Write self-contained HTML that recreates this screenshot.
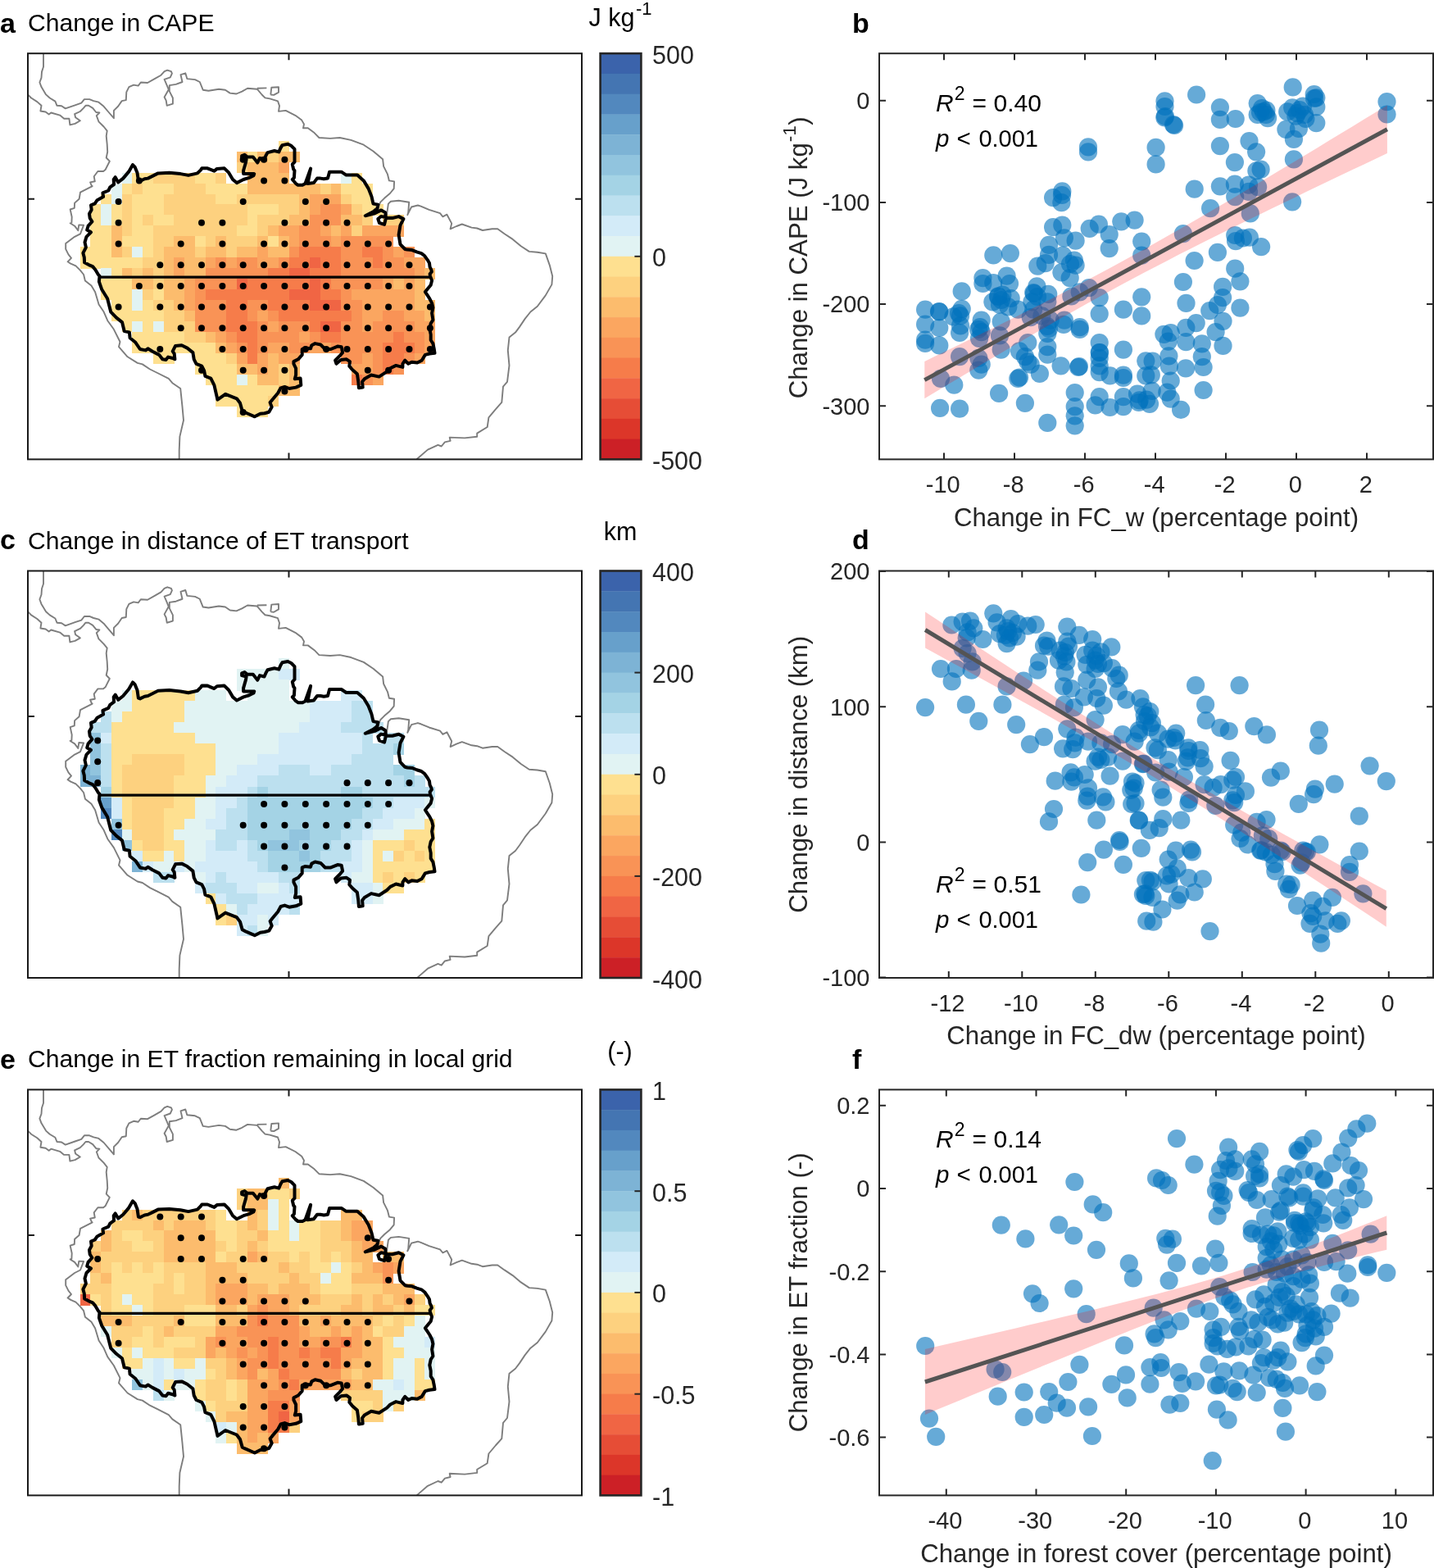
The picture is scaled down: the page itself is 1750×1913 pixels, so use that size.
<!DOCTYPE html>
<html><head><meta charset="utf-8"><title>Figure</title>
<style>html,body{margin:0;padding:0;background:#fff;} svg{display:block;} text{font-family:'Liberation Sans', Arial, Helvetica, sans-serif;}</style>
</head><body>
<svg xmlns="http://www.w3.org/2000/svg" width="1750" height="1913" viewBox="0 0 1750 1913">
<defs><clipPath id="clipm0"><rect x="34.0" y="65.2" width="676.0" height="495.2"/></clipPath><clipPath id="clipm1"><rect x="34.0" y="696.5" width="676.0" height="496.5"/></clipPath><clipPath id="clipm2"><rect x="34.0" y="1329.4" width="676.0" height="495.0"/></clipPath></defs>
<rect width="1750" height="1913" fill="#fff"/>
<text x="0.0" y="40.0" font-size="34" text-anchor="start" font-weight="bold" fill="#000">a</text>
<text x="1040.0" y="40.3" font-size="34" text-anchor="start" font-weight="bold" fill="#000">b</text>
<text x="0.0" y="669.8" font-size="34" text-anchor="start" font-weight="bold" fill="#000">c</text>
<text x="1040.0" y="670.3" font-size="34" text-anchor="start" font-weight="bold" fill="#000">d</text>
<text x="0.0" y="1304.0" font-size="34" text-anchor="start" font-weight="bold" fill="#000">e</text>
<text x="1040.0" y="1303.7" font-size="34" text-anchor="start" font-weight="bold" fill="#000">f</text>
<text x="34.0" y="38.0" font-size="30.1" text-anchor="start" fill="#000">Change in CAPE</text>
<text x="34.0" y="669.5" font-size="30.1" text-anchor="start" fill="#000">Change in distance of ET transport</text>
<text x="34.0" y="1302.0" font-size="30.1" text-anchor="start" fill="#000">Change in ET fraction remaining in local grid</text>
<rect x="732.6" y="65.20" width="49.8" height="25.16" fill="#3B63AB"/>
<rect x="732.6" y="89.96" width="49.8" height="25.16" fill="#4475B2"/>
<rect x="732.6" y="114.72" width="49.8" height="25.16" fill="#5288BE"/>
<rect x="732.6" y="139.48" width="49.8" height="25.16" fill="#67A0CB"/>
<rect x="732.6" y="164.24" width="49.8" height="25.16" fill="#7DB3D5"/>
<rect x="732.6" y="189.00" width="49.8" height="25.16" fill="#91C4DE"/>
<rect x="732.6" y="213.76" width="49.8" height="25.16" fill="#A4D3E5"/>
<rect x="732.6" y="238.52" width="49.8" height="25.16" fill="#BCE0EF"/>
<rect x="732.6" y="263.28" width="49.8" height="25.16" fill="#D3EBF8"/>
<rect x="732.6" y="288.04" width="49.8" height="25.16" fill="#E1F3F3"/>
<rect x="732.6" y="312.80" width="49.8" height="25.16" fill="#FEE090"/>
<rect x="732.6" y="337.56" width="49.8" height="25.16" fill="#FDD17F"/>
<rect x="732.6" y="362.32" width="49.8" height="25.16" fill="#FCBC6D"/>
<rect x="732.6" y="387.08" width="49.8" height="25.16" fill="#FBA660"/>
<rect x="732.6" y="411.84" width="49.8" height="25.16" fill="#F99356"/>
<rect x="732.6" y="436.60" width="49.8" height="25.16" fill="#F67C4A"/>
<rect x="732.6" y="461.36" width="49.8" height="25.16" fill="#F06544"/>
<rect x="732.6" y="486.12" width="49.8" height="25.16" fill="#E64D36"/>
<rect x="732.6" y="510.88" width="49.8" height="25.16" fill="#DC3629"/>
<rect x="732.6" y="535.64" width="49.8" height="25.16" fill="#CC2026"/>
<rect x="732.6" y="65.2" width="49.8" height="495.2" fill="none" stroke="#262626" stroke-width="2.6"/>
<text x="796.0" y="77.7" font-size="30.5" text-anchor="start" fill="#262626">500</text>
<line x1="774.4" y1="312.8" x2="782.4" y2="312.8" stroke="#262626" stroke-width="2"/>
<text x="796.0" y="325.3" font-size="30.5" text-anchor="start" fill="#262626">0</text>
<text x="796.0" y="572.9" font-size="30.5" text-anchor="start" fill="#262626">-500</text>
<text x="718.5" y="32.0" font-size="30.5" text-anchor="start" fill="#000">J kg<tspan font-size="22" dy="-14" dx="1.5">-1</tspan></text>
<rect x="732.6" y="696.50" width="49.8" height="25.22" fill="#3B63AB"/>
<rect x="732.6" y="721.33" width="49.8" height="25.22" fill="#4475B2"/>
<rect x="732.6" y="746.15" width="49.8" height="25.22" fill="#5288BE"/>
<rect x="732.6" y="770.98" width="49.8" height="25.22" fill="#67A0CB"/>
<rect x="732.6" y="795.80" width="49.8" height="25.22" fill="#7DB3D5"/>
<rect x="732.6" y="820.62" width="49.8" height="25.22" fill="#91C4DE"/>
<rect x="732.6" y="845.45" width="49.8" height="25.22" fill="#A4D3E5"/>
<rect x="732.6" y="870.27" width="49.8" height="25.22" fill="#BCE0EF"/>
<rect x="732.6" y="895.10" width="49.8" height="25.22" fill="#D3EBF8"/>
<rect x="732.6" y="919.92" width="49.8" height="25.22" fill="#E1F3F3"/>
<rect x="732.6" y="944.75" width="49.8" height="25.22" fill="#FEE090"/>
<rect x="732.6" y="969.58" width="49.8" height="25.22" fill="#FDD17F"/>
<rect x="732.6" y="994.40" width="49.8" height="25.22" fill="#FCBC6D"/>
<rect x="732.6" y="1019.22" width="49.8" height="25.22" fill="#FBA660"/>
<rect x="732.6" y="1044.05" width="49.8" height="25.22" fill="#F99356"/>
<rect x="732.6" y="1068.88" width="49.8" height="25.22" fill="#F67C4A"/>
<rect x="732.6" y="1093.70" width="49.8" height="25.22" fill="#F06544"/>
<rect x="732.6" y="1118.53" width="49.8" height="25.22" fill="#E64D36"/>
<rect x="732.6" y="1143.35" width="49.8" height="25.22" fill="#DC3629"/>
<rect x="732.6" y="1168.17" width="49.8" height="25.22" fill="#CC2026"/>
<rect x="732.6" y="696.5" width="49.8" height="496.5" fill="none" stroke="#262626" stroke-width="2.6"/>
<text x="796.0" y="709.0" font-size="30.5" text-anchor="start" fill="#262626">400</text>
<line x1="774.4" y1="820.6" x2="782.4" y2="820.6" stroke="#262626" stroke-width="2"/>
<text x="796.0" y="833.1" font-size="30.5" text-anchor="start" fill="#262626">200</text>
<line x1="774.4" y1="944.8" x2="782.4" y2="944.8" stroke="#262626" stroke-width="2"/>
<text x="796.0" y="957.2" font-size="30.5" text-anchor="start" fill="#262626">0</text>
<line x1="774.4" y1="1068.9" x2="782.4" y2="1068.9" stroke="#262626" stroke-width="2"/>
<text x="796.0" y="1081.4" font-size="30.5" text-anchor="start" fill="#262626">-200</text>
<text x="796.0" y="1205.5" font-size="30.5" text-anchor="start" fill="#262626">-400</text>
<text x="757.0" y="659.1" font-size="30.5" text-anchor="middle" fill="#000">km</text>
<rect x="732.6" y="1329.40" width="49.8" height="25.15" fill="#3B63AB"/>
<rect x="732.6" y="1354.15" width="49.8" height="25.15" fill="#4475B2"/>
<rect x="732.6" y="1378.90" width="49.8" height="25.15" fill="#5288BE"/>
<rect x="732.6" y="1403.65" width="49.8" height="25.15" fill="#67A0CB"/>
<rect x="732.6" y="1428.40" width="49.8" height="25.15" fill="#7DB3D5"/>
<rect x="732.6" y="1453.15" width="49.8" height="25.15" fill="#91C4DE"/>
<rect x="732.6" y="1477.90" width="49.8" height="25.15" fill="#A4D3E5"/>
<rect x="732.6" y="1502.65" width="49.8" height="25.15" fill="#BCE0EF"/>
<rect x="732.6" y="1527.40" width="49.8" height="25.15" fill="#D3EBF8"/>
<rect x="732.6" y="1552.15" width="49.8" height="25.15" fill="#E1F3F3"/>
<rect x="732.6" y="1576.90" width="49.8" height="25.15" fill="#FEE090"/>
<rect x="732.6" y="1601.65" width="49.8" height="25.15" fill="#FDD17F"/>
<rect x="732.6" y="1626.40" width="49.8" height="25.15" fill="#FCBC6D"/>
<rect x="732.6" y="1651.15" width="49.8" height="25.15" fill="#FBA660"/>
<rect x="732.6" y="1675.90" width="49.8" height="25.15" fill="#F99356"/>
<rect x="732.6" y="1700.65" width="49.8" height="25.15" fill="#F67C4A"/>
<rect x="732.6" y="1725.40" width="49.8" height="25.15" fill="#F06544"/>
<rect x="732.6" y="1750.15" width="49.8" height="25.15" fill="#E64D36"/>
<rect x="732.6" y="1774.90" width="49.8" height="25.15" fill="#DC3629"/>
<rect x="732.6" y="1799.65" width="49.8" height="25.15" fill="#CC2026"/>
<rect x="732.6" y="1329.4" width="49.8" height="495.0" fill="none" stroke="#262626" stroke-width="2.6"/>
<text x="796.0" y="1341.9" font-size="30.5" text-anchor="start" fill="#262626">1</text>
<line x1="774.4" y1="1453.2" x2="782.4" y2="1453.2" stroke="#262626" stroke-width="2"/>
<text x="796.0" y="1465.7" font-size="30.5" text-anchor="start" fill="#262626">0.5</text>
<line x1="774.4" y1="1576.9" x2="782.4" y2="1576.9" stroke="#262626" stroke-width="2"/>
<text x="796.0" y="1589.4" font-size="30.5" text-anchor="start" fill="#262626">0</text>
<line x1="774.4" y1="1700.7" x2="782.4" y2="1700.7" stroke="#262626" stroke-width="2"/>
<text x="796.0" y="1713.2" font-size="30.5" text-anchor="start" fill="#262626">-0.5</text>
<text x="796.0" y="1836.9" font-size="30.5" text-anchor="start" fill="#262626">-1</text>
<text x="756.5" y="1292.8" font-size="30.5" text-anchor="middle" fill="#000">(-)</text>
<g id="map0" clip-path="url(#clipm0)"><g transform=""><g shape-rendering="crispEdges"><rect x="339.75" y="171.75" width="13.15" height="13.35" fill="#FEE090"/><rect x="288.75" y="184.70" width="13.15" height="13.35" fill="#FCBC6D"/><rect x="301.50" y="184.70" width="13.15" height="13.35" fill="#FEE090"/><rect x="314.25" y="184.70" width="13.15" height="13.35" fill="#FCBC6D"/><rect x="327.00" y="184.70" width="13.15" height="13.35" fill="#FDD17F"/><rect x="339.75" y="184.70" width="13.15" height="13.35" fill="#FCBC6D"/><rect x="352.50" y="184.70" width="13.15" height="13.35" fill="#FCBC6D"/><rect x="288.75" y="197.65" width="13.15" height="13.35" fill="#FDD17F"/><rect x="301.50" y="197.65" width="13.15" height="13.35" fill="#FCBC6D"/><rect x="314.25" y="197.65" width="13.15" height="13.35" fill="#FCBC6D"/><rect x="327.00" y="197.65" width="13.15" height="13.35" fill="#FCBC6D"/><rect x="339.75" y="197.65" width="13.15" height="13.35" fill="#FBA660"/><rect x="148.50" y="210.60" width="13.15" height="13.35" fill="#E1F3F3"/><rect x="161.25" y="210.60" width="13.15" height="13.35" fill="#FEE090"/><rect x="174.00" y="210.60" width="13.15" height="13.35" fill="#FEE090"/><rect x="186.75" y="210.60" width="13.15" height="13.35" fill="#FDD17F"/><rect x="199.50" y="210.60" width="13.15" height="13.35" fill="#FDD17F"/><rect x="212.25" y="210.60" width="13.15" height="13.35" fill="#FDD17F"/><rect x="225.00" y="210.60" width="13.15" height="13.35" fill="#FDD17F"/><rect x="237.75" y="210.60" width="13.15" height="13.35" fill="#FEE090"/><rect x="250.50" y="210.60" width="13.15" height="13.35" fill="#FEE090"/><rect x="263.25" y="210.60" width="13.15" height="13.35" fill="#FDD17F"/><rect x="301.50" y="210.60" width="13.15" height="13.35" fill="#FCBC6D"/><rect x="314.25" y="210.60" width="13.15" height="13.35" fill="#FCBC6D"/><rect x="327.00" y="210.60" width="13.15" height="13.35" fill="#FCBC6D"/><rect x="339.75" y="210.60" width="13.15" height="13.35" fill="#FCBC6D"/><rect x="416.25" y="210.60" width="13.15" height="13.35" fill="#E1F3F3"/><rect x="429.00" y="210.60" width="13.15" height="13.35" fill="#FEE090"/><rect x="135.75" y="223.55" width="13.15" height="13.35" fill="#E1F3F3"/><rect x="148.50" y="223.55" width="13.15" height="13.35" fill="#FEE090"/><rect x="161.25" y="223.55" width="13.15" height="13.35" fill="#FDD17F"/><rect x="174.00" y="223.55" width="13.15" height="13.35" fill="#FEE090"/><rect x="186.75" y="223.55" width="13.15" height="13.35" fill="#FEE090"/><rect x="199.50" y="223.55" width="13.15" height="13.35" fill="#FEE090"/><rect x="212.25" y="223.55" width="13.15" height="13.35" fill="#FDD17F"/><rect x="225.00" y="223.55" width="13.15" height="13.35" fill="#FDD17F"/><rect x="237.75" y="223.55" width="13.15" height="13.35" fill="#FDD17F"/><rect x="250.50" y="223.55" width="13.15" height="13.35" fill="#FEE090"/><rect x="263.25" y="223.55" width="13.15" height="13.35" fill="#FEE090"/><rect x="276.00" y="223.55" width="13.15" height="13.35" fill="#FEE090"/><rect x="288.75" y="223.55" width="13.15" height="13.35" fill="#FEE090"/><rect x="301.50" y="223.55" width="13.15" height="13.35" fill="#FCBC6D"/><rect x="314.25" y="223.55" width="13.15" height="13.35" fill="#FCBC6D"/><rect x="327.00" y="223.55" width="13.15" height="13.35" fill="#FCBC6D"/><rect x="339.75" y="223.55" width="13.15" height="13.35" fill="#FCBC6D"/><rect x="352.50" y="223.55" width="13.15" height="13.35" fill="#FCBC6D"/><rect x="365.25" y="223.55" width="13.15" height="13.35" fill="#FCBC6D"/><rect x="378.00" y="223.55" width="13.15" height="13.35" fill="#FCBC6D"/><rect x="390.75" y="223.55" width="13.15" height="13.35" fill="#FDD17F"/><rect x="403.50" y="223.55" width="13.15" height="13.35" fill="#FCBC6D"/><rect x="416.25" y="223.55" width="13.15" height="13.35" fill="#FEE090"/><rect x="429.00" y="223.55" width="13.15" height="13.35" fill="#FEE090"/><rect x="441.75" y="223.55" width="13.15" height="13.35" fill="#FEE090"/><rect x="123.00" y="236.50" width="13.15" height="13.35" fill="#FEE090"/><rect x="135.75" y="236.50" width="13.15" height="13.35" fill="#E1F3F3"/><rect x="148.50" y="236.50" width="13.15" height="13.35" fill="#FDD17F"/><rect x="161.25" y="236.50" width="13.15" height="13.35" fill="#FEE090"/><rect x="174.00" y="236.50" width="13.15" height="13.35" fill="#FEE090"/><rect x="186.75" y="236.50" width="13.15" height="13.35" fill="#FEE090"/><rect x="199.50" y="236.50" width="13.15" height="13.35" fill="#FDD17F"/><rect x="212.25" y="236.50" width="13.15" height="13.35" fill="#FDD17F"/><rect x="225.00" y="236.50" width="13.15" height="13.35" fill="#FDD17F"/><rect x="237.75" y="236.50" width="13.15" height="13.35" fill="#FDD17F"/><rect x="250.50" y="236.50" width="13.15" height="13.35" fill="#FDD17F"/><rect x="263.25" y="236.50" width="13.15" height="13.35" fill="#FEE090"/><rect x="276.00" y="236.50" width="13.15" height="13.35" fill="#FEE090"/><rect x="288.75" y="236.50" width="13.15" height="13.35" fill="#FDD17F"/><rect x="301.50" y="236.50" width="13.15" height="13.35" fill="#FDD17F"/><rect x="314.25" y="236.50" width="13.15" height="13.35" fill="#FDD17F"/><rect x="327.00" y="236.50" width="13.15" height="13.35" fill="#FDD17F"/><rect x="339.75" y="236.50" width="13.15" height="13.35" fill="#FDD17F"/><rect x="352.50" y="236.50" width="13.15" height="13.35" fill="#FDD17F"/><rect x="365.25" y="236.50" width="13.15" height="13.35" fill="#FCBC6D"/><rect x="378.00" y="236.50" width="13.15" height="13.35" fill="#FBA660"/><rect x="390.75" y="236.50" width="13.15" height="13.35" fill="#FBA660"/><rect x="403.50" y="236.50" width="13.15" height="13.35" fill="#FBA660"/><rect x="416.25" y="236.50" width="13.15" height="13.35" fill="#FDD17F"/><rect x="429.00" y="236.50" width="13.15" height="13.35" fill="#FEE090"/><rect x="441.75" y="236.50" width="13.15" height="13.35" fill="#FEE090"/><rect x="110.25" y="249.45" width="13.15" height="13.35" fill="#FEE090"/><rect x="123.00" y="249.45" width="13.15" height="13.35" fill="#E1F3F3"/><rect x="135.75" y="249.45" width="13.15" height="13.35" fill="#FEE090"/><rect x="148.50" y="249.45" width="13.15" height="13.35" fill="#FDD17F"/><rect x="161.25" y="249.45" width="13.15" height="13.35" fill="#FEE090"/><rect x="174.00" y="249.45" width="13.15" height="13.35" fill="#FEE090"/><rect x="186.75" y="249.45" width="13.15" height="13.35" fill="#FEE090"/><rect x="199.50" y="249.45" width="13.15" height="13.35" fill="#FDD17F"/><rect x="212.25" y="249.45" width="13.15" height="13.35" fill="#FDD17F"/><rect x="225.00" y="249.45" width="13.15" height="13.35" fill="#FDD17F"/><rect x="237.75" y="249.45" width="13.15" height="13.35" fill="#FDD17F"/><rect x="250.50" y="249.45" width="13.15" height="13.35" fill="#FDD17F"/><rect x="263.25" y="249.45" width="13.15" height="13.35" fill="#FDD17F"/><rect x="276.00" y="249.45" width="13.15" height="13.35" fill="#FDD17F"/><rect x="288.75" y="249.45" width="13.15" height="13.35" fill="#FDD17F"/><rect x="301.50" y="249.45" width="13.15" height="13.35" fill="#FEE090"/><rect x="314.25" y="249.45" width="13.15" height="13.35" fill="#FEE090"/><rect x="327.00" y="249.45" width="13.15" height="13.35" fill="#FEE090"/><rect x="339.75" y="249.45" width="13.15" height="13.35" fill="#FDD17F"/><rect x="352.50" y="249.45" width="13.15" height="13.35" fill="#FDD17F"/><rect x="365.25" y="249.45" width="13.15" height="13.35" fill="#FCBC6D"/><rect x="378.00" y="249.45" width="13.15" height="13.35" fill="#FBA660"/><rect x="390.75" y="249.45" width="13.15" height="13.35" fill="#F99356"/><rect x="403.50" y="249.45" width="13.15" height="13.35" fill="#F99356"/><rect x="416.25" y="249.45" width="13.15" height="13.35" fill="#FBA660"/><rect x="429.00" y="249.45" width="13.15" height="13.35" fill="#FDD17F"/><rect x="441.75" y="249.45" width="13.15" height="13.35" fill="#FEE090"/><rect x="454.50" y="249.45" width="13.15" height="13.35" fill="#FEE090"/><rect x="110.25" y="262.40" width="13.15" height="13.35" fill="#FEE090"/><rect x="123.00" y="262.40" width="13.15" height="13.35" fill="#E1F3F3"/><rect x="135.75" y="262.40" width="13.15" height="13.35" fill="#FEE090"/><rect x="148.50" y="262.40" width="13.15" height="13.35" fill="#FDD17F"/><rect x="161.25" y="262.40" width="13.15" height="13.35" fill="#FEE090"/><rect x="174.00" y="262.40" width="13.15" height="13.35" fill="#FDD17F"/><rect x="186.75" y="262.40" width="13.15" height="13.35" fill="#FEE090"/><rect x="199.50" y="262.40" width="13.15" height="13.35" fill="#FEE090"/><rect x="212.25" y="262.40" width="13.15" height="13.35" fill="#FDD17F"/><rect x="225.00" y="262.40" width="13.15" height="13.35" fill="#FDD17F"/><rect x="237.75" y="262.40" width="13.15" height="13.35" fill="#FDD17F"/><rect x="250.50" y="262.40" width="13.15" height="13.35" fill="#FDD17F"/><rect x="263.25" y="262.40" width="13.15" height="13.35" fill="#FDD17F"/><rect x="276.00" y="262.40" width="13.15" height="13.35" fill="#FDD17F"/><rect x="288.75" y="262.40" width="13.15" height="13.35" fill="#FDD17F"/><rect x="301.50" y="262.40" width="13.15" height="13.35" fill="#FEE090"/><rect x="314.25" y="262.40" width="13.15" height="13.35" fill="#FDD17F"/><rect x="327.00" y="262.40" width="13.15" height="13.35" fill="#FDD17F"/><rect x="339.75" y="262.40" width="13.15" height="13.35" fill="#FDD17F"/><rect x="352.50" y="262.40" width="13.15" height="13.35" fill="#FCBC6D"/><rect x="365.25" y="262.40" width="13.15" height="13.35" fill="#FCBC6D"/><rect x="378.00" y="262.40" width="13.15" height="13.35" fill="#F99356"/><rect x="390.75" y="262.40" width="13.15" height="13.35" fill="#F99356"/><rect x="403.50" y="262.40" width="13.15" height="13.35" fill="#F99356"/><rect x="416.25" y="262.40" width="13.15" height="13.35" fill="#FCBC6D"/><rect x="429.00" y="262.40" width="13.15" height="13.35" fill="#FCBC6D"/><rect x="441.75" y="262.40" width="13.15" height="13.35" fill="#FDD17F"/><rect x="467.25" y="262.40" width="13.15" height="13.35" fill="#FDD17F"/><rect x="480.00" y="262.40" width="13.15" height="13.35" fill="#FDD17F"/><rect x="110.25" y="275.35" width="13.15" height="13.35" fill="#FEE090"/><rect x="123.00" y="275.35" width="13.15" height="13.35" fill="#FEE090"/><rect x="135.75" y="275.35" width="13.15" height="13.35" fill="#FCBC6D"/><rect x="148.50" y="275.35" width="13.15" height="13.35" fill="#FDD17F"/><rect x="161.25" y="275.35" width="13.15" height="13.35" fill="#FEE090"/><rect x="174.00" y="275.35" width="13.15" height="13.35" fill="#FEE090"/><rect x="186.75" y="275.35" width="13.15" height="13.35" fill="#FDD17F"/><rect x="199.50" y="275.35" width="13.15" height="13.35" fill="#FDD17F"/><rect x="212.25" y="275.35" width="13.15" height="13.35" fill="#FDD17F"/><rect x="225.00" y="275.35" width="13.15" height="13.35" fill="#FDD17F"/><rect x="237.75" y="275.35" width="13.15" height="13.35" fill="#FDD17F"/><rect x="250.50" y="275.35" width="13.15" height="13.35" fill="#FDD17F"/><rect x="263.25" y="275.35" width="13.15" height="13.35" fill="#FDD17F"/><rect x="276.00" y="275.35" width="13.15" height="13.35" fill="#FDD17F"/><rect x="288.75" y="275.35" width="13.15" height="13.35" fill="#FEE090"/><rect x="301.50" y="275.35" width="13.15" height="13.35" fill="#FEE090"/><rect x="314.25" y="275.35" width="13.15" height="13.35" fill="#FDD17F"/><rect x="327.00" y="275.35" width="13.15" height="13.35" fill="#FCBC6D"/><rect x="339.75" y="275.35" width="13.15" height="13.35" fill="#FBA660"/><rect x="352.50" y="275.35" width="13.15" height="13.35" fill="#FBA660"/><rect x="365.25" y="275.35" width="13.15" height="13.35" fill="#F99356"/><rect x="378.00" y="275.35" width="13.15" height="13.35" fill="#F99356"/><rect x="390.75" y="275.35" width="13.15" height="13.35" fill="#FBA660"/><rect x="403.50" y="275.35" width="13.15" height="13.35" fill="#FCBC6D"/><rect x="416.25" y="275.35" width="13.15" height="13.35" fill="#FBA660"/><rect x="429.00" y="275.35" width="13.15" height="13.35" fill="#FDD17F"/><rect x="441.75" y="275.35" width="13.15" height="13.35" fill="#FBA660"/><rect x="454.50" y="275.35" width="13.15" height="13.35" fill="#FBA660"/><rect x="467.25" y="275.35" width="13.15" height="13.35" fill="#FBA660"/><rect x="480.00" y="275.35" width="13.15" height="13.35" fill="#FBA660"/><rect x="110.25" y="288.30" width="13.15" height="13.35" fill="#FEE090"/><rect x="123.00" y="288.30" width="13.15" height="13.35" fill="#FEE090"/><rect x="135.75" y="288.30" width="13.15" height="13.35" fill="#FCBC6D"/><rect x="148.50" y="288.30" width="13.15" height="13.35" fill="#FEE090"/><rect x="161.25" y="288.30" width="13.15" height="13.35" fill="#FEE090"/><rect x="174.00" y="288.30" width="13.15" height="13.35" fill="#FEE090"/><rect x="186.75" y="288.30" width="13.15" height="13.35" fill="#FDD17F"/><rect x="199.50" y="288.30" width="13.15" height="13.35" fill="#FDD17F"/><rect x="212.25" y="288.30" width="13.15" height="13.35" fill="#FCBC6D"/><rect x="225.00" y="288.30" width="13.15" height="13.35" fill="#FCBC6D"/><rect x="237.75" y="288.30" width="13.15" height="13.35" fill="#FEE090"/><rect x="250.50" y="288.30" width="13.15" height="13.35" fill="#FDD17F"/><rect x="263.25" y="288.30" width="13.15" height="13.35" fill="#FCBC6D"/><rect x="276.00" y="288.30" width="13.15" height="13.35" fill="#FDD17F"/><rect x="288.75" y="288.30" width="13.15" height="13.35" fill="#FDD17F"/><rect x="301.50" y="288.30" width="13.15" height="13.35" fill="#FDD17F"/><rect x="314.25" y="288.30" width="13.15" height="13.35" fill="#FCBC6D"/><rect x="327.00" y="288.30" width="13.15" height="13.35" fill="#FEE090"/><rect x="339.75" y="288.30" width="13.15" height="13.35" fill="#FCBC6D"/><rect x="352.50" y="288.30" width="13.15" height="13.35" fill="#FBA660"/><rect x="365.25" y="288.30" width="13.15" height="13.35" fill="#F99356"/><rect x="378.00" y="288.30" width="13.15" height="13.35" fill="#F99356"/><rect x="390.75" y="288.30" width="13.15" height="13.35" fill="#F99356"/><rect x="403.50" y="288.30" width="13.15" height="13.35" fill="#FBA660"/><rect x="416.25" y="288.30" width="13.15" height="13.35" fill="#F99356"/><rect x="429.00" y="288.30" width="13.15" height="13.35" fill="#F99356"/><rect x="441.75" y="288.30" width="13.15" height="13.35" fill="#F99356"/><rect x="454.50" y="288.30" width="13.15" height="13.35" fill="#F99356"/><rect x="467.25" y="288.30" width="13.15" height="13.35" fill="#F99356"/><rect x="97.50" y="301.25" width="13.15" height="13.35" fill="#FEE090"/><rect x="110.25" y="301.25" width="13.15" height="13.35" fill="#FEE090"/><rect x="123.00" y="301.25" width="13.15" height="13.35" fill="#FEE090"/><rect x="135.75" y="301.25" width="13.15" height="13.35" fill="#FCBC6D"/><rect x="148.50" y="301.25" width="13.15" height="13.35" fill="#FDD17F"/><rect x="161.25" y="301.25" width="13.15" height="13.35" fill="#E1F3F3"/><rect x="174.00" y="301.25" width="13.15" height="13.35" fill="#FEE090"/><rect x="186.75" y="301.25" width="13.15" height="13.35" fill="#FDD17F"/><rect x="199.50" y="301.25" width="13.15" height="13.35" fill="#FCBC6D"/><rect x="212.25" y="301.25" width="13.15" height="13.35" fill="#FCBC6D"/><rect x="225.00" y="301.25" width="13.15" height="13.35" fill="#FCBC6D"/><rect x="237.75" y="301.25" width="13.15" height="13.35" fill="#FDD17F"/><rect x="250.50" y="301.25" width="13.15" height="13.35" fill="#FCBC6D"/><rect x="263.25" y="301.25" width="13.15" height="13.35" fill="#FCBC6D"/><rect x="276.00" y="301.25" width="13.15" height="13.35" fill="#FDD17F"/><rect x="288.75" y="301.25" width="13.15" height="13.35" fill="#FCBC6D"/><rect x="301.50" y="301.25" width="13.15" height="13.35" fill="#FCBC6D"/><rect x="314.25" y="301.25" width="13.15" height="13.35" fill="#FBA660"/><rect x="327.00" y="301.25" width="13.15" height="13.35" fill="#FCBC6D"/><rect x="339.75" y="301.25" width="13.15" height="13.35" fill="#FCBC6D"/><rect x="352.50" y="301.25" width="13.15" height="13.35" fill="#F99356"/><rect x="365.25" y="301.25" width="13.15" height="13.35" fill="#F67C4A"/><rect x="378.00" y="301.25" width="13.15" height="13.35" fill="#F67C4A"/><rect x="390.75" y="301.25" width="13.15" height="13.35" fill="#F67C4A"/><rect x="403.50" y="301.25" width="13.15" height="13.35" fill="#F67C4A"/><rect x="416.25" y="301.25" width="13.15" height="13.35" fill="#F99356"/><rect x="429.00" y="301.25" width="13.15" height="13.35" fill="#F99356"/><rect x="441.75" y="301.25" width="13.15" height="13.35" fill="#F67C4A"/><rect x="454.50" y="301.25" width="13.15" height="13.35" fill="#F67C4A"/><rect x="467.25" y="301.25" width="13.15" height="13.35" fill="#F99356"/><rect x="480.00" y="301.25" width="13.15" height="13.35" fill="#FBA660"/><rect x="492.75" y="301.25" width="13.15" height="13.35" fill="#F99356"/><rect x="97.50" y="314.20" width="13.15" height="13.35" fill="#FEE090"/><rect x="110.25" y="314.20" width="13.15" height="13.35" fill="#FEE090"/><rect x="123.00" y="314.20" width="13.15" height="13.35" fill="#FEE090"/><rect x="135.75" y="314.20" width="13.15" height="13.35" fill="#FEE090"/><rect x="148.50" y="314.20" width="13.15" height="13.35" fill="#FEE090"/><rect x="161.25" y="314.20" width="13.15" height="13.35" fill="#FEE090"/><rect x="174.00" y="314.20" width="13.15" height="13.35" fill="#FDD17F"/><rect x="186.75" y="314.20" width="13.15" height="13.35" fill="#FDD17F"/><rect x="199.50" y="314.20" width="13.15" height="13.35" fill="#FCBC6D"/><rect x="212.25" y="314.20" width="13.15" height="13.35" fill="#FBA660"/><rect x="225.00" y="314.20" width="13.15" height="13.35" fill="#FCBC6D"/><rect x="237.75" y="314.20" width="13.15" height="13.35" fill="#FCBC6D"/><rect x="250.50" y="314.20" width="13.15" height="13.35" fill="#FBA660"/><rect x="263.25" y="314.20" width="13.15" height="13.35" fill="#F99356"/><rect x="276.00" y="314.20" width="13.15" height="13.35" fill="#FBA660"/><rect x="288.75" y="314.20" width="13.15" height="13.35" fill="#F99356"/><rect x="301.50" y="314.20" width="13.15" height="13.35" fill="#F99356"/><rect x="314.25" y="314.20" width="13.15" height="13.35" fill="#FBA660"/><rect x="327.00" y="314.20" width="13.15" height="13.35" fill="#FBA660"/><rect x="339.75" y="314.20" width="13.15" height="13.35" fill="#F99356"/><rect x="352.50" y="314.20" width="13.15" height="13.35" fill="#F67C4A"/><rect x="365.25" y="314.20" width="13.15" height="13.35" fill="#F67C4A"/><rect x="378.00" y="314.20" width="13.15" height="13.35" fill="#F06544"/><rect x="390.75" y="314.20" width="13.15" height="13.35" fill="#F67C4A"/><rect x="403.50" y="314.20" width="13.15" height="13.35" fill="#F67C4A"/><rect x="416.25" y="314.20" width="13.15" height="13.35" fill="#F99356"/><rect x="429.00" y="314.20" width="13.15" height="13.35" fill="#F99356"/><rect x="441.75" y="314.20" width="13.15" height="13.35" fill="#F99356"/><rect x="454.50" y="314.20" width="13.15" height="13.35" fill="#F67C4A"/><rect x="467.25" y="314.20" width="13.15" height="13.35" fill="#F99356"/><rect x="480.00" y="314.20" width="13.15" height="13.35" fill="#F99356"/><rect x="492.75" y="314.20" width="13.15" height="13.35" fill="#FBA660"/><rect x="505.50" y="314.20" width="13.15" height="13.35" fill="#FBA660"/><rect x="123.00" y="327.15" width="13.15" height="13.35" fill="#E1F3F3"/><rect x="135.75" y="327.15" width="13.15" height="13.35" fill="#FEE090"/><rect x="148.50" y="327.15" width="13.15" height="13.35" fill="#FCBC6D"/><rect x="161.25" y="327.15" width="13.15" height="13.35" fill="#FDD17F"/><rect x="174.00" y="327.15" width="13.15" height="13.35" fill="#FCBC6D"/><rect x="186.75" y="327.15" width="13.15" height="13.35" fill="#FDD17F"/><rect x="199.50" y="327.15" width="13.15" height="13.35" fill="#FCBC6D"/><rect x="212.25" y="327.15" width="13.15" height="13.35" fill="#FBA660"/><rect x="225.00" y="327.15" width="13.15" height="13.35" fill="#FCBC6D"/><rect x="237.75" y="327.15" width="13.15" height="13.35" fill="#FCBC6D"/><rect x="250.50" y="327.15" width="13.15" height="13.35" fill="#F99356"/><rect x="263.25" y="327.15" width="13.15" height="13.35" fill="#F99356"/><rect x="276.00" y="327.15" width="13.15" height="13.35" fill="#F99356"/><rect x="288.75" y="327.15" width="13.15" height="13.35" fill="#F99356"/><rect x="301.50" y="327.15" width="13.15" height="13.35" fill="#F99356"/><rect x="314.25" y="327.15" width="13.15" height="13.35" fill="#F99356"/><rect x="327.00" y="327.15" width="13.15" height="13.35" fill="#F67C4A"/><rect x="339.75" y="327.15" width="13.15" height="13.35" fill="#F67C4A"/><rect x="352.50" y="327.15" width="13.15" height="13.35" fill="#F06544"/><rect x="365.25" y="327.15" width="13.15" height="13.35" fill="#F06544"/><rect x="378.00" y="327.15" width="13.15" height="13.35" fill="#F67C4A"/><rect x="390.75" y="327.15" width="13.15" height="13.35" fill="#F67C4A"/><rect x="403.50" y="327.15" width="13.15" height="13.35" fill="#F67C4A"/><rect x="416.25" y="327.15" width="13.15" height="13.35" fill="#F99356"/><rect x="429.00" y="327.15" width="13.15" height="13.35" fill="#F99356"/><rect x="441.75" y="327.15" width="13.15" height="13.35" fill="#F99356"/><rect x="454.50" y="327.15" width="13.15" height="13.35" fill="#F99356"/><rect x="467.25" y="327.15" width="13.15" height="13.35" fill="#F99356"/><rect x="480.00" y="327.15" width="13.15" height="13.35" fill="#F99356"/><rect x="492.75" y="327.15" width="13.15" height="13.35" fill="#F99356"/><rect x="505.50" y="327.15" width="13.15" height="13.35" fill="#FBA660"/><rect x="518.25" y="327.15" width="13.15" height="13.35" fill="#FCBC6D"/><rect x="123.00" y="340.10" width="13.15" height="13.35" fill="#FEE090"/><rect x="135.75" y="340.10" width="13.15" height="13.35" fill="#FEE090"/><rect x="148.50" y="340.10" width="13.15" height="13.35" fill="#FEE090"/><rect x="161.25" y="340.10" width="13.15" height="13.35" fill="#FCBC6D"/><rect x="174.00" y="340.10" width="13.15" height="13.35" fill="#FCBC6D"/><rect x="186.75" y="340.10" width="13.15" height="13.35" fill="#FDD17F"/><rect x="199.50" y="340.10" width="13.15" height="13.35" fill="#FCBC6D"/><rect x="212.25" y="340.10" width="13.15" height="13.35" fill="#FCBC6D"/><rect x="225.00" y="340.10" width="13.15" height="13.35" fill="#FBA660"/><rect x="237.75" y="340.10" width="13.15" height="13.35" fill="#F99356"/><rect x="250.50" y="340.10" width="13.15" height="13.35" fill="#F99356"/><rect x="263.25" y="340.10" width="13.15" height="13.35" fill="#F99356"/><rect x="276.00" y="340.10" width="13.15" height="13.35" fill="#F99356"/><rect x="288.75" y="340.10" width="13.15" height="13.35" fill="#F06544"/><rect x="301.50" y="340.10" width="13.15" height="13.35" fill="#F67C4A"/><rect x="314.25" y="340.10" width="13.15" height="13.35" fill="#F67C4A"/><rect x="327.00" y="340.10" width="13.15" height="13.35" fill="#F67C4A"/><rect x="339.75" y="340.10" width="13.15" height="13.35" fill="#F67C4A"/><rect x="352.50" y="340.10" width="13.15" height="13.35" fill="#F67C4A"/><rect x="365.25" y="340.10" width="13.15" height="13.35" fill="#F67C4A"/><rect x="378.00" y="340.10" width="13.15" height="13.35" fill="#F06544"/><rect x="390.75" y="340.10" width="13.15" height="13.35" fill="#F67C4A"/><rect x="403.50" y="340.10" width="13.15" height="13.35" fill="#F99356"/><rect x="416.25" y="340.10" width="13.15" height="13.35" fill="#F99356"/><rect x="429.00" y="340.10" width="13.15" height="13.35" fill="#F99356"/><rect x="441.75" y="340.10" width="13.15" height="13.35" fill="#F99356"/><rect x="454.50" y="340.10" width="13.15" height="13.35" fill="#F99356"/><rect x="467.25" y="340.10" width="13.15" height="13.35" fill="#FBA660"/><rect x="480.00" y="340.10" width="13.15" height="13.35" fill="#FCBC6D"/><rect x="492.75" y="340.10" width="13.15" height="13.35" fill="#FBA660"/><rect x="505.50" y="340.10" width="13.15" height="13.35" fill="#FCBC6D"/><rect x="123.00" y="353.05" width="13.15" height="13.35" fill="#FEE090"/><rect x="135.75" y="353.05" width="13.15" height="13.35" fill="#FEE090"/><rect x="148.50" y="353.05" width="13.15" height="13.35" fill="#FEE090"/><rect x="161.25" y="353.05" width="13.15" height="13.35" fill="#E1F3F3"/><rect x="174.00" y="353.05" width="13.15" height="13.35" fill="#FDD17F"/><rect x="186.75" y="353.05" width="13.15" height="13.35" fill="#FEE090"/><rect x="199.50" y="353.05" width="13.15" height="13.35" fill="#FCBC6D"/><rect x="212.25" y="353.05" width="13.15" height="13.35" fill="#FCBC6D"/><rect x="225.00" y="353.05" width="13.15" height="13.35" fill="#FBA660"/><rect x="237.75" y="353.05" width="13.15" height="13.35" fill="#F99356"/><rect x="250.50" y="353.05" width="13.15" height="13.35" fill="#F67C4A"/><rect x="263.25" y="353.05" width="13.15" height="13.35" fill="#F67C4A"/><rect x="276.00" y="353.05" width="13.15" height="13.35" fill="#F67C4A"/><rect x="288.75" y="353.05" width="13.15" height="13.35" fill="#F67C4A"/><rect x="301.50" y="353.05" width="13.15" height="13.35" fill="#F67C4A"/><rect x="314.25" y="353.05" width="13.15" height="13.35" fill="#F67C4A"/><rect x="327.00" y="353.05" width="13.15" height="13.35" fill="#F67C4A"/><rect x="339.75" y="353.05" width="13.15" height="13.35" fill="#F67C4A"/><rect x="352.50" y="353.05" width="13.15" height="13.35" fill="#F06544"/><rect x="365.25" y="353.05" width="13.15" height="13.35" fill="#F06544"/><rect x="378.00" y="353.05" width="13.15" height="13.35" fill="#F06544"/><rect x="390.75" y="353.05" width="13.15" height="13.35" fill="#F67C4A"/><rect x="403.50" y="353.05" width="13.15" height="13.35" fill="#F67C4A"/><rect x="416.25" y="353.05" width="13.15" height="13.35" fill="#F99356"/><rect x="429.00" y="353.05" width="13.15" height="13.35" fill="#FBA660"/><rect x="441.75" y="353.05" width="13.15" height="13.35" fill="#FBA660"/><rect x="454.50" y="353.05" width="13.15" height="13.35" fill="#FBA660"/><rect x="467.25" y="353.05" width="13.15" height="13.35" fill="#FBA660"/><rect x="480.00" y="353.05" width="13.15" height="13.35" fill="#FBA660"/><rect x="492.75" y="353.05" width="13.15" height="13.35" fill="#FBA660"/><rect x="505.50" y="353.05" width="13.15" height="13.35" fill="#FCBC6D"/><rect x="135.75" y="366.00" width="13.15" height="13.35" fill="#FEE090"/><rect x="148.50" y="366.00" width="13.15" height="13.35" fill="#FEE090"/><rect x="161.25" y="366.00" width="13.15" height="13.35" fill="#E1F3F3"/><rect x="174.00" y="366.00" width="13.15" height="13.35" fill="#FEE090"/><rect x="186.75" y="366.00" width="13.15" height="13.35" fill="#FDD17F"/><rect x="199.50" y="366.00" width="13.15" height="13.35" fill="#FDD17F"/><rect x="212.25" y="366.00" width="13.15" height="13.35" fill="#FCBC6D"/><rect x="225.00" y="366.00" width="13.15" height="13.35" fill="#FBA660"/><rect x="237.75" y="366.00" width="13.15" height="13.35" fill="#F99356"/><rect x="250.50" y="366.00" width="13.15" height="13.35" fill="#F99356"/><rect x="263.25" y="366.00" width="13.15" height="13.35" fill="#F99356"/><rect x="276.00" y="366.00" width="13.15" height="13.35" fill="#F67C4A"/><rect x="288.75" y="366.00" width="13.15" height="13.35" fill="#F67C4A"/><rect x="301.50" y="366.00" width="13.15" height="13.35" fill="#F99356"/><rect x="314.25" y="366.00" width="13.15" height="13.35" fill="#F99356"/><rect x="327.00" y="366.00" width="13.15" height="13.35" fill="#F67C4A"/><rect x="339.75" y="366.00" width="13.15" height="13.35" fill="#F67C4A"/><rect x="352.50" y="366.00" width="13.15" height="13.35" fill="#F67C4A"/><rect x="365.25" y="366.00" width="13.15" height="13.35" fill="#F67C4A"/><rect x="378.00" y="366.00" width="13.15" height="13.35" fill="#F06544"/><rect x="390.75" y="366.00" width="13.15" height="13.35" fill="#F06544"/><rect x="403.50" y="366.00" width="13.15" height="13.35" fill="#F06544"/><rect x="416.25" y="366.00" width="13.15" height="13.35" fill="#F99356"/><rect x="429.00" y="366.00" width="13.15" height="13.35" fill="#F99356"/><rect x="441.75" y="366.00" width="13.15" height="13.35" fill="#FBA660"/><rect x="454.50" y="366.00" width="13.15" height="13.35" fill="#FBA660"/><rect x="467.25" y="366.00" width="13.15" height="13.35" fill="#FBA660"/><rect x="480.00" y="366.00" width="13.15" height="13.35" fill="#FBA660"/><rect x="492.75" y="366.00" width="13.15" height="13.35" fill="#FBA660"/><rect x="505.50" y="366.00" width="13.15" height="13.35" fill="#FCBC6D"/><rect x="518.25" y="366.00" width="13.15" height="13.35" fill="#FCBC6D"/><rect x="135.75" y="378.95" width="13.15" height="13.35" fill="#FEE090"/><rect x="148.50" y="378.95" width="13.15" height="13.35" fill="#FEE090"/><rect x="161.25" y="378.95" width="13.15" height="13.35" fill="#FEE090"/><rect x="174.00" y="378.95" width="13.15" height="13.35" fill="#FEE090"/><rect x="186.75" y="378.95" width="13.15" height="13.35" fill="#FEE090"/><rect x="199.50" y="378.95" width="13.15" height="13.35" fill="#FDD17F"/><rect x="212.25" y="378.95" width="13.15" height="13.35" fill="#FDD17F"/><rect x="225.00" y="378.95" width="13.15" height="13.35" fill="#FCBC6D"/><rect x="237.75" y="378.95" width="13.15" height="13.35" fill="#F99356"/><rect x="250.50" y="378.95" width="13.15" height="13.35" fill="#F99356"/><rect x="263.25" y="378.95" width="13.15" height="13.35" fill="#F99356"/><rect x="276.00" y="378.95" width="13.15" height="13.35" fill="#F67C4A"/><rect x="288.75" y="378.95" width="13.15" height="13.35" fill="#F67C4A"/><rect x="301.50" y="378.95" width="13.15" height="13.35" fill="#F99356"/><rect x="314.25" y="378.95" width="13.15" height="13.35" fill="#FBA660"/><rect x="327.00" y="378.95" width="13.15" height="13.35" fill="#F99356"/><rect x="339.75" y="378.95" width="13.15" height="13.35" fill="#F67C4A"/><rect x="352.50" y="378.95" width="13.15" height="13.35" fill="#F67C4A"/><rect x="365.25" y="378.95" width="13.15" height="13.35" fill="#F67C4A"/><rect x="378.00" y="378.95" width="13.15" height="13.35" fill="#F67C4A"/><rect x="390.75" y="378.95" width="13.15" height="13.35" fill="#F67C4A"/><rect x="403.50" y="378.95" width="13.15" height="13.35" fill="#F67C4A"/><rect x="416.25" y="378.95" width="13.15" height="13.35" fill="#F67C4A"/><rect x="429.00" y="378.95" width="13.15" height="13.35" fill="#F99356"/><rect x="441.75" y="378.95" width="13.15" height="13.35" fill="#FBA660"/><rect x="454.50" y="378.95" width="13.15" height="13.35" fill="#FBA660"/><rect x="467.25" y="378.95" width="13.15" height="13.35" fill="#F99356"/><rect x="480.00" y="378.95" width="13.15" height="13.35" fill="#F99356"/><rect x="492.75" y="378.95" width="13.15" height="13.35" fill="#FBA660"/><rect x="505.50" y="378.95" width="13.15" height="13.35" fill="#FBA660"/><rect x="518.25" y="378.95" width="13.15" height="13.35" fill="#FCBC6D"/><rect x="148.50" y="391.90" width="13.15" height="13.35" fill="#FEE090"/><rect x="161.25" y="391.90" width="13.15" height="13.35" fill="#E1F3F3"/><rect x="174.00" y="391.90" width="13.15" height="13.35" fill="#FEE090"/><rect x="186.75" y="391.90" width="13.15" height="13.35" fill="#E1F3F3"/><rect x="199.50" y="391.90" width="13.15" height="13.35" fill="#FDD17F"/><rect x="212.25" y="391.90" width="13.15" height="13.35" fill="#FDD17F"/><rect x="225.00" y="391.90" width="13.15" height="13.35" fill="#FDD17F"/><rect x="237.75" y="391.90" width="13.15" height="13.35" fill="#F99356"/><rect x="250.50" y="391.90" width="13.15" height="13.35" fill="#F99356"/><rect x="263.25" y="391.90" width="13.15" height="13.35" fill="#F99356"/><rect x="276.00" y="391.90" width="13.15" height="13.35" fill="#F67C4A"/><rect x="288.75" y="391.90" width="13.15" height="13.35" fill="#F67C4A"/><rect x="301.50" y="391.90" width="13.15" height="13.35" fill="#F67C4A"/><rect x="314.25" y="391.90" width="13.15" height="13.35" fill="#F99356"/><rect x="327.00" y="391.90" width="13.15" height="13.35" fill="#FBA660"/><rect x="339.75" y="391.90" width="13.15" height="13.35" fill="#F99356"/><rect x="352.50" y="391.90" width="13.15" height="13.35" fill="#F99356"/><rect x="365.25" y="391.90" width="13.15" height="13.35" fill="#F99356"/><rect x="378.00" y="391.90" width="13.15" height="13.35" fill="#F67C4A"/><rect x="390.75" y="391.90" width="13.15" height="13.35" fill="#F06544"/><rect x="403.50" y="391.90" width="13.15" height="13.35" fill="#F06544"/><rect x="416.25" y="391.90" width="13.15" height="13.35" fill="#F99356"/><rect x="429.00" y="391.90" width="13.15" height="13.35" fill="#F99356"/><rect x="441.75" y="391.90" width="13.15" height="13.35" fill="#FBA660"/><rect x="454.50" y="391.90" width="13.15" height="13.35" fill="#F99356"/><rect x="467.25" y="391.90" width="13.15" height="13.35" fill="#F99356"/><rect x="480.00" y="391.90" width="13.15" height="13.35" fill="#F99356"/><rect x="492.75" y="391.90" width="13.15" height="13.35" fill="#F99356"/><rect x="505.50" y="391.90" width="13.15" height="13.35" fill="#FBA660"/><rect x="518.25" y="391.90" width="13.15" height="13.35" fill="#FBA660"/><rect x="161.25" y="404.85" width="13.15" height="13.35" fill="#FEE090"/><rect x="174.00" y="404.85" width="13.15" height="13.35" fill="#FEE090"/><rect x="186.75" y="404.85" width="13.15" height="13.35" fill="#FEE090"/><rect x="199.50" y="404.85" width="13.15" height="13.35" fill="#FEE090"/><rect x="212.25" y="404.85" width="13.15" height="13.35" fill="#FEE090"/><rect x="225.00" y="404.85" width="13.15" height="13.35" fill="#FDD17F"/><rect x="237.75" y="404.85" width="13.15" height="13.35" fill="#FDD17F"/><rect x="250.50" y="404.85" width="13.15" height="13.35" fill="#FCBC6D"/><rect x="263.25" y="404.85" width="13.15" height="13.35" fill="#FBA660"/><rect x="276.00" y="404.85" width="13.15" height="13.35" fill="#F99356"/><rect x="288.75" y="404.85" width="13.15" height="13.35" fill="#F67C4A"/><rect x="301.50" y="404.85" width="13.15" height="13.35" fill="#F67C4A"/><rect x="314.25" y="404.85" width="13.15" height="13.35" fill="#F99356"/><rect x="327.00" y="404.85" width="13.15" height="13.35" fill="#F99356"/><rect x="339.75" y="404.85" width="13.15" height="13.35" fill="#F99356"/><rect x="352.50" y="404.85" width="13.15" height="13.35" fill="#F99356"/><rect x="365.25" y="404.85" width="13.15" height="13.35" fill="#FBA660"/><rect x="378.00" y="404.85" width="13.15" height="13.35" fill="#F99356"/><rect x="390.75" y="404.85" width="13.15" height="13.35" fill="#F67C4A"/><rect x="403.50" y="404.85" width="13.15" height="13.35" fill="#F67C4A"/><rect x="416.25" y="404.85" width="13.15" height="13.35" fill="#F99356"/><rect x="429.00" y="404.85" width="13.15" height="13.35" fill="#F99356"/><rect x="441.75" y="404.85" width="13.15" height="13.35" fill="#F99356"/><rect x="454.50" y="404.85" width="13.15" height="13.35" fill="#F99356"/><rect x="467.25" y="404.85" width="13.15" height="13.35" fill="#F99356"/><rect x="480.00" y="404.85" width="13.15" height="13.35" fill="#F67C4A"/><rect x="492.75" y="404.85" width="13.15" height="13.35" fill="#F99356"/><rect x="505.50" y="404.85" width="13.15" height="13.35" fill="#F99356"/><rect x="518.25" y="404.85" width="13.15" height="13.35" fill="#FBA660"/><rect x="161.25" y="417.80" width="13.15" height="13.35" fill="#FEE090"/><rect x="174.00" y="417.80" width="13.15" height="13.35" fill="#FEE090"/><rect x="186.75" y="417.80" width="13.15" height="13.35" fill="#FEE090"/><rect x="199.50" y="417.80" width="13.15" height="13.35" fill="#FEE090"/><rect x="212.25" y="417.80" width="13.15" height="13.35" fill="#FEE090"/><rect x="225.00" y="417.80" width="13.15" height="13.35" fill="#FEE090"/><rect x="237.75" y="417.80" width="13.15" height="13.35" fill="#FEE090"/><rect x="250.50" y="417.80" width="13.15" height="13.35" fill="#FEE090"/><rect x="263.25" y="417.80" width="13.15" height="13.35" fill="#FCBC6D"/><rect x="276.00" y="417.80" width="13.15" height="13.35" fill="#FBA660"/><rect x="288.75" y="417.80" width="13.15" height="13.35" fill="#F99356"/><rect x="301.50" y="417.80" width="13.15" height="13.35" fill="#F67C4A"/><rect x="314.25" y="417.80" width="13.15" height="13.35" fill="#F99356"/><rect x="327.00" y="417.80" width="13.15" height="13.35" fill="#FBA660"/><rect x="339.75" y="417.80" width="13.15" height="13.35" fill="#FBA660"/><rect x="352.50" y="417.80" width="13.15" height="13.35" fill="#F99356"/><rect x="365.25" y="417.80" width="13.15" height="13.35" fill="#F99356"/><rect x="378.00" y="417.80" width="13.15" height="13.35" fill="#FBA660"/><rect x="390.75" y="417.80" width="13.15" height="13.35" fill="#FBA660"/><rect x="403.50" y="417.80" width="13.15" height="13.35" fill="#F99356"/><rect x="416.25" y="417.80" width="13.15" height="13.35" fill="#F99356"/><rect x="429.00" y="417.80" width="13.15" height="13.35" fill="#F99356"/><rect x="441.75" y="417.80" width="13.15" height="13.35" fill="#F99356"/><rect x="454.50" y="417.80" width="13.15" height="13.35" fill="#F99356"/><rect x="467.25" y="417.80" width="13.15" height="13.35" fill="#F67C4A"/><rect x="480.00" y="417.80" width="13.15" height="13.35" fill="#F67C4A"/><rect x="492.75" y="417.80" width="13.15" height="13.35" fill="#F67C4A"/><rect x="505.50" y="417.80" width="13.15" height="13.35" fill="#F99356"/><rect x="518.25" y="417.80" width="13.15" height="13.35" fill="#FBA660"/><rect x="186.75" y="430.75" width="13.15" height="13.35" fill="#FEE090"/><rect x="199.50" y="430.75" width="13.15" height="13.35" fill="#FEE090"/><rect x="237.75" y="430.75" width="13.15" height="13.35" fill="#FEE090"/><rect x="250.50" y="430.75" width="13.15" height="13.35" fill="#FEE090"/><rect x="263.25" y="430.75" width="13.15" height="13.35" fill="#FEE090"/><rect x="276.00" y="430.75" width="13.15" height="13.35" fill="#FDD17F"/><rect x="288.75" y="430.75" width="13.15" height="13.35" fill="#FBA660"/><rect x="301.50" y="430.75" width="13.15" height="13.35" fill="#F67C4A"/><rect x="314.25" y="430.75" width="13.15" height="13.35" fill="#FBA660"/><rect x="327.00" y="430.75" width="13.15" height="13.35" fill="#FCBC6D"/><rect x="339.75" y="430.75" width="13.15" height="13.35" fill="#FBA660"/><rect x="352.50" y="430.75" width="13.15" height="13.35" fill="#FBA660"/><rect x="416.25" y="430.75" width="13.15" height="13.35" fill="#F99356"/><rect x="429.00" y="430.75" width="13.15" height="13.35" fill="#F99356"/><rect x="441.75" y="430.75" width="13.15" height="13.35" fill="#FBA660"/><rect x="454.50" y="430.75" width="13.15" height="13.35" fill="#F99356"/><rect x="467.25" y="430.75" width="13.15" height="13.35" fill="#F67C4A"/><rect x="480.00" y="430.75" width="13.15" height="13.35" fill="#F67C4A"/><rect x="492.75" y="430.75" width="13.15" height="13.35" fill="#F99356"/><rect x="505.50" y="430.75" width="13.15" height="13.35" fill="#FBA660"/><rect x="237.75" y="443.70" width="13.15" height="13.35" fill="#FEE090"/><rect x="250.50" y="443.70" width="13.15" height="13.35" fill="#FEE090"/><rect x="263.25" y="443.70" width="13.15" height="13.35" fill="#FEE090"/><rect x="276.00" y="443.70" width="13.15" height="13.35" fill="#FEE090"/><rect x="288.75" y="443.70" width="13.15" height="13.35" fill="#FCBC6D"/><rect x="301.50" y="443.70" width="13.15" height="13.35" fill="#FCBC6D"/><rect x="314.25" y="443.70" width="13.15" height="13.35" fill="#FBA660"/><rect x="327.00" y="443.70" width="13.15" height="13.35" fill="#FCBC6D"/><rect x="339.75" y="443.70" width="13.15" height="13.35" fill="#FDD17F"/><rect x="352.50" y="443.70" width="13.15" height="13.35" fill="#FCBC6D"/><rect x="429.00" y="443.70" width="13.15" height="13.35" fill="#FBA660"/><rect x="441.75" y="443.70" width="13.15" height="13.35" fill="#FBA660"/><rect x="454.50" y="443.70" width="13.15" height="13.35" fill="#F99356"/><rect x="467.25" y="443.70" width="13.15" height="13.35" fill="#F67C4A"/><rect x="480.00" y="443.70" width="13.15" height="13.35" fill="#F99356"/><rect x="250.50" y="456.65" width="13.15" height="13.35" fill="#FEE090"/><rect x="263.25" y="456.65" width="13.15" height="13.35" fill="#FEE090"/><rect x="276.00" y="456.65" width="13.15" height="13.35" fill="#FEE090"/><rect x="288.75" y="456.65" width="13.15" height="13.35" fill="#E1F3F3"/><rect x="301.50" y="456.65" width="13.15" height="13.35" fill="#FEE090"/><rect x="314.25" y="456.65" width="13.15" height="13.35" fill="#FCBC6D"/><rect x="327.00" y="456.65" width="13.15" height="13.35" fill="#FCBC6D"/><rect x="339.75" y="456.65" width="13.15" height="13.35" fill="#FDD17F"/><rect x="352.50" y="456.65" width="13.15" height="13.35" fill="#FCBC6D"/><rect x="429.00" y="456.65" width="13.15" height="13.35" fill="#F67C4A"/><rect x="441.75" y="456.65" width="13.15" height="13.35" fill="#F99356"/><rect x="454.50" y="456.65" width="13.15" height="13.35" fill="#FBA660"/><rect x="263.25" y="469.60" width="13.15" height="13.35" fill="#FEE090"/><rect x="276.00" y="469.60" width="13.15" height="13.35" fill="#FEE090"/><rect x="288.75" y="469.60" width="13.15" height="13.35" fill="#FEE090"/><rect x="301.50" y="469.60" width="13.15" height="13.35" fill="#FEE090"/><rect x="314.25" y="469.60" width="13.15" height="13.35" fill="#FEE090"/><rect x="327.00" y="469.60" width="13.15" height="13.35" fill="#FEE090"/><rect x="339.75" y="469.60" width="13.15" height="13.35" fill="#FCBC6D"/><rect x="352.50" y="469.60" width="13.15" height="13.35" fill="#FCBC6D"/><rect x="263.25" y="482.55" width="13.15" height="13.35" fill="#FEE090"/><rect x="276.00" y="482.55" width="13.15" height="13.35" fill="#FEE090"/><rect x="288.75" y="482.55" width="13.15" height="13.35" fill="#FEE090"/><rect x="301.50" y="482.55" width="13.15" height="13.35" fill="#FEE090"/><rect x="314.25" y="482.55" width="13.15" height="13.35" fill="#FEE090"/><rect x="327.00" y="482.55" width="13.15" height="13.35" fill="#FDD17F"/><rect x="288.75" y="495.50" width="13.15" height="13.35" fill="#FEE090"/><rect x="301.50" y="495.50" width="13.15" height="13.35" fill="#FEE090"/><rect x="314.25" y="495.50" width="13.15" height="13.35" fill="#FEE090"/></g>
<path d="M53.0 65.0 53.0 81.5 51.0 87.6 50.5 94.8 48.4 100.5 50.5 106.1 56.1 115.4 60.7 119.5 67.4 123.6 69.5 128.8 75.1 129.3 79.8 132.4 91.6 128.3 99.3 125.7 102.9 121.1 109.1 121.1 114.2 123.1 120.4 124.7 126.6 129.8 132.7 137.0 138.9 144.2 138.9 134.9 144.1 129.8 148.7 123.1 153.8 122.1 154.3 112.3 157.4 106.1 163.1 103.6 168.7 104.6 171.8 100.5 180.1 101.0 188.3 96.4 196.5 91.7 200.6 87.1 204.2 85.6 208.9 87.1 209.9 89.7 207.8 94.3 200.6 96.9 203.7 104.1 205.8 109.2 200.6 118.5 202.7 122.6 203.7 128.8 210.9 126.7 210.9 119.5 206.8 111.3 206.8 104.1 214.7 102.9 222.5 100.0 220.5 91.2 226.3 89.3 228.3 96.1 238.0 97.1 243.8 100.0 247.7 109.7 254.5 110.7 267.1 108.7 274.9 109.7 280.7 113.6 288.5 114.5 295.3 111.6 302.1 107.7 313.8 108.7 319.6 115.5 323.5 119.4 329.3 120.4 339.0 123.3 341.0 129.1 340.0 135.9 348.7 134.9 360.4 140.8 368.2 146.6 371.0 151.5 370.0 156.3 375.8 156.3 383.6 162.1 389.4 168.0 403.0 168.9 414.7 168.0 428.3 170.9 443.8 176.7 455.5 184.5 467.1 194.2 468.1 202.9 473.0 212.7 474.9 220.4 481.1 221.4 480.7 230.1 475.9 236.0 469.1 241.8 464.2 246.7 462.3 251.5 461.3 256.4M313.8 107.7 325.4 107.4M330.3 115.5 331.3 106.8 340.0 106.2 340.0 112.6 334.2 115.9 330.3 115.5M472.0 262.0 473.9 248.6 476.9 245.7 486.6 244.7 499.2 246.7 498.2 259.3 497.3 262.2 502.1 252.5 509.9 250.5 513.6 251.7 523.6 255.9 537.0 260.1 540.4 264.3 545.4 261.7 551.2 272.6 549.6 279.3 557.1 276.0 563.8 273.5 575.5 277.6 582.2 278.5 588.9 281.0 600.6 279.3 607.3 279.3 615.6 285.2 625.7 291.9 635.7 300.2 645.8 306.9 655.8 307.7 665.8 309.4 670.8 323.6 674.2 337.0 673.4 347.1 665.8 360.4 655.8 373.8 647.4 380.5 640.7 388.9 634.0 398.9 629.0 405.6 621.5 411.5 619.8 427.4 621.5 445.8 619.0 465.8 614.0 471.7 612.3 490.9 604.8 499.3 596.4 509.3 594.7 521.0 582.2 528.6 582.2 532.7 567.1 534.4 548.7 533.6 549.6 537.8 542.9 539.4 538.7 544.5 534.5 542.8 522.0 548.6 510.3 558.7 508.6 560.5M34.0 115.4 38.1 119.5 45.3 124.1 50.5 128.8 49.4 135.5 55.6 136.5 59.7 139.6 62.3 137.5 73.1 140.6 78.2 144.7 84.4 144.7 85.4 152.4 91.6 150.9 97.8 147.3 92.1 143.2 91.1 139.1 97.8 136.0 101.9 131.9 104.5 128.8 108.1 128.8 113.2 131.9 117.3 137.0 121.4 137.5 117.8 141.1 120.4 148.3 126.6 154.5 130.7 159.6 129.7 165.8 130.7 176.1 131.2 185.3 129.7 192.5 133.8 196.7 128.6 207.0 126.1 209.0 119.4 209.0 114.7 215.2 115.8 221.3 110.1 222.4 112.2 227.5 112.7 227.1 98.0 234.6 96.6 242.8 91.1 247.6 90.8 253.8 85.7 255.5 87.7 264.8 87.4 271.6 85.7 272.3 91.1 275.7 95.3 281.2 96.3 274.4 102.1 274.7 98.0 285.3 91.1 288.8 80.2 297.0 80.2 303.9 83.6 310.7 87.0 314.8 82.6 319.3 86.3 321.7 92.5 324.4 98.0 329.9 102.1 335.0 103.9 342.6 111.5 348.6 116.1 356.2 120.6 371.4 126.7 380.6 131.3 391.2 138.9 401.8 146.5 417.0 145.0 423.1 155.6 435.3 167.8 442.9 173.8 444.4 183.0 450.5 192.1 455.0 205.8 461.9 210.3 467.2 220.2 474.0 222.5 496.1 224.0 512.8 219.4 532.6 218.7 549.3 218.7 560.5" fill="none" stroke="#7d7d7d" stroke-width="1.9" stroke-linejoin="round"/>
<path d="M119.9 335.0 116.5 329.2 113.1 325.1 108.3 323.1 103.1 320.3 102.8 314.1 101.4 308.7 104.9 301.8 103.5 295.6 105.5 288.8 111.0 283.3 106.2 280.5 107.6 275.7 112.4 270.3 109.7 266.1 109.0 260.7 111.7 255.9 111.0 250.4 115.8 248.3 118.6 244.2 126.1 240.1 125.4 235.3 132.3 232.5 134.3 228.4 139.1 225.0 138.7 219.0 140.7 216.2 144.2 222.4 150.3 217.6 157.2 209.4 162.0 201.1 164.7 203.9 167.5 210.7 168.9 220.3 170.9 221.0 176.4 218.3 180.5 217.6 186.0 214.9 192.9 211.4 206.6 210.7 220.3 212.1 229.9 213.9 240.9 211.4 245.0 207.3 246.3 205.3 253.2 205.3 261.4 208.7 264.8 205.9 273.8 205.3 279.2 210.7 284.1 219.0 288.9 223.1 297.1 219.0 304.0 216.9 309.5 214.2 310.2 212.1 304.7 212.1 297.1 212.1 297.1 208.0 299.9 198.4 300.6 194.3 295.1 192.9 295.1 190.2 298.5 188.8 301.9 191.5 308.8 191.5 314.3 198.4 317.0 192.9 322.5 194.3 324.6 189.5 326.6 186.1 334.9 184.0 340.3 185.4 342.4 180.6 344.5 177.1 351.3 175.8 355.4 177.8 359.5 181.9 359.5 197.7 356.8 200.5 358.2 206.6 359.5 208.0 358.9 216.9 356.8 219.0 360.9 223.8 363.7 225.8 369.1 225.8 372.5 224.0 379.1 205.6 375.5 224.0 377.4 223.8 382.9 223.1 387.0 217.6 391.1 217.6 395.2 218.3 400.0 217.6 402.1 209.7 416.6 209.7 422.5 213.6 436.1 213.6 443.8 220.4 449.7 230.1 453.5 239.9 455.5 248.6 461.3 249.6 460.3 254.4 455.5 258.3 445.8 263.2 457.4 260.3 465.2 256.4 470.1 259.3 471.0 265.1 465.0 264.0 461.3 267.0 463.0 272.0 469.1 273.9 471.0 266.0 478.8 266.1 486.6 264.1 492.4 267.1 488.5 274.8 486.6 286.5 488.5 298.1 494.3 304.0 497.1 304.6 502.9 305.1 508.6 307.4 514.3 309.1 518.3 312.3 521.7 317.1 524.0 321.1 524.6 325.7 526.3 329.1 526.9 331.4 524.6 334.3 525.1 337.1 527.1 342.3 525.7 347.8 518.9 356.1 521.6 360.2 524.3 364.3 527.1 369.8 528.4 375.3 527.1 382.1 528.4 390.3 525.7 394.5 524.3 401.3 525.7 408.2 525.7 415.0 528.4 419.1 529.8 426.0 530.5 430.8 524.3 431.5 518.9 432.9 514.7 439.7 509.2 442.5 502.4 441.8 498.3 443.8 494.2 439.7 491.4 443.8 491.4 447.9 483.2 445.9 476.3 449.3 472.2 453.4 462.6 459.6 453.0 457.5 444.8 462.3 442.1 465.8 442.7 472.6 437.9 473.3 437.3 465.8 435.9 456.2 429.7 450.7 426.3 446.6 427.0 441.1 422.9 438.3 416.0 439.0 410.5 443.8 409.1 439.7 414.6 434.2 418.1 430.1 416.7 423.3 411.9 422.6 403.7 426.0 396.8 426.0 391.3 420.5 384.5 419.1 380.3 421.2 379.0 425.3 372.1 424.6 368.7 426.0 368.7 432.9 363.9 438.3 358.4 441.1 358.4 443.8 361.1 449.3 361.1 457.5 359.8 462.3 366.6 461.6 367.3 469.9 361.1 472.6 352.9 474.0 347.4 471.9 342.6 473.3 339.2 479.5 332.3 487.7 329.6 491.1 331.7 496.6 328.2 502.8 322.7 504.2 317.6 504.8 310.8 508.3 299.8 503.5 295.7 501.4 293.0 491.8 288.9 486.3 275.1 480.8 265.5 487.7 261.4 469.9 257.3 461.6 250.4 458.9 249.1 452.1 246.3 446.6 239.5 443.8 236.7 438.3 235.4 430.1 228.5 424.6 221.7 421.2 214.1 421.9 210.7 428.7 212.7 431.5 213.4 438.3 210.7 437.0 205.2 435.6 202.5 439.0 198.3 438.3 194.2 432.9 186.0 428.7 180.5 425.3 177.8 427.4 170.9 426.0 165.4 417.8 158.6 412.3 157.9 405.4 151.7 404.1 149.0 393.1 142.1 387.6 135.3 380.7 131.1 364.3 124.3 353.3 120.9 343.7 121.5 336.9Z" fill="none" stroke="#000" stroke-width="4.0" stroke-linejoin="round" stroke-linecap="round"/>
<line x1="121.5" y1="338.1" x2="524.0" y2="338.1" stroke="#000" stroke-width="3.2"/>
<g fill="#000"><circle cx="296.7" cy="194.7" r="4"/><circle cx="322.1" cy="194.7" r="4"/><circle cx="347.4" cy="194.7" r="4"/><circle cx="169.9" cy="220.4" r="4"/><circle cx="322.1" cy="220.4" r="4"/><circle cx="347.4" cy="220.4" r="4"/><circle cx="144.6" cy="246.1" r="4"/><circle cx="296.7" cy="246.1" r="4"/><circle cx="372.8" cy="246.1" r="4"/><circle cx="398.1" cy="246.1" r="4"/><circle cx="144.6" cy="271.8" r="4"/><circle cx="246.0" cy="271.8" r="4"/><circle cx="271.4" cy="271.8" r="4"/><circle cx="347.4" cy="271.8" r="4"/><circle cx="372.8" cy="271.8" r="4"/><circle cx="398.1" cy="271.8" r="4"/><circle cx="423.5" cy="271.8" r="4"/><circle cx="144.6" cy="297.5" r="4"/><circle cx="220.7" cy="297.5" r="4"/><circle cx="271.4" cy="297.5" r="4"/><circle cx="322.1" cy="297.5" r="4"/><circle cx="347.4" cy="297.5" r="4"/><circle cx="372.8" cy="297.5" r="4"/><circle cx="398.1" cy="297.5" r="4"/><circle cx="423.5" cy="297.5" r="4"/><circle cx="448.8" cy="297.5" r="4"/><circle cx="474.1" cy="297.5" r="4"/><circle cx="195.3" cy="323.2" r="4"/><circle cx="220.7" cy="323.2" r="4"/><circle cx="246.0" cy="323.2" r="4"/><circle cx="271.4" cy="323.2" r="4"/><circle cx="296.7" cy="323.2" r="4"/><circle cx="322.1" cy="323.2" r="4"/><circle cx="347.4" cy="323.2" r="4"/><circle cx="372.8" cy="323.2" r="4"/><circle cx="398.1" cy="323.2" r="4"/><circle cx="423.5" cy="323.2" r="4"/><circle cx="448.8" cy="323.2" r="4"/><circle cx="474.1" cy="323.2" r="4"/><circle cx="499.5" cy="323.2" r="4"/><circle cx="169.9" cy="348.9" r="4"/><circle cx="195.3" cy="348.9" r="4"/><circle cx="220.7" cy="348.9" r="4"/><circle cx="246.0" cy="348.9" r="4"/><circle cx="271.4" cy="348.9" r="4"/><circle cx="296.7" cy="348.9" r="4"/><circle cx="322.1" cy="348.9" r="4"/><circle cx="347.4" cy="348.9" r="4"/><circle cx="372.8" cy="348.9" r="4"/><circle cx="398.1" cy="348.9" r="4"/><circle cx="423.5" cy="348.9" r="4"/><circle cx="448.8" cy="348.9" r="4"/><circle cx="474.1" cy="348.9" r="4"/><circle cx="499.5" cy="348.9" r="4"/><circle cx="144.6" cy="374.6" r="4"/><circle cx="195.3" cy="374.6" r="4"/><circle cx="220.7" cy="374.6" r="4"/><circle cx="246.0" cy="374.6" r="4"/><circle cx="271.4" cy="374.6" r="4"/><circle cx="296.7" cy="374.6" r="4"/><circle cx="322.1" cy="374.6" r="4"/><circle cx="347.4" cy="374.6" r="4"/><circle cx="372.8" cy="374.6" r="4"/><circle cx="398.1" cy="374.6" r="4"/><circle cx="423.5" cy="374.6" r="4"/><circle cx="448.8" cy="374.6" r="4"/><circle cx="474.1" cy="374.6" r="4"/><circle cx="499.5" cy="374.6" r="4"/><circle cx="524.9" cy="374.6" r="4"/><circle cx="220.7" cy="400.3" r="4"/><circle cx="246.0" cy="400.3" r="4"/><circle cx="271.4" cy="400.3" r="4"/><circle cx="296.7" cy="400.3" r="4"/><circle cx="322.1" cy="400.3" r="4"/><circle cx="347.4" cy="400.3" r="4"/><circle cx="372.8" cy="400.3" r="4"/><circle cx="398.1" cy="400.3" r="4"/><circle cx="423.5" cy="400.3" r="4"/><circle cx="448.8" cy="400.3" r="4"/><circle cx="474.1" cy="400.3" r="4"/><circle cx="499.5" cy="400.3" r="4"/><circle cx="524.9" cy="400.3" r="4"/><circle cx="195.3" cy="426.0" r="4"/><circle cx="271.4" cy="426.0" r="4"/><circle cx="296.7" cy="426.0" r="4"/><circle cx="322.1" cy="426.0" r="4"/><circle cx="347.4" cy="426.0" r="4"/><circle cx="372.8" cy="426.0" r="4"/><circle cx="398.1" cy="426.0" r="4"/><circle cx="423.5" cy="426.0" r="4"/><circle cx="448.8" cy="426.0" r="4"/><circle cx="474.1" cy="426.0" r="4"/><circle cx="499.5" cy="426.0" r="4"/><circle cx="524.9" cy="426.0" r="4"/><circle cx="246.0" cy="451.7" r="4"/><circle cx="296.7" cy="451.7" r="4"/><circle cx="322.1" cy="451.7" r="4"/><circle cx="347.4" cy="451.7" r="4"/><circle cx="448.8" cy="451.7" r="4"/><circle cx="474.1" cy="451.7" r="4"/><circle cx="347.4" cy="477.4" r="4"/><circle cx="296.7" cy="503.1" r="4"/></g></g></g>
<rect x="34.0" y="65.2" width="676.0" height="495.2" fill="none" stroke="#1a1a1a" stroke-width="2"/>
<path d="M34.0 242.7h8M710.0 242.7h-8M352.5 65.2v8M352.5 560.4v-8" stroke="#1a1a1a" stroke-width="2"/>
<g id="map1" clip-path="url(#clipm1)"><g transform="translate(0 630.25) scale(1 1.0052)"><g shape-rendering="crispEdges"><rect x="339.75" y="172.15" width="13.15" height="13.35" fill="#E1F3F3"/><rect x="288.75" y="185.10" width="13.15" height="13.35" fill="#E1F3F3"/><rect x="301.50" y="185.10" width="13.15" height="13.35" fill="#E1F3F3"/><rect x="314.25" y="185.10" width="13.15" height="13.35" fill="#E1F3F3"/><rect x="327.00" y="185.10" width="13.15" height="13.35" fill="#E1F3F3"/><rect x="339.75" y="185.10" width="13.15" height="13.35" fill="#D3EBF8"/><rect x="352.50" y="185.10" width="13.15" height="13.35" fill="#D3EBF8"/><rect x="288.75" y="198.05" width="13.15" height="13.35" fill="#E1F3F3"/><rect x="301.50" y="198.05" width="13.15" height="13.35" fill="#E1F3F3"/><rect x="314.25" y="198.05" width="13.15" height="13.35" fill="#E1F3F3"/><rect x="327.00" y="198.05" width="13.15" height="13.35" fill="#E1F3F3"/><rect x="339.75" y="198.05" width="13.15" height="13.35" fill="#E1F3F3"/><rect x="148.50" y="211.00" width="13.15" height="13.35" fill="#E1F3F3"/><rect x="161.25" y="211.00" width="13.15" height="13.35" fill="#FEE090"/><rect x="174.00" y="211.00" width="13.15" height="13.35" fill="#FEE090"/><rect x="186.75" y="211.00" width="13.15" height="13.35" fill="#FEE090"/><rect x="199.50" y="211.00" width="13.15" height="13.35" fill="#FEE090"/><rect x="212.25" y="211.00" width="13.15" height="13.35" fill="#FEE090"/><rect x="225.00" y="211.00" width="13.15" height="13.35" fill="#FEE090"/><rect x="237.75" y="211.00" width="13.15" height="13.35" fill="#E1F3F3"/><rect x="250.50" y="211.00" width="13.15" height="13.35" fill="#E1F3F3"/><rect x="263.25" y="211.00" width="13.15" height="13.35" fill="#E1F3F3"/><rect x="301.50" y="211.00" width="13.15" height="13.35" fill="#E1F3F3"/><rect x="314.25" y="211.00" width="13.15" height="13.35" fill="#E1F3F3"/><rect x="327.00" y="211.00" width="13.15" height="13.35" fill="#E1F3F3"/><rect x="339.75" y="211.00" width="13.15" height="13.35" fill="#E1F3F3"/><rect x="416.25" y="211.00" width="13.15" height="13.35" fill="#D3EBF8"/><rect x="429.00" y="211.00" width="13.15" height="13.35" fill="#D3EBF8"/><rect x="135.75" y="223.95" width="13.15" height="13.35" fill="#E1F3F3"/><rect x="148.50" y="223.95" width="13.15" height="13.35" fill="#E1F3F3"/><rect x="161.25" y="223.95" width="13.15" height="13.35" fill="#FEE090"/><rect x="174.00" y="223.95" width="13.15" height="13.35" fill="#FEE090"/><rect x="186.75" y="223.95" width="13.15" height="13.35" fill="#FEE090"/><rect x="199.50" y="223.95" width="13.15" height="13.35" fill="#FEE090"/><rect x="212.25" y="223.95" width="13.15" height="13.35" fill="#FEE090"/><rect x="225.00" y="223.95" width="13.15" height="13.35" fill="#E1F3F3"/><rect x="237.75" y="223.95" width="13.15" height="13.35" fill="#E1F3F3"/><rect x="250.50" y="223.95" width="13.15" height="13.35" fill="#E1F3F3"/><rect x="263.25" y="223.95" width="13.15" height="13.35" fill="#E1F3F3"/><rect x="276.00" y="223.95" width="13.15" height="13.35" fill="#E1F3F3"/><rect x="288.75" y="223.95" width="13.15" height="13.35" fill="#E1F3F3"/><rect x="301.50" y="223.95" width="13.15" height="13.35" fill="#E1F3F3"/><rect x="314.25" y="223.95" width="13.15" height="13.35" fill="#E1F3F3"/><rect x="327.00" y="223.95" width="13.15" height="13.35" fill="#E1F3F3"/><rect x="339.75" y="223.95" width="13.15" height="13.35" fill="#E1F3F3"/><rect x="352.50" y="223.95" width="13.15" height="13.35" fill="#E1F3F3"/><rect x="365.25" y="223.95" width="13.15" height="13.35" fill="#E1F3F3"/><rect x="378.00" y="223.95" width="13.15" height="13.35" fill="#D3EBF8"/><rect x="390.75" y="223.95" width="13.15" height="13.35" fill="#D3EBF8"/><rect x="403.50" y="223.95" width="13.15" height="13.35" fill="#D3EBF8"/><rect x="416.25" y="223.95" width="13.15" height="13.35" fill="#D3EBF8"/><rect x="429.00" y="223.95" width="13.15" height="13.35" fill="#BCE0EF"/><rect x="441.75" y="223.95" width="13.15" height="13.35" fill="#BCE0EF"/><rect x="123.00" y="236.90" width="13.15" height="13.35" fill="#BCE0EF"/><rect x="135.75" y="236.90" width="13.15" height="13.35" fill="#E1F3F3"/><rect x="148.50" y="236.90" width="13.15" height="13.35" fill="#FEE090"/><rect x="161.25" y="236.90" width="13.15" height="13.35" fill="#FEE090"/><rect x="174.00" y="236.90" width="13.15" height="13.35" fill="#FEE090"/><rect x="186.75" y="236.90" width="13.15" height="13.35" fill="#FEE090"/><rect x="199.50" y="236.90" width="13.15" height="13.35" fill="#FEE090"/><rect x="212.25" y="236.90" width="13.15" height="13.35" fill="#FEE090"/><rect x="225.00" y="236.90" width="13.15" height="13.35" fill="#E1F3F3"/><rect x="237.75" y="236.90" width="13.15" height="13.35" fill="#E1F3F3"/><rect x="250.50" y="236.90" width="13.15" height="13.35" fill="#E1F3F3"/><rect x="263.25" y="236.90" width="13.15" height="13.35" fill="#E1F3F3"/><rect x="276.00" y="236.90" width="13.15" height="13.35" fill="#E1F3F3"/><rect x="288.75" y="236.90" width="13.15" height="13.35" fill="#E1F3F3"/><rect x="301.50" y="236.90" width="13.15" height="13.35" fill="#E1F3F3"/><rect x="314.25" y="236.90" width="13.15" height="13.35" fill="#E1F3F3"/><rect x="327.00" y="236.90" width="13.15" height="13.35" fill="#E1F3F3"/><rect x="339.75" y="236.90" width="13.15" height="13.35" fill="#E1F3F3"/><rect x="352.50" y="236.90" width="13.15" height="13.35" fill="#E1F3F3"/><rect x="365.25" y="236.90" width="13.15" height="13.35" fill="#E1F3F3"/><rect x="378.00" y="236.90" width="13.15" height="13.35" fill="#D3EBF8"/><rect x="390.75" y="236.90" width="13.15" height="13.35" fill="#D3EBF8"/><rect x="403.50" y="236.90" width="13.15" height="13.35" fill="#D3EBF8"/><rect x="416.25" y="236.90" width="13.15" height="13.35" fill="#D3EBF8"/><rect x="429.00" y="236.90" width="13.15" height="13.35" fill="#BCE0EF"/><rect x="441.75" y="236.90" width="13.15" height="13.35" fill="#BCE0EF"/><rect x="110.25" y="249.85" width="13.15" height="13.35" fill="#BCE0EF"/><rect x="123.00" y="249.85" width="13.15" height="13.35" fill="#BCE0EF"/><rect x="135.75" y="249.85" width="13.15" height="13.35" fill="#FEE090"/><rect x="148.50" y="249.85" width="13.15" height="13.35" fill="#FEE090"/><rect x="161.25" y="249.85" width="13.15" height="13.35" fill="#FEE090"/><rect x="174.00" y="249.85" width="13.15" height="13.35" fill="#FEE090"/><rect x="186.75" y="249.85" width="13.15" height="13.35" fill="#FEE090"/><rect x="199.50" y="249.85" width="13.15" height="13.35" fill="#FEE090"/><rect x="212.25" y="249.85" width="13.15" height="13.35" fill="#E1F3F3"/><rect x="225.00" y="249.85" width="13.15" height="13.35" fill="#E1F3F3"/><rect x="237.75" y="249.85" width="13.15" height="13.35" fill="#E1F3F3"/><rect x="250.50" y="249.85" width="13.15" height="13.35" fill="#E1F3F3"/><rect x="263.25" y="249.85" width="13.15" height="13.35" fill="#E1F3F3"/><rect x="276.00" y="249.85" width="13.15" height="13.35" fill="#E1F3F3"/><rect x="288.75" y="249.85" width="13.15" height="13.35" fill="#E1F3F3"/><rect x="301.50" y="249.85" width="13.15" height="13.35" fill="#E1F3F3"/><rect x="314.25" y="249.85" width="13.15" height="13.35" fill="#E1F3F3"/><rect x="327.00" y="249.85" width="13.15" height="13.35" fill="#E1F3F3"/><rect x="339.75" y="249.85" width="13.15" height="13.35" fill="#E1F3F3"/><rect x="352.50" y="249.85" width="13.15" height="13.35" fill="#E1F3F3"/><rect x="365.25" y="249.85" width="13.15" height="13.35" fill="#D3EBF8"/><rect x="378.00" y="249.85" width="13.15" height="13.35" fill="#D3EBF8"/><rect x="390.75" y="249.85" width="13.15" height="13.35" fill="#D3EBF8"/><rect x="403.50" y="249.85" width="13.15" height="13.35" fill="#D3EBF8"/><rect x="416.25" y="249.85" width="13.15" height="13.35" fill="#BCE0EF"/><rect x="429.00" y="249.85" width="13.15" height="13.35" fill="#BCE0EF"/><rect x="441.75" y="249.85" width="13.15" height="13.35" fill="#BCE0EF"/><rect x="454.50" y="249.85" width="13.15" height="13.35" fill="#BCE0EF"/><rect x="110.25" y="262.80" width="13.15" height="13.35" fill="#91C4DE"/><rect x="123.00" y="262.80" width="13.15" height="13.35" fill="#D3EBF8"/><rect x="135.75" y="262.80" width="13.15" height="13.35" fill="#FEE090"/><rect x="148.50" y="262.80" width="13.15" height="13.35" fill="#FEE090"/><rect x="161.25" y="262.80" width="13.15" height="13.35" fill="#FEE090"/><rect x="174.00" y="262.80" width="13.15" height="13.35" fill="#FEE090"/><rect x="186.75" y="262.80" width="13.15" height="13.35" fill="#FEE090"/><rect x="199.50" y="262.80" width="13.15" height="13.35" fill="#FEE090"/><rect x="212.25" y="262.80" width="13.15" height="13.35" fill="#FEE090"/><rect x="225.00" y="262.80" width="13.15" height="13.35" fill="#FEE090"/><rect x="237.75" y="262.80" width="13.15" height="13.35" fill="#E1F3F3"/><rect x="250.50" y="262.80" width="13.15" height="13.35" fill="#E1F3F3"/><rect x="263.25" y="262.80" width="13.15" height="13.35" fill="#E1F3F3"/><rect x="276.00" y="262.80" width="13.15" height="13.35" fill="#E1F3F3"/><rect x="288.75" y="262.80" width="13.15" height="13.35" fill="#E1F3F3"/><rect x="301.50" y="262.80" width="13.15" height="13.35" fill="#E1F3F3"/><rect x="314.25" y="262.80" width="13.15" height="13.35" fill="#E1F3F3"/><rect x="327.00" y="262.80" width="13.15" height="13.35" fill="#E1F3F3"/><rect x="339.75" y="262.80" width="13.15" height="13.35" fill="#D3EBF8"/><rect x="352.50" y="262.80" width="13.15" height="13.35" fill="#D3EBF8"/><rect x="365.25" y="262.80" width="13.15" height="13.35" fill="#D3EBF8"/><rect x="378.00" y="262.80" width="13.15" height="13.35" fill="#D3EBF8"/><rect x="390.75" y="262.80" width="13.15" height="13.35" fill="#D3EBF8"/><rect x="403.50" y="262.80" width="13.15" height="13.35" fill="#D3EBF8"/><rect x="416.25" y="262.80" width="13.15" height="13.35" fill="#D3EBF8"/><rect x="429.00" y="262.80" width="13.15" height="13.35" fill="#D3EBF8"/><rect x="441.75" y="262.80" width="13.15" height="13.35" fill="#BCE0EF"/><rect x="467.25" y="262.80" width="13.15" height="13.35" fill="#BCE0EF"/><rect x="480.00" y="262.80" width="13.15" height="13.35" fill="#BCE0EF"/><rect x="110.25" y="275.75" width="13.15" height="13.35" fill="#91C4DE"/><rect x="123.00" y="275.75" width="13.15" height="13.35" fill="#BCE0EF"/><rect x="135.75" y="275.75" width="13.15" height="13.35" fill="#FEE090"/><rect x="148.50" y="275.75" width="13.15" height="13.35" fill="#FEE090"/><rect x="161.25" y="275.75" width="13.15" height="13.35" fill="#FEE090"/><rect x="174.00" y="275.75" width="13.15" height="13.35" fill="#FEE090"/><rect x="186.75" y="275.75" width="13.15" height="13.35" fill="#FEE090"/><rect x="199.50" y="275.75" width="13.15" height="13.35" fill="#FEE090"/><rect x="212.25" y="275.75" width="13.15" height="13.35" fill="#FEE090"/><rect x="225.00" y="275.75" width="13.15" height="13.35" fill="#FEE090"/><rect x="237.75" y="275.75" width="13.15" height="13.35" fill="#FEE090"/><rect x="250.50" y="275.75" width="13.15" height="13.35" fill="#FEE090"/><rect x="263.25" y="275.75" width="13.15" height="13.35" fill="#E1F3F3"/><rect x="276.00" y="275.75" width="13.15" height="13.35" fill="#E1F3F3"/><rect x="288.75" y="275.75" width="13.15" height="13.35" fill="#E1F3F3"/><rect x="301.50" y="275.75" width="13.15" height="13.35" fill="#E1F3F3"/><rect x="314.25" y="275.75" width="13.15" height="13.35" fill="#E1F3F3"/><rect x="327.00" y="275.75" width="13.15" height="13.35" fill="#E1F3F3"/><rect x="339.75" y="275.75" width="13.15" height="13.35" fill="#D3EBF8"/><rect x="352.50" y="275.75" width="13.15" height="13.35" fill="#D3EBF8"/><rect x="365.25" y="275.75" width="13.15" height="13.35" fill="#D3EBF8"/><rect x="378.00" y="275.75" width="13.15" height="13.35" fill="#D3EBF8"/><rect x="390.75" y="275.75" width="13.15" height="13.35" fill="#D3EBF8"/><rect x="403.50" y="275.75" width="13.15" height="13.35" fill="#D3EBF8"/><rect x="416.25" y="275.75" width="13.15" height="13.35" fill="#D3EBF8"/><rect x="429.00" y="275.75" width="13.15" height="13.35" fill="#D3EBF8"/><rect x="441.75" y="275.75" width="13.15" height="13.35" fill="#BCE0EF"/><rect x="454.50" y="275.75" width="13.15" height="13.35" fill="#BCE0EF"/><rect x="467.25" y="275.75" width="13.15" height="13.35" fill="#BCE0EF"/><rect x="480.00" y="275.75" width="13.15" height="13.35" fill="#A4D3E5"/><rect x="110.25" y="288.70" width="13.15" height="13.35" fill="#91C4DE"/><rect x="123.00" y="288.70" width="13.15" height="13.35" fill="#BCE0EF"/><rect x="135.75" y="288.70" width="13.15" height="13.35" fill="#FEE090"/><rect x="148.50" y="288.70" width="13.15" height="13.35" fill="#FEE090"/><rect x="161.25" y="288.70" width="13.15" height="13.35" fill="#FDD17F"/><rect x="174.00" y="288.70" width="13.15" height="13.35" fill="#FDD17F"/><rect x="186.75" y="288.70" width="13.15" height="13.35" fill="#FDD17F"/><rect x="199.50" y="288.70" width="13.15" height="13.35" fill="#FDD17F"/><rect x="212.25" y="288.70" width="13.15" height="13.35" fill="#FDD17F"/><rect x="225.00" y="288.70" width="13.15" height="13.35" fill="#FEE090"/><rect x="237.75" y="288.70" width="13.15" height="13.35" fill="#FEE090"/><rect x="250.50" y="288.70" width="13.15" height="13.35" fill="#FEE090"/><rect x="263.25" y="288.70" width="13.15" height="13.35" fill="#E1F3F3"/><rect x="276.00" y="288.70" width="13.15" height="13.35" fill="#E1F3F3"/><rect x="288.75" y="288.70" width="13.15" height="13.35" fill="#E1F3F3"/><rect x="301.50" y="288.70" width="13.15" height="13.35" fill="#E1F3F3"/><rect x="314.25" y="288.70" width="13.15" height="13.35" fill="#D3EBF8"/><rect x="327.00" y="288.70" width="13.15" height="13.35" fill="#D3EBF8"/><rect x="339.75" y="288.70" width="13.15" height="13.35" fill="#D3EBF8"/><rect x="352.50" y="288.70" width="13.15" height="13.35" fill="#D3EBF8"/><rect x="365.25" y="288.70" width="13.15" height="13.35" fill="#D3EBF8"/><rect x="378.00" y="288.70" width="13.15" height="13.35" fill="#D3EBF8"/><rect x="390.75" y="288.70" width="13.15" height="13.35" fill="#D3EBF8"/><rect x="403.50" y="288.70" width="13.15" height="13.35" fill="#D3EBF8"/><rect x="416.25" y="288.70" width="13.15" height="13.35" fill="#D3EBF8"/><rect x="429.00" y="288.70" width="13.15" height="13.35" fill="#BCE0EF"/><rect x="441.75" y="288.70" width="13.15" height="13.35" fill="#BCE0EF"/><rect x="454.50" y="288.70" width="13.15" height="13.35" fill="#BCE0EF"/><rect x="467.25" y="288.70" width="13.15" height="13.35" fill="#BCE0EF"/><rect x="97.50" y="301.65" width="13.15" height="13.35" fill="#7DB3D5"/><rect x="110.25" y="301.65" width="13.15" height="13.35" fill="#91C4DE"/><rect x="123.00" y="301.65" width="13.15" height="13.35" fill="#BCE0EF"/><rect x="135.75" y="301.65" width="13.15" height="13.35" fill="#FEE090"/><rect x="148.50" y="301.65" width="13.15" height="13.35" fill="#FDD17F"/><rect x="161.25" y="301.65" width="13.15" height="13.35" fill="#FDD17F"/><rect x="174.00" y="301.65" width="13.15" height="13.35" fill="#FDD17F"/><rect x="186.75" y="301.65" width="13.15" height="13.35" fill="#FDD17F"/><rect x="199.50" y="301.65" width="13.15" height="13.35" fill="#FDD17F"/><rect x="212.25" y="301.65" width="13.15" height="13.35" fill="#FDD17F"/><rect x="225.00" y="301.65" width="13.15" height="13.35" fill="#FEE090"/><rect x="237.75" y="301.65" width="13.15" height="13.35" fill="#FEE090"/><rect x="250.50" y="301.65" width="13.15" height="13.35" fill="#FEE090"/><rect x="263.25" y="301.65" width="13.15" height="13.35" fill="#E1F3F3"/><rect x="276.00" y="301.65" width="13.15" height="13.35" fill="#E1F3F3"/><rect x="288.75" y="301.65" width="13.15" height="13.35" fill="#D3EBF8"/><rect x="301.50" y="301.65" width="13.15" height="13.35" fill="#D3EBF8"/><rect x="314.25" y="301.65" width="13.15" height="13.35" fill="#D3EBF8"/><rect x="327.00" y="301.65" width="13.15" height="13.35" fill="#D3EBF8"/><rect x="339.75" y="301.65" width="13.15" height="13.35" fill="#BCE0EF"/><rect x="352.50" y="301.65" width="13.15" height="13.35" fill="#BCE0EF"/><rect x="365.25" y="301.65" width="13.15" height="13.35" fill="#BCE0EF"/><rect x="378.00" y="301.65" width="13.15" height="13.35" fill="#D3EBF8"/><rect x="390.75" y="301.65" width="13.15" height="13.35" fill="#D3EBF8"/><rect x="403.50" y="301.65" width="13.15" height="13.35" fill="#BCE0EF"/><rect x="416.25" y="301.65" width="13.15" height="13.35" fill="#BCE0EF"/><rect x="429.00" y="301.65" width="13.15" height="13.35" fill="#BCE0EF"/><rect x="441.75" y="301.65" width="13.15" height="13.35" fill="#BCE0EF"/><rect x="454.50" y="301.65" width="13.15" height="13.35" fill="#BCE0EF"/><rect x="467.25" y="301.65" width="13.15" height="13.35" fill="#BCE0EF"/><rect x="480.00" y="301.65" width="13.15" height="13.35" fill="#A4D3E5"/><rect x="492.75" y="301.65" width="13.15" height="13.35" fill="#A4D3E5"/><rect x="97.50" y="314.60" width="13.15" height="13.35" fill="#7DB3D5"/><rect x="110.25" y="314.60" width="13.15" height="13.35" fill="#7DB3D5"/><rect x="123.00" y="314.60" width="13.15" height="13.35" fill="#BCE0EF"/><rect x="135.75" y="314.60" width="13.15" height="13.35" fill="#FEE090"/><rect x="148.50" y="314.60" width="13.15" height="13.35" fill="#FDD17F"/><rect x="161.25" y="314.60" width="13.15" height="13.35" fill="#FDD17F"/><rect x="174.00" y="314.60" width="13.15" height="13.35" fill="#FDD17F"/><rect x="186.75" y="314.60" width="13.15" height="13.35" fill="#FDD17F"/><rect x="199.50" y="314.60" width="13.15" height="13.35" fill="#FDD17F"/><rect x="212.25" y="314.60" width="13.15" height="13.35" fill="#FEE090"/><rect x="225.00" y="314.60" width="13.15" height="13.35" fill="#FEE090"/><rect x="237.75" y="314.60" width="13.15" height="13.35" fill="#FEE090"/><rect x="250.50" y="314.60" width="13.15" height="13.35" fill="#E1F3F3"/><rect x="263.25" y="314.60" width="13.15" height="13.35" fill="#E1F3F3"/><rect x="276.00" y="314.60" width="13.15" height="13.35" fill="#D3EBF8"/><rect x="288.75" y="314.60" width="13.15" height="13.35" fill="#D3EBF8"/><rect x="301.50" y="314.60" width="13.15" height="13.35" fill="#D3EBF8"/><rect x="314.25" y="314.60" width="13.15" height="13.35" fill="#BCE0EF"/><rect x="327.00" y="314.60" width="13.15" height="13.35" fill="#BCE0EF"/><rect x="339.75" y="314.60" width="13.15" height="13.35" fill="#BCE0EF"/><rect x="352.50" y="314.60" width="13.15" height="13.35" fill="#BCE0EF"/><rect x="365.25" y="314.60" width="13.15" height="13.35" fill="#BCE0EF"/><rect x="378.00" y="314.60" width="13.15" height="13.35" fill="#BCE0EF"/><rect x="390.75" y="314.60" width="13.15" height="13.35" fill="#BCE0EF"/><rect x="403.50" y="314.60" width="13.15" height="13.35" fill="#BCE0EF"/><rect x="416.25" y="314.60" width="13.15" height="13.35" fill="#BCE0EF"/><rect x="429.00" y="314.60" width="13.15" height="13.35" fill="#BCE0EF"/><rect x="441.75" y="314.60" width="13.15" height="13.35" fill="#BCE0EF"/><rect x="454.50" y="314.60" width="13.15" height="13.35" fill="#BCE0EF"/><rect x="467.25" y="314.60" width="13.15" height="13.35" fill="#BCE0EF"/><rect x="480.00" y="314.60" width="13.15" height="13.35" fill="#BCE0EF"/><rect x="492.75" y="314.60" width="13.15" height="13.35" fill="#A4D3E5"/><rect x="505.50" y="314.60" width="13.15" height="13.35" fill="#BCE0EF"/><rect x="123.00" y="327.55" width="13.15" height="13.35" fill="#A4D3E5"/><rect x="135.75" y="327.55" width="13.15" height="13.35" fill="#FEE090"/><rect x="148.50" y="327.55" width="13.15" height="13.35" fill="#FDD17F"/><rect x="161.25" y="327.55" width="13.15" height="13.35" fill="#FDD17F"/><rect x="174.00" y="327.55" width="13.15" height="13.35" fill="#FDD17F"/><rect x="186.75" y="327.55" width="13.15" height="13.35" fill="#FDD17F"/><rect x="199.50" y="327.55" width="13.15" height="13.35" fill="#FDD17F"/><rect x="212.25" y="327.55" width="13.15" height="13.35" fill="#FEE090"/><rect x="225.00" y="327.55" width="13.15" height="13.35" fill="#FEE090"/><rect x="237.75" y="327.55" width="13.15" height="13.35" fill="#FEE090"/><rect x="250.50" y="327.55" width="13.15" height="13.35" fill="#E1F3F3"/><rect x="263.25" y="327.55" width="13.15" height="13.35" fill="#D3EBF8"/><rect x="276.00" y="327.55" width="13.15" height="13.35" fill="#D3EBF8"/><rect x="288.75" y="327.55" width="13.15" height="13.35" fill="#D3EBF8"/><rect x="301.50" y="327.55" width="13.15" height="13.35" fill="#BCE0EF"/><rect x="314.25" y="327.55" width="13.15" height="13.35" fill="#A4D3E5"/><rect x="327.00" y="327.55" width="13.15" height="13.35" fill="#BCE0EF"/><rect x="339.75" y="327.55" width="13.15" height="13.35" fill="#BCE0EF"/><rect x="352.50" y="327.55" width="13.15" height="13.35" fill="#BCE0EF"/><rect x="365.25" y="327.55" width="13.15" height="13.35" fill="#BCE0EF"/><rect x="378.00" y="327.55" width="13.15" height="13.35" fill="#BCE0EF"/><rect x="390.75" y="327.55" width="13.15" height="13.35" fill="#BCE0EF"/><rect x="403.50" y="327.55" width="13.15" height="13.35" fill="#BCE0EF"/><rect x="416.25" y="327.55" width="13.15" height="13.35" fill="#A4D3E5"/><rect x="429.00" y="327.55" width="13.15" height="13.35" fill="#A4D3E5"/><rect x="441.75" y="327.55" width="13.15" height="13.35" fill="#BCE0EF"/><rect x="454.50" y="327.55" width="13.15" height="13.35" fill="#BCE0EF"/><rect x="467.25" y="327.55" width="13.15" height="13.35" fill="#BCE0EF"/><rect x="480.00" y="327.55" width="13.15" height="13.35" fill="#BCE0EF"/><rect x="492.75" y="327.55" width="13.15" height="13.35" fill="#BCE0EF"/><rect x="505.50" y="327.55" width="13.15" height="13.35" fill="#BCE0EF"/><rect x="518.25" y="327.55" width="13.15" height="13.35" fill="#BCE0EF"/><rect x="123.00" y="340.50" width="13.15" height="13.35" fill="#67A0CB"/><rect x="135.75" y="340.50" width="13.15" height="13.35" fill="#D3EBF8"/><rect x="148.50" y="340.50" width="13.15" height="13.35" fill="#FEE090"/><rect x="161.25" y="340.50" width="13.15" height="13.35" fill="#FDD17F"/><rect x="174.00" y="340.50" width="13.15" height="13.35" fill="#FDD17F"/><rect x="186.75" y="340.50" width="13.15" height="13.35" fill="#FDD17F"/><rect x="199.50" y="340.50" width="13.15" height="13.35" fill="#FDD17F"/><rect x="212.25" y="340.50" width="13.15" height="13.35" fill="#FEE090"/><rect x="225.00" y="340.50" width="13.15" height="13.35" fill="#FEE090"/><rect x="237.75" y="340.50" width="13.15" height="13.35" fill="#E1F3F3"/><rect x="250.50" y="340.50" width="13.15" height="13.35" fill="#E1F3F3"/><rect x="263.25" y="340.50" width="13.15" height="13.35" fill="#D3EBF8"/><rect x="276.00" y="340.50" width="13.15" height="13.35" fill="#D3EBF8"/><rect x="288.75" y="340.50" width="13.15" height="13.35" fill="#BCE0EF"/><rect x="301.50" y="340.50" width="13.15" height="13.35" fill="#A4D3E5"/><rect x="314.25" y="340.50" width="13.15" height="13.35" fill="#A4D3E5"/><rect x="327.00" y="340.50" width="13.15" height="13.35" fill="#A4D3E5"/><rect x="339.75" y="340.50" width="13.15" height="13.35" fill="#A4D3E5"/><rect x="352.50" y="340.50" width="13.15" height="13.35" fill="#A4D3E5"/><rect x="365.25" y="340.50" width="13.15" height="13.35" fill="#A4D3E5"/><rect x="378.00" y="340.50" width="13.15" height="13.35" fill="#A4D3E5"/><rect x="390.75" y="340.50" width="13.15" height="13.35" fill="#A4D3E5"/><rect x="403.50" y="340.50" width="13.15" height="13.35" fill="#A4D3E5"/><rect x="416.25" y="340.50" width="13.15" height="13.35" fill="#A4D3E5"/><rect x="429.00" y="340.50" width="13.15" height="13.35" fill="#A4D3E5"/><rect x="441.75" y="340.50" width="13.15" height="13.35" fill="#A4D3E5"/><rect x="454.50" y="340.50" width="13.15" height="13.35" fill="#BCE0EF"/><rect x="467.25" y="340.50" width="13.15" height="13.35" fill="#BCE0EF"/><rect x="480.00" y="340.50" width="13.15" height="13.35" fill="#D3EBF8"/><rect x="492.75" y="340.50" width="13.15" height="13.35" fill="#D3EBF8"/><rect x="505.50" y="340.50" width="13.15" height="13.35" fill="#D3EBF8"/><rect x="518.25" y="340.50" width="13.15" height="13.35" fill="#E1F3F3"/><rect x="123.00" y="353.45" width="13.15" height="13.35" fill="#5288BE"/><rect x="135.75" y="353.45" width="13.15" height="13.35" fill="#D3EBF8"/><rect x="148.50" y="353.45" width="13.15" height="13.35" fill="#FEE090"/><rect x="161.25" y="353.45" width="13.15" height="13.35" fill="#FDD17F"/><rect x="174.00" y="353.45" width="13.15" height="13.35" fill="#FDD17F"/><rect x="186.75" y="353.45" width="13.15" height="13.35" fill="#FDD17F"/><rect x="199.50" y="353.45" width="13.15" height="13.35" fill="#FEE090"/><rect x="212.25" y="353.45" width="13.15" height="13.35" fill="#FEE090"/><rect x="225.00" y="353.45" width="13.15" height="13.35" fill="#FEE090"/><rect x="237.75" y="353.45" width="13.15" height="13.35" fill="#E1F3F3"/><rect x="250.50" y="353.45" width="13.15" height="13.35" fill="#E1F3F3"/><rect x="263.25" y="353.45" width="13.15" height="13.35" fill="#D3EBF8"/><rect x="276.00" y="353.45" width="13.15" height="13.35" fill="#BCE0EF"/><rect x="288.75" y="353.45" width="13.15" height="13.35" fill="#BCE0EF"/><rect x="301.50" y="353.45" width="13.15" height="13.35" fill="#A4D3E5"/><rect x="314.25" y="353.45" width="13.15" height="13.35" fill="#A4D3E5"/><rect x="327.00" y="353.45" width="13.15" height="13.35" fill="#A4D3E5"/><rect x="339.75" y="353.45" width="13.15" height="13.35" fill="#A4D3E5"/><rect x="352.50" y="353.45" width="13.15" height="13.35" fill="#A4D3E5"/><rect x="365.25" y="353.45" width="13.15" height="13.35" fill="#A4D3E5"/><rect x="378.00" y="353.45" width="13.15" height="13.35" fill="#A4D3E5"/><rect x="390.75" y="353.45" width="13.15" height="13.35" fill="#A4D3E5"/><rect x="403.50" y="353.45" width="13.15" height="13.35" fill="#A4D3E5"/><rect x="416.25" y="353.45" width="13.15" height="13.35" fill="#A4D3E5"/><rect x="429.00" y="353.45" width="13.15" height="13.35" fill="#A4D3E5"/><rect x="441.75" y="353.45" width="13.15" height="13.35" fill="#BCE0EF"/><rect x="454.50" y="353.45" width="13.15" height="13.35" fill="#BCE0EF"/><rect x="467.25" y="353.45" width="13.15" height="13.35" fill="#D3EBF8"/><rect x="480.00" y="353.45" width="13.15" height="13.35" fill="#D3EBF8"/><rect x="492.75" y="353.45" width="13.15" height="13.35" fill="#D3EBF8"/><rect x="505.50" y="353.45" width="13.15" height="13.35" fill="#E1F3F3"/><rect x="135.75" y="366.40" width="13.15" height="13.35" fill="#91C4DE"/><rect x="148.50" y="366.40" width="13.15" height="13.35" fill="#FEE090"/><rect x="161.25" y="366.40" width="13.15" height="13.35" fill="#FDD17F"/><rect x="174.00" y="366.40" width="13.15" height="13.35" fill="#FDD17F"/><rect x="186.75" y="366.40" width="13.15" height="13.35" fill="#FDD17F"/><rect x="199.50" y="366.40" width="13.15" height="13.35" fill="#FEE090"/><rect x="212.25" y="366.40" width="13.15" height="13.35" fill="#FEE090"/><rect x="225.00" y="366.40" width="13.15" height="13.35" fill="#E1F3F3"/><rect x="237.75" y="366.40" width="13.15" height="13.35" fill="#E1F3F3"/><rect x="250.50" y="366.40" width="13.15" height="13.35" fill="#D3EBF8"/><rect x="263.25" y="366.40" width="13.15" height="13.35" fill="#D3EBF8"/><rect x="276.00" y="366.40" width="13.15" height="13.35" fill="#BCE0EF"/><rect x="288.75" y="366.40" width="13.15" height="13.35" fill="#BCE0EF"/><rect x="301.50" y="366.40" width="13.15" height="13.35" fill="#A4D3E5"/><rect x="314.25" y="366.40" width="13.15" height="13.35" fill="#A4D3E5"/><rect x="327.00" y="366.40" width="13.15" height="13.35" fill="#A4D3E5"/><rect x="339.75" y="366.40" width="13.15" height="13.35" fill="#A4D3E5"/><rect x="352.50" y="366.40" width="13.15" height="13.35" fill="#A4D3E5"/><rect x="365.25" y="366.40" width="13.15" height="13.35" fill="#A4D3E5"/><rect x="378.00" y="366.40" width="13.15" height="13.35" fill="#A4D3E5"/><rect x="390.75" y="366.40" width="13.15" height="13.35" fill="#A4D3E5"/><rect x="403.50" y="366.40" width="13.15" height="13.35" fill="#A4D3E5"/><rect x="416.25" y="366.40" width="13.15" height="13.35" fill="#A4D3E5"/><rect x="429.00" y="366.40" width="13.15" height="13.35" fill="#BCE0EF"/><rect x="441.75" y="366.40" width="13.15" height="13.35" fill="#BCE0EF"/><rect x="454.50" y="366.40" width="13.15" height="13.35" fill="#D3EBF8"/><rect x="467.25" y="366.40" width="13.15" height="13.35" fill="#D3EBF8"/><rect x="480.00" y="366.40" width="13.15" height="13.35" fill="#E1F3F3"/><rect x="492.75" y="366.40" width="13.15" height="13.35" fill="#E1F3F3"/><rect x="505.50" y="366.40" width="13.15" height="13.35" fill="#E1F3F3"/><rect x="518.25" y="366.40" width="13.15" height="13.35" fill="#FEE090"/><rect x="135.75" y="379.35" width="13.15" height="13.35" fill="#5288BE"/><rect x="148.50" y="379.35" width="13.15" height="13.35" fill="#E1F3F3"/><rect x="161.25" y="379.35" width="13.15" height="13.35" fill="#FDD17F"/><rect x="174.00" y="379.35" width="13.15" height="13.35" fill="#FDD17F"/><rect x="186.75" y="379.35" width="13.15" height="13.35" fill="#FDD17F"/><rect x="199.50" y="379.35" width="13.15" height="13.35" fill="#FEE090"/><rect x="212.25" y="379.35" width="13.15" height="13.35" fill="#E1F3F3"/><rect x="225.00" y="379.35" width="13.15" height="13.35" fill="#E1F3F3"/><rect x="237.75" y="379.35" width="13.15" height="13.35" fill="#E1F3F3"/><rect x="250.50" y="379.35" width="13.15" height="13.35" fill="#E1F3F3"/><rect x="263.25" y="379.35" width="13.15" height="13.35" fill="#BCE0EF"/><rect x="276.00" y="379.35" width="13.15" height="13.35" fill="#BCE0EF"/><rect x="288.75" y="379.35" width="13.15" height="13.35" fill="#BCE0EF"/><rect x="301.50" y="379.35" width="13.15" height="13.35" fill="#A4D3E5"/><rect x="314.25" y="379.35" width="13.15" height="13.35" fill="#A4D3E5"/><rect x="327.00" y="379.35" width="13.15" height="13.35" fill="#A4D3E5"/><rect x="339.75" y="379.35" width="13.15" height="13.35" fill="#A4D3E5"/><rect x="352.50" y="379.35" width="13.15" height="13.35" fill="#91C4DE"/><rect x="365.25" y="379.35" width="13.15" height="13.35" fill="#91C4DE"/><rect x="378.00" y="379.35" width="13.15" height="13.35" fill="#A4D3E5"/><rect x="390.75" y="379.35" width="13.15" height="13.35" fill="#A4D3E5"/><rect x="403.50" y="379.35" width="13.15" height="13.35" fill="#A4D3E5"/><rect x="416.25" y="379.35" width="13.15" height="13.35" fill="#BCE0EF"/><rect x="429.00" y="379.35" width="13.15" height="13.35" fill="#BCE0EF"/><rect x="441.75" y="379.35" width="13.15" height="13.35" fill="#D3EBF8"/><rect x="454.50" y="379.35" width="13.15" height="13.35" fill="#E1F3F3"/><rect x="467.25" y="379.35" width="13.15" height="13.35" fill="#E1F3F3"/><rect x="480.00" y="379.35" width="13.15" height="13.35" fill="#E1F3F3"/><rect x="492.75" y="379.35" width="13.15" height="13.35" fill="#FEE090"/><rect x="505.50" y="379.35" width="13.15" height="13.35" fill="#FEE090"/><rect x="518.25" y="379.35" width="13.15" height="13.35" fill="#FEE090"/><rect x="148.50" y="392.30" width="13.15" height="13.35" fill="#91C4DE"/><rect x="161.25" y="392.30" width="13.15" height="13.35" fill="#FEE090"/><rect x="174.00" y="392.30" width="13.15" height="13.35" fill="#FDD17F"/><rect x="186.75" y="392.30" width="13.15" height="13.35" fill="#FDD17F"/><rect x="199.50" y="392.30" width="13.15" height="13.35" fill="#FEE090"/><rect x="212.25" y="392.30" width="13.15" height="13.35" fill="#FEE090"/><rect x="225.00" y="392.30" width="13.15" height="13.35" fill="#E1F3F3"/><rect x="237.75" y="392.30" width="13.15" height="13.35" fill="#E1F3F3"/><rect x="250.50" y="392.30" width="13.15" height="13.35" fill="#D3EBF8"/><rect x="263.25" y="392.30" width="13.15" height="13.35" fill="#BCE0EF"/><rect x="276.00" y="392.30" width="13.15" height="13.35" fill="#BCE0EF"/><rect x="288.75" y="392.30" width="13.15" height="13.35" fill="#D3EBF8"/><rect x="301.50" y="392.30" width="13.15" height="13.35" fill="#BCE0EF"/><rect x="314.25" y="392.30" width="13.15" height="13.35" fill="#A4D3E5"/><rect x="327.00" y="392.30" width="13.15" height="13.35" fill="#91C4DE"/><rect x="339.75" y="392.30" width="13.15" height="13.35" fill="#91C4DE"/><rect x="352.50" y="392.30" width="13.15" height="13.35" fill="#91C4DE"/><rect x="365.25" y="392.30" width="13.15" height="13.35" fill="#A4D3E5"/><rect x="378.00" y="392.30" width="13.15" height="13.35" fill="#A4D3E5"/><rect x="390.75" y="392.30" width="13.15" height="13.35" fill="#A4D3E5"/><rect x="403.50" y="392.30" width="13.15" height="13.35" fill="#BCE0EF"/><rect x="416.25" y="392.30" width="13.15" height="13.35" fill="#BCE0EF"/><rect x="429.00" y="392.30" width="13.15" height="13.35" fill="#D3EBF8"/><rect x="441.75" y="392.30" width="13.15" height="13.35" fill="#E1F3F3"/><rect x="454.50" y="392.30" width="13.15" height="13.35" fill="#FEE090"/><rect x="467.25" y="392.30" width="13.15" height="13.35" fill="#FEE090"/><rect x="480.00" y="392.30" width="13.15" height="13.35" fill="#FEE090"/><rect x="492.75" y="392.30" width="13.15" height="13.35" fill="#FDD17F"/><rect x="505.50" y="392.30" width="13.15" height="13.35" fill="#FEE090"/><rect x="518.25" y="392.30" width="13.15" height="13.35" fill="#FEE090"/><rect x="161.25" y="405.25" width="13.15" height="13.35" fill="#D3EBF8"/><rect x="174.00" y="405.25" width="13.15" height="13.35" fill="#FEE090"/><rect x="186.75" y="405.25" width="13.15" height="13.35" fill="#FEE090"/><rect x="199.50" y="405.25" width="13.15" height="13.35" fill="#E1F3F3"/><rect x="212.25" y="405.25" width="13.15" height="13.35" fill="#FEE090"/><rect x="225.00" y="405.25" width="13.15" height="13.35" fill="#E1F3F3"/><rect x="237.75" y="405.25" width="13.15" height="13.35" fill="#E1F3F3"/><rect x="250.50" y="405.25" width="13.15" height="13.35" fill="#D3EBF8"/><rect x="263.25" y="405.25" width="13.15" height="13.35" fill="#D3EBF8"/><rect x="276.00" y="405.25" width="13.15" height="13.35" fill="#D3EBF8"/><rect x="288.75" y="405.25" width="13.15" height="13.35" fill="#D3EBF8"/><rect x="301.50" y="405.25" width="13.15" height="13.35" fill="#BCE0EF"/><rect x="314.25" y="405.25" width="13.15" height="13.35" fill="#BCE0EF"/><rect x="327.00" y="405.25" width="13.15" height="13.35" fill="#A4D3E5"/><rect x="339.75" y="405.25" width="13.15" height="13.35" fill="#A4D3E5"/><rect x="352.50" y="405.25" width="13.15" height="13.35" fill="#A4D3E5"/><rect x="365.25" y="405.25" width="13.15" height="13.35" fill="#91C4DE"/><rect x="378.00" y="405.25" width="13.15" height="13.35" fill="#A4D3E5"/><rect x="390.75" y="405.25" width="13.15" height="13.35" fill="#BCE0EF"/><rect x="403.50" y="405.25" width="13.15" height="13.35" fill="#BCE0EF"/><rect x="416.25" y="405.25" width="13.15" height="13.35" fill="#BCE0EF"/><rect x="429.00" y="405.25" width="13.15" height="13.35" fill="#D3EBF8"/><rect x="441.75" y="405.25" width="13.15" height="13.35" fill="#E1F3F3"/><rect x="454.50" y="405.25" width="13.15" height="13.35" fill="#FEE090"/><rect x="467.25" y="405.25" width="13.15" height="13.35" fill="#E1F3F3"/><rect x="480.00" y="405.25" width="13.15" height="13.35" fill="#FDD17F"/><rect x="492.75" y="405.25" width="13.15" height="13.35" fill="#FEE090"/><rect x="505.50" y="405.25" width="13.15" height="13.35" fill="#FDD17F"/><rect x="518.25" y="405.25" width="13.15" height="13.35" fill="#FEE090"/><rect x="161.25" y="418.20" width="13.15" height="13.35" fill="#7DB3D5"/><rect x="174.00" y="418.20" width="13.15" height="13.35" fill="#D3EBF8"/><rect x="186.75" y="418.20" width="13.15" height="13.35" fill="#E1F3F3"/><rect x="199.50" y="418.20" width="13.15" height="13.35" fill="#E1F3F3"/><rect x="212.25" y="418.20" width="13.15" height="13.35" fill="#D3EBF8"/><rect x="225.00" y="418.20" width="13.15" height="13.35" fill="#E1F3F3"/><rect x="237.75" y="418.20" width="13.15" height="13.35" fill="#D3EBF8"/><rect x="250.50" y="418.20" width="13.15" height="13.35" fill="#D3EBF8"/><rect x="263.25" y="418.20" width="13.15" height="13.35" fill="#D3EBF8"/><rect x="276.00" y="418.20" width="13.15" height="13.35" fill="#D3EBF8"/><rect x="288.75" y="418.20" width="13.15" height="13.35" fill="#D3EBF8"/><rect x="301.50" y="418.20" width="13.15" height="13.35" fill="#D3EBF8"/><rect x="314.25" y="418.20" width="13.15" height="13.35" fill="#BCE0EF"/><rect x="327.00" y="418.20" width="13.15" height="13.35" fill="#A4D3E5"/><rect x="339.75" y="418.20" width="13.15" height="13.35" fill="#A4D3E5"/><rect x="352.50" y="418.20" width="13.15" height="13.35" fill="#A4D3E5"/><rect x="365.25" y="418.20" width="13.15" height="13.35" fill="#A4D3E5"/><rect x="378.00" y="418.20" width="13.15" height="13.35" fill="#A4D3E5"/><rect x="390.75" y="418.20" width="13.15" height="13.35" fill="#BCE0EF"/><rect x="403.50" y="418.20" width="13.15" height="13.35" fill="#BCE0EF"/><rect x="416.25" y="418.20" width="13.15" height="13.35" fill="#D3EBF8"/><rect x="429.00" y="418.20" width="13.15" height="13.35" fill="#D3EBF8"/><rect x="441.75" y="418.20" width="13.15" height="13.35" fill="#E1F3F3"/><rect x="454.50" y="418.20" width="13.15" height="13.35" fill="#FEE090"/><rect x="467.25" y="418.20" width="13.15" height="13.35" fill="#FEE090"/><rect x="480.00" y="418.20" width="13.15" height="13.35" fill="#FEE090"/><rect x="492.75" y="418.20" width="13.15" height="13.35" fill="#FEE090"/><rect x="505.50" y="418.20" width="13.15" height="13.35" fill="#FEE090"/><rect x="518.25" y="418.20" width="13.15" height="13.35" fill="#FEE090"/><rect x="186.75" y="431.15" width="13.15" height="13.35" fill="#BCE0EF"/><rect x="199.50" y="431.15" width="13.15" height="13.35" fill="#BCE0EF"/><rect x="237.75" y="431.15" width="13.15" height="13.35" fill="#E1F3F3"/><rect x="250.50" y="431.15" width="13.15" height="13.35" fill="#D3EBF8"/><rect x="263.25" y="431.15" width="13.15" height="13.35" fill="#BCE0EF"/><rect x="276.00" y="431.15" width="13.15" height="13.35" fill="#D3EBF8"/><rect x="288.75" y="431.15" width="13.15" height="13.35" fill="#D3EBF8"/><rect x="301.50" y="431.15" width="13.15" height="13.35" fill="#D3EBF8"/><rect x="314.25" y="431.15" width="13.15" height="13.35" fill="#D3EBF8"/><rect x="327.00" y="431.15" width="13.15" height="13.35" fill="#D3EBF8"/><rect x="339.75" y="431.15" width="13.15" height="13.35" fill="#BCE0EF"/><rect x="352.50" y="431.15" width="13.15" height="13.35" fill="#BCE0EF"/><rect x="416.25" y="431.15" width="13.15" height="13.35" fill="#D3EBF8"/><rect x="429.00" y="431.15" width="13.15" height="13.35" fill="#E1F3F3"/><rect x="441.75" y="431.15" width="13.15" height="13.35" fill="#E1F3F3"/><rect x="454.50" y="431.15" width="13.15" height="13.35" fill="#FEE090"/><rect x="467.25" y="431.15" width="13.15" height="13.35" fill="#FDD17F"/><rect x="480.00" y="431.15" width="13.15" height="13.35" fill="#FEE090"/><rect x="492.75" y="431.15" width="13.15" height="13.35" fill="#FDD17F"/><rect x="505.50" y="431.15" width="13.15" height="13.35" fill="#FEE090"/><rect x="237.75" y="444.10" width="13.15" height="13.35" fill="#D3EBF8"/><rect x="250.50" y="444.10" width="13.15" height="13.35" fill="#BCE0EF"/><rect x="263.25" y="444.10" width="13.15" height="13.35" fill="#BCE0EF"/><rect x="276.00" y="444.10" width="13.15" height="13.35" fill="#BCE0EF"/><rect x="288.75" y="444.10" width="13.15" height="13.35" fill="#D3EBF8"/><rect x="301.50" y="444.10" width="13.15" height="13.35" fill="#D3EBF8"/><rect x="314.25" y="444.10" width="13.15" height="13.35" fill="#E1F3F3"/><rect x="327.00" y="444.10" width="13.15" height="13.35" fill="#E1F3F3"/><rect x="339.75" y="444.10" width="13.15" height="13.35" fill="#D3EBF8"/><rect x="352.50" y="444.10" width="13.15" height="13.35" fill="#BCE0EF"/><rect x="429.00" y="444.10" width="13.15" height="13.35" fill="#D3EBF8"/><rect x="441.75" y="444.10" width="13.15" height="13.35" fill="#D3EBF8"/><rect x="454.50" y="444.10" width="13.15" height="13.35" fill="#E1F3F3"/><rect x="467.25" y="444.10" width="13.15" height="13.35" fill="#FEE090"/><rect x="480.00" y="444.10" width="13.15" height="13.35" fill="#FEE090"/><rect x="250.50" y="457.05" width="13.15" height="13.35" fill="#FEE090"/><rect x="263.25" y="457.05" width="13.15" height="13.35" fill="#D3EBF8"/><rect x="276.00" y="457.05" width="13.15" height="13.35" fill="#BCE0EF"/><rect x="288.75" y="457.05" width="13.15" height="13.35" fill="#BCE0EF"/><rect x="301.50" y="457.05" width="13.15" height="13.35" fill="#BCE0EF"/><rect x="314.25" y="457.05" width="13.15" height="13.35" fill="#D3EBF8"/><rect x="327.00" y="457.05" width="13.15" height="13.35" fill="#D3EBF8"/><rect x="339.75" y="457.05" width="13.15" height="13.35" fill="#D3EBF8"/><rect x="352.50" y="457.05" width="13.15" height="13.35" fill="#D3EBF8"/><rect x="429.00" y="457.05" width="13.15" height="13.35" fill="#D3EBF8"/><rect x="441.75" y="457.05" width="13.15" height="13.35" fill="#D3EBF8"/><rect x="454.50" y="457.05" width="13.15" height="13.35" fill="#E1F3F3"/><rect x="263.25" y="470.00" width="13.15" height="13.35" fill="#FEE090"/><rect x="276.00" y="470.00" width="13.15" height="13.35" fill="#E1F3F3"/><rect x="288.75" y="470.00" width="13.15" height="13.35" fill="#BCE0EF"/><rect x="301.50" y="470.00" width="13.15" height="13.35" fill="#D3EBF8"/><rect x="314.25" y="470.00" width="13.15" height="13.35" fill="#D3EBF8"/><rect x="327.00" y="470.00" width="13.15" height="13.35" fill="#D3EBF8"/><rect x="339.75" y="470.00" width="13.15" height="13.35" fill="#D3EBF8"/><rect x="352.50" y="470.00" width="13.15" height="13.35" fill="#BCE0EF"/><rect x="263.25" y="482.95" width="13.15" height="13.35" fill="#FEE090"/><rect x="276.00" y="482.95" width="13.15" height="13.35" fill="#FDD17F"/><rect x="288.75" y="482.95" width="13.15" height="13.35" fill="#D3EBF8"/><rect x="301.50" y="482.95" width="13.15" height="13.35" fill="#D3EBF8"/><rect x="314.25" y="482.95" width="13.15" height="13.35" fill="#E1F3F3"/><rect x="327.00" y="482.95" width="13.15" height="13.35" fill="#D3EBF8"/><rect x="288.75" y="495.90" width="13.15" height="13.35" fill="#D3EBF8"/><rect x="301.50" y="495.90" width="13.15" height="13.35" fill="#BCE0EF"/><rect x="314.25" y="495.90" width="13.15" height="13.35" fill="#E1F3F3"/></g>
<path d="M53.0 65.0 53.0 81.5 51.0 87.6 50.5 94.8 48.4 100.5 50.5 106.1 56.1 115.4 60.7 119.5 67.4 123.6 69.5 128.8 75.1 129.3 79.8 132.4 91.6 128.3 99.3 125.7 102.9 121.1 109.1 121.1 114.2 123.1 120.4 124.7 126.6 129.8 132.7 137.0 138.9 144.2 138.9 134.9 144.1 129.8 148.7 123.1 153.8 122.1 154.3 112.3 157.4 106.1 163.1 103.6 168.7 104.6 171.8 100.5 180.1 101.0 188.3 96.4 196.5 91.7 200.6 87.1 204.2 85.6 208.9 87.1 209.9 89.7 207.8 94.3 200.6 96.9 203.7 104.1 205.8 109.2 200.6 118.5 202.7 122.6 203.7 128.8 210.9 126.7 210.9 119.5 206.8 111.3 206.8 104.1 214.7 102.9 222.5 100.0 220.5 91.2 226.3 89.3 228.3 96.1 238.0 97.1 243.8 100.0 247.7 109.7 254.5 110.7 267.1 108.7 274.9 109.7 280.7 113.6 288.5 114.5 295.3 111.6 302.1 107.7 313.8 108.7 319.6 115.5 323.5 119.4 329.3 120.4 339.0 123.3 341.0 129.1 340.0 135.9 348.7 134.9 360.4 140.8 368.2 146.6 371.0 151.5 370.0 156.3 375.8 156.3 383.6 162.1 389.4 168.0 403.0 168.9 414.7 168.0 428.3 170.9 443.8 176.7 455.5 184.5 467.1 194.2 468.1 202.9 473.0 212.7 474.9 220.4 481.1 221.4 480.7 230.1 475.9 236.0 469.1 241.8 464.2 246.7 462.3 251.5 461.3 256.4M313.8 107.7 325.4 107.4M330.3 115.5 331.3 106.8 340.0 106.2 340.0 112.6 334.2 115.9 330.3 115.5M472.0 262.0 473.9 248.6 476.9 245.7 486.6 244.7 499.2 246.7 498.2 259.3 497.3 262.2 502.1 252.5 509.9 250.5 513.6 251.7 523.6 255.9 537.0 260.1 540.4 264.3 545.4 261.7 551.2 272.6 549.6 279.3 557.1 276.0 563.8 273.5 575.5 277.6 582.2 278.5 588.9 281.0 600.6 279.3 607.3 279.3 615.6 285.2 625.7 291.9 635.7 300.2 645.8 306.9 655.8 307.7 665.8 309.4 670.8 323.6 674.2 337.0 673.4 347.1 665.8 360.4 655.8 373.8 647.4 380.5 640.7 388.9 634.0 398.9 629.0 405.6 621.5 411.5 619.8 427.4 621.5 445.8 619.0 465.8 614.0 471.7 612.3 490.9 604.8 499.3 596.4 509.3 594.7 521.0 582.2 528.6 582.2 532.7 567.1 534.4 548.7 533.6 549.6 537.8 542.9 539.4 538.7 544.5 534.5 542.8 522.0 548.6 510.3 558.7 508.6 560.5M34.0 115.4 38.1 119.5 45.3 124.1 50.5 128.8 49.4 135.5 55.6 136.5 59.7 139.6 62.3 137.5 73.1 140.6 78.2 144.7 84.4 144.7 85.4 152.4 91.6 150.9 97.8 147.3 92.1 143.2 91.1 139.1 97.8 136.0 101.9 131.9 104.5 128.8 108.1 128.8 113.2 131.9 117.3 137.0 121.4 137.5 117.8 141.1 120.4 148.3 126.6 154.5 130.7 159.6 129.7 165.8 130.7 176.1 131.2 185.3 129.7 192.5 133.8 196.7 128.6 207.0 126.1 209.0 119.4 209.0 114.7 215.2 115.8 221.3 110.1 222.4 112.2 227.5 112.7 227.1 98.0 234.6 96.6 242.8 91.1 247.6 90.8 253.8 85.7 255.5 87.7 264.8 87.4 271.6 85.7 272.3 91.1 275.7 95.3 281.2 96.3 274.4 102.1 274.7 98.0 285.3 91.1 288.8 80.2 297.0 80.2 303.9 83.6 310.7 87.0 314.8 82.6 319.3 86.3 321.7 92.5 324.4 98.0 329.9 102.1 335.0 103.9 342.6 111.5 348.6 116.1 356.2 120.6 371.4 126.7 380.6 131.3 391.2 138.9 401.8 146.5 417.0 145.0 423.1 155.6 435.3 167.8 442.9 173.8 444.4 183.0 450.5 192.1 455.0 205.8 461.9 210.3 467.2 220.2 474.0 222.5 496.1 224.0 512.8 219.4 532.6 218.7 549.3 218.7 560.5" fill="none" stroke="#7d7d7d" stroke-width="1.9" stroke-linejoin="round"/>
<path d="M119.9 335.0 116.5 329.2 113.1 325.1 108.3 323.1 103.1 320.3 102.8 314.1 101.4 308.7 104.9 301.8 103.5 295.6 105.5 288.8 111.0 283.3 106.2 280.5 107.6 275.7 112.4 270.3 109.7 266.1 109.0 260.7 111.7 255.9 111.0 250.4 115.8 248.3 118.6 244.2 126.1 240.1 125.4 235.3 132.3 232.5 134.3 228.4 139.1 225.0 138.7 219.0 140.7 216.2 144.2 222.4 150.3 217.6 157.2 209.4 162.0 201.1 164.7 203.9 167.5 210.7 168.9 220.3 170.9 221.0 176.4 218.3 180.5 217.6 186.0 214.9 192.9 211.4 206.6 210.7 220.3 212.1 229.9 213.9 240.9 211.4 245.0 207.3 246.3 205.3 253.2 205.3 261.4 208.7 264.8 205.9 273.8 205.3 279.2 210.7 284.1 219.0 288.9 223.1 297.1 219.0 304.0 216.9 309.5 214.2 310.2 212.1 304.7 212.1 297.1 212.1 297.1 208.0 299.9 198.4 300.6 194.3 295.1 192.9 295.1 190.2 298.5 188.8 301.9 191.5 308.8 191.5 314.3 198.4 317.0 192.9 322.5 194.3 324.6 189.5 326.6 186.1 334.9 184.0 340.3 185.4 342.4 180.6 344.5 177.1 351.3 175.8 355.4 177.8 359.5 181.9 359.5 197.7 356.8 200.5 358.2 206.6 359.5 208.0 358.9 216.9 356.8 219.0 360.9 223.8 363.7 225.8 369.1 225.8 372.5 224.0 379.1 205.6 375.5 224.0 377.4 223.8 382.9 223.1 387.0 217.6 391.1 217.6 395.2 218.3 400.0 217.6 402.1 209.7 416.6 209.7 422.5 213.6 436.1 213.6 443.8 220.4 449.7 230.1 453.5 239.9 455.5 248.6 461.3 249.6 460.3 254.4 455.5 258.3 445.8 263.2 457.4 260.3 465.2 256.4 470.1 259.3 471.0 265.1 465.0 264.0 461.3 267.0 463.0 272.0 469.1 273.9 471.0 266.0 478.8 266.1 486.6 264.1 492.4 267.1 488.5 274.8 486.6 286.5 488.5 298.1 494.3 304.0 497.1 304.6 502.9 305.1 508.6 307.4 514.3 309.1 518.3 312.3 521.7 317.1 524.0 321.1 524.6 325.7 526.3 329.1 526.9 331.4 524.6 334.3 525.1 337.1 527.1 342.3 525.7 347.8 518.9 356.1 521.6 360.2 524.3 364.3 527.1 369.8 528.4 375.3 527.1 382.1 528.4 390.3 525.7 394.5 524.3 401.3 525.7 408.2 525.7 415.0 528.4 419.1 529.8 426.0 530.5 430.8 524.3 431.5 518.9 432.9 514.7 439.7 509.2 442.5 502.4 441.8 498.3 443.8 494.2 439.7 491.4 443.8 491.4 447.9 483.2 445.9 476.3 449.3 472.2 453.4 462.6 459.6 453.0 457.5 444.8 462.3 442.1 465.8 442.7 472.6 437.9 473.3 437.3 465.8 435.9 456.2 429.7 450.7 426.3 446.6 427.0 441.1 422.9 438.3 416.0 439.0 410.5 443.8 409.1 439.7 414.6 434.2 418.1 430.1 416.7 423.3 411.9 422.6 403.7 426.0 396.8 426.0 391.3 420.5 384.5 419.1 380.3 421.2 379.0 425.3 372.1 424.6 368.7 426.0 368.7 432.9 363.9 438.3 358.4 441.1 358.4 443.8 361.1 449.3 361.1 457.5 359.8 462.3 366.6 461.6 367.3 469.9 361.1 472.6 352.9 474.0 347.4 471.9 342.6 473.3 339.2 479.5 332.3 487.7 329.6 491.1 331.7 496.6 328.2 502.8 322.7 504.2 317.6 504.8 310.8 508.3 299.8 503.5 295.7 501.4 293.0 491.8 288.9 486.3 275.1 480.8 265.5 487.7 261.4 469.9 257.3 461.6 250.4 458.9 249.1 452.1 246.3 446.6 239.5 443.8 236.7 438.3 235.4 430.1 228.5 424.6 221.7 421.2 214.1 421.9 210.7 428.7 212.7 431.5 213.4 438.3 210.7 437.0 205.2 435.6 202.5 439.0 198.3 438.3 194.2 432.9 186.0 428.7 180.5 425.3 177.8 427.4 170.9 426.0 165.4 417.8 158.6 412.3 157.9 405.4 151.7 404.1 149.0 393.1 142.1 387.6 135.3 380.7 131.1 364.3 124.3 353.3 120.9 343.7 121.5 336.9Z" fill="none" stroke="#000" stroke-width="4.0" stroke-linejoin="round" stroke-linecap="round"/>
<line x1="121.5" y1="338.1" x2="524.0" y2="338.1" stroke="#000" stroke-width="3.2"/>
<g fill="#000"><circle cx="119.2" cy="271.8" r="4"/><circle cx="119.2" cy="297.5" r="4"/><circle cx="119.2" cy="323.2" r="4"/><circle cx="423.5" cy="323.2" r="4"/><circle cx="448.8" cy="323.2" r="4"/><circle cx="474.1" cy="323.2" r="4"/><circle cx="499.5" cy="323.2" r="4"/><circle cx="322.1" cy="348.9" r="4"/><circle cx="347.4" cy="348.9" r="4"/><circle cx="372.8" cy="348.9" r="4"/><circle cx="398.1" cy="348.9" r="4"/><circle cx="423.5" cy="348.9" r="4"/><circle cx="448.8" cy="348.9" r="4"/><circle cx="474.1" cy="348.9" r="4"/><circle cx="144.6" cy="374.6" r="4"/><circle cx="296.7" cy="374.6" r="4"/><circle cx="322.1" cy="374.6" r="4"/><circle cx="347.4" cy="374.6" r="4"/><circle cx="372.8" cy="374.6" r="4"/><circle cx="398.1" cy="374.6" r="4"/><circle cx="423.5" cy="374.6" r="4"/><circle cx="448.8" cy="374.6" r="4"/><circle cx="322.1" cy="400.3" r="4"/><circle cx="347.4" cy="400.3" r="4"/><circle cx="372.8" cy="400.3" r="4"/><circle cx="398.1" cy="400.3" r="4"/><circle cx="423.5" cy="400.3" r="4"/><circle cx="347.4" cy="426.0" r="4"/></g></g></g>
<rect x="34.0" y="696.5" width="676.0" height="496.5" fill="none" stroke="#1a1a1a" stroke-width="2"/>
<path d="M34.0 874.0h8M710.0 874.0h-8M352.5 696.5v8M352.5 1193.0v-8" stroke="#1a1a1a" stroke-width="2"/>
<g id="map2" clip-path="url(#clipm2)"><g transform="translate(0 1264.2) scale(1 1.0)"><g shape-rendering="crispEdges"><rect x="339.75" y="172.55" width="13.15" height="13.35" fill="#FCBC6D"/><rect x="288.75" y="185.50" width="13.15" height="13.35" fill="#FDD17F"/><rect x="301.50" y="185.50" width="13.15" height="13.35" fill="#FCBC6D"/><rect x="314.25" y="185.50" width="13.15" height="13.35" fill="#FCBC6D"/><rect x="327.00" y="185.50" width="13.15" height="13.35" fill="#FEE090"/><rect x="339.75" y="185.50" width="13.15" height="13.35" fill="#FEE090"/><rect x="352.50" y="185.50" width="13.15" height="13.35" fill="#FDD17F"/><rect x="288.75" y="198.45" width="13.15" height="13.35" fill="#FDD17F"/><rect x="301.50" y="198.45" width="13.15" height="13.35" fill="#FCBC6D"/><rect x="314.25" y="198.45" width="13.15" height="13.35" fill="#FCBC6D"/><rect x="327.00" y="198.45" width="13.15" height="13.35" fill="#E1F3F3"/><rect x="339.75" y="198.45" width="13.15" height="13.35" fill="#FEE090"/><rect x="148.50" y="211.40" width="13.15" height="13.35" fill="#FDD17F"/><rect x="161.25" y="211.40" width="13.15" height="13.35" fill="#FCBC6D"/><rect x="174.00" y="211.40" width="13.15" height="13.35" fill="#FDD17F"/><rect x="186.75" y="211.40" width="13.15" height="13.35" fill="#FDD17F"/><rect x="199.50" y="211.40" width="13.15" height="13.35" fill="#FDD17F"/><rect x="212.25" y="211.40" width="13.15" height="13.35" fill="#FDD17F"/><rect x="225.00" y="211.40" width="13.15" height="13.35" fill="#FDD17F"/><rect x="237.75" y="211.40" width="13.15" height="13.35" fill="#FDD17F"/><rect x="250.50" y="211.40" width="13.15" height="13.35" fill="#FDD17F"/><rect x="263.25" y="211.40" width="13.15" height="13.35" fill="#FEE090"/><rect x="301.50" y="211.40" width="13.15" height="13.35" fill="#FCBC6D"/><rect x="314.25" y="211.40" width="13.15" height="13.35" fill="#FDD17F"/><rect x="327.00" y="211.40" width="13.15" height="13.35" fill="#E1F3F3"/><rect x="339.75" y="211.40" width="13.15" height="13.35" fill="#FEE090"/><rect x="416.25" y="211.40" width="13.15" height="13.35" fill="#FCBC6D"/><rect x="429.00" y="211.40" width="13.15" height="13.35" fill="#FCBC6D"/><rect x="135.75" y="224.35" width="13.15" height="13.35" fill="#FDD17F"/><rect x="148.50" y="224.35" width="13.15" height="13.35" fill="#FDD17F"/><rect x="161.25" y="224.35" width="13.15" height="13.35" fill="#FDD17F"/><rect x="174.00" y="224.35" width="13.15" height="13.35" fill="#FDD17F"/><rect x="186.75" y="224.35" width="13.15" height="13.35" fill="#FCBC6D"/><rect x="199.50" y="224.35" width="13.15" height="13.35" fill="#FDD17F"/><rect x="212.25" y="224.35" width="13.15" height="13.35" fill="#FCBC6D"/><rect x="225.00" y="224.35" width="13.15" height="13.35" fill="#FCBC6D"/><rect x="237.75" y="224.35" width="13.15" height="13.35" fill="#FCBC6D"/><rect x="250.50" y="224.35" width="13.15" height="13.35" fill="#FDD17F"/><rect x="263.25" y="224.35" width="13.15" height="13.35" fill="#FEE090"/><rect x="276.00" y="224.35" width="13.15" height="13.35" fill="#FEE090"/><rect x="288.75" y="224.35" width="13.15" height="13.35" fill="#FDD17F"/><rect x="301.50" y="224.35" width="13.15" height="13.35" fill="#FCBC6D"/><rect x="314.25" y="224.35" width="13.15" height="13.35" fill="#FDD17F"/><rect x="327.00" y="224.35" width="13.15" height="13.35" fill="#E1F3F3"/><rect x="339.75" y="224.35" width="13.15" height="13.35" fill="#FEE090"/><rect x="352.50" y="224.35" width="13.15" height="13.35" fill="#E1F3F3"/><rect x="365.25" y="224.35" width="13.15" height="13.35" fill="#FEE090"/><rect x="378.00" y="224.35" width="13.15" height="13.35" fill="#FEE090"/><rect x="390.75" y="224.35" width="13.15" height="13.35" fill="#FDD17F"/><rect x="403.50" y="224.35" width="13.15" height="13.35" fill="#FDD17F"/><rect x="416.25" y="224.35" width="13.15" height="13.35" fill="#FCBC6D"/><rect x="429.00" y="224.35" width="13.15" height="13.35" fill="#FBA660"/><rect x="441.75" y="224.35" width="13.15" height="13.35" fill="#FBA660"/><rect x="123.00" y="237.30" width="13.15" height="13.35" fill="#FCBC6D"/><rect x="135.75" y="237.30" width="13.15" height="13.35" fill="#FDD17F"/><rect x="148.50" y="237.30" width="13.15" height="13.35" fill="#FEE090"/><rect x="161.25" y="237.30" width="13.15" height="13.35" fill="#FEE090"/><rect x="174.00" y="237.30" width="13.15" height="13.35" fill="#FDD17F"/><rect x="186.75" y="237.30" width="13.15" height="13.35" fill="#FDD17F"/><rect x="199.50" y="237.30" width="13.15" height="13.35" fill="#FCBC6D"/><rect x="212.25" y="237.30" width="13.15" height="13.35" fill="#FCBC6D"/><rect x="225.00" y="237.30" width="13.15" height="13.35" fill="#FCBC6D"/><rect x="237.75" y="237.30" width="13.15" height="13.35" fill="#FCBC6D"/><rect x="250.50" y="237.30" width="13.15" height="13.35" fill="#FCBC6D"/><rect x="263.25" y="237.30" width="13.15" height="13.35" fill="#FEE090"/><rect x="276.00" y="237.30" width="13.15" height="13.35" fill="#FEE090"/><rect x="288.75" y="237.30" width="13.15" height="13.35" fill="#FDD17F"/><rect x="301.50" y="237.30" width="13.15" height="13.35" fill="#FDD17F"/><rect x="314.25" y="237.30" width="13.15" height="13.35" fill="#FCBC6D"/><rect x="327.00" y="237.30" width="13.15" height="13.35" fill="#FEE090"/><rect x="339.75" y="237.30" width="13.15" height="13.35" fill="#FEE090"/><rect x="352.50" y="237.30" width="13.15" height="13.35" fill="#E1F3F3"/><rect x="365.25" y="237.30" width="13.15" height="13.35" fill="#FEE090"/><rect x="378.00" y="237.30" width="13.15" height="13.35" fill="#FEE090"/><rect x="390.75" y="237.30" width="13.15" height="13.35" fill="#FDD17F"/><rect x="403.50" y="237.30" width="13.15" height="13.35" fill="#FDD17F"/><rect x="416.25" y="237.30" width="13.15" height="13.35" fill="#FCBC6D"/><rect x="429.00" y="237.30" width="13.15" height="13.35" fill="#FBA660"/><rect x="441.75" y="237.30" width="13.15" height="13.35" fill="#FBA660"/><rect x="110.25" y="250.25" width="13.15" height="13.35" fill="#FDD17F"/><rect x="123.00" y="250.25" width="13.15" height="13.35" fill="#FCBC6D"/><rect x="135.75" y="250.25" width="13.15" height="13.35" fill="#FDD17F"/><rect x="148.50" y="250.25" width="13.15" height="13.35" fill="#FDD17F"/><rect x="161.25" y="250.25" width="13.15" height="13.35" fill="#FEE090"/><rect x="174.00" y="250.25" width="13.15" height="13.35" fill="#FEE090"/><rect x="186.75" y="250.25" width="13.15" height="13.35" fill="#FDD17F"/><rect x="199.50" y="250.25" width="13.15" height="13.35" fill="#FCBC6D"/><rect x="212.25" y="250.25" width="13.15" height="13.35" fill="#FCBC6D"/><rect x="225.00" y="250.25" width="13.15" height="13.35" fill="#FCBC6D"/><rect x="237.75" y="250.25" width="13.15" height="13.35" fill="#FCBC6D"/><rect x="250.50" y="250.25" width="13.15" height="13.35" fill="#FCBC6D"/><rect x="263.25" y="250.25" width="13.15" height="13.35" fill="#FDD17F"/><rect x="276.00" y="250.25" width="13.15" height="13.35" fill="#FEE090"/><rect x="288.75" y="250.25" width="13.15" height="13.35" fill="#FDD17F"/><rect x="301.50" y="250.25" width="13.15" height="13.35" fill="#FCBC6D"/><rect x="314.25" y="250.25" width="13.15" height="13.35" fill="#FDD17F"/><rect x="327.00" y="250.25" width="13.15" height="13.35" fill="#FEE090"/><rect x="339.75" y="250.25" width="13.15" height="13.35" fill="#FEE090"/><rect x="352.50" y="250.25" width="13.15" height="13.35" fill="#FEE090"/><rect x="365.25" y="250.25" width="13.15" height="13.35" fill="#FEE090"/><rect x="378.00" y="250.25" width="13.15" height="13.35" fill="#FEE090"/><rect x="390.75" y="250.25" width="13.15" height="13.35" fill="#FDD17F"/><rect x="403.50" y="250.25" width="13.15" height="13.35" fill="#FDD17F"/><rect x="416.25" y="250.25" width="13.15" height="13.35" fill="#FDD17F"/><rect x="429.00" y="250.25" width="13.15" height="13.35" fill="#FCBC6D"/><rect x="441.75" y="250.25" width="13.15" height="13.35" fill="#FBA660"/><rect x="454.50" y="250.25" width="13.15" height="13.35" fill="#FBA660"/><rect x="110.25" y="263.20" width="13.15" height="13.35" fill="#FCBC6D"/><rect x="123.00" y="263.20" width="13.15" height="13.35" fill="#FDD17F"/><rect x="135.75" y="263.20" width="13.15" height="13.35" fill="#FDD17F"/><rect x="148.50" y="263.20" width="13.15" height="13.35" fill="#FDD17F"/><rect x="161.25" y="263.20" width="13.15" height="13.35" fill="#FDD17F"/><rect x="174.00" y="263.20" width="13.15" height="13.35" fill="#FDD17F"/><rect x="186.75" y="263.20" width="13.15" height="13.35" fill="#FDD17F"/><rect x="199.50" y="263.20" width="13.15" height="13.35" fill="#FCBC6D"/><rect x="212.25" y="263.20" width="13.15" height="13.35" fill="#FCBC6D"/><rect x="225.00" y="263.20" width="13.15" height="13.35" fill="#FCBC6D"/><rect x="237.75" y="263.20" width="13.15" height="13.35" fill="#FCBC6D"/><rect x="250.50" y="263.20" width="13.15" height="13.35" fill="#FCBC6D"/><rect x="263.25" y="263.20" width="13.15" height="13.35" fill="#FEE090"/><rect x="276.00" y="263.20" width="13.15" height="13.35" fill="#FDD17F"/><rect x="288.75" y="263.20" width="13.15" height="13.35" fill="#FDD17F"/><rect x="301.50" y="263.20" width="13.15" height="13.35" fill="#FBA660"/><rect x="314.25" y="263.20" width="13.15" height="13.35" fill="#FCBC6D"/><rect x="327.00" y="263.20" width="13.15" height="13.35" fill="#FDD17F"/><rect x="339.75" y="263.20" width="13.15" height="13.35" fill="#FDD17F"/><rect x="352.50" y="263.20" width="13.15" height="13.35" fill="#FEE090"/><rect x="365.25" y="263.20" width="13.15" height="13.35" fill="#FDD17F"/><rect x="378.00" y="263.20" width="13.15" height="13.35" fill="#FEE090"/><rect x="390.75" y="263.20" width="13.15" height="13.35" fill="#FDD17F"/><rect x="403.50" y="263.20" width="13.15" height="13.35" fill="#FEE090"/><rect x="416.25" y="263.20" width="13.15" height="13.35" fill="#FDD17F"/><rect x="429.00" y="263.20" width="13.15" height="13.35" fill="#FCBC6D"/><rect x="441.75" y="263.20" width="13.15" height="13.35" fill="#FCBC6D"/><rect x="467.25" y="263.20" width="13.15" height="13.35" fill="#FCBC6D"/><rect x="480.00" y="263.20" width="13.15" height="13.35" fill="#FCBC6D"/><rect x="110.25" y="276.15" width="13.15" height="13.35" fill="#FCBC6D"/><rect x="123.00" y="276.15" width="13.15" height="13.35" fill="#FDD17F"/><rect x="135.75" y="276.15" width="13.15" height="13.35" fill="#FEE090"/><rect x="148.50" y="276.15" width="13.15" height="13.35" fill="#FDD17F"/><rect x="161.25" y="276.15" width="13.15" height="13.35" fill="#FEE090"/><rect x="174.00" y="276.15" width="13.15" height="13.35" fill="#FDD17F"/><rect x="186.75" y="276.15" width="13.15" height="13.35" fill="#FEE090"/><rect x="199.50" y="276.15" width="13.15" height="13.35" fill="#FDD17F"/><rect x="212.25" y="276.15" width="13.15" height="13.35" fill="#FDD17F"/><rect x="225.00" y="276.15" width="13.15" height="13.35" fill="#FDD17F"/><rect x="237.75" y="276.15" width="13.15" height="13.35" fill="#FDD17F"/><rect x="250.50" y="276.15" width="13.15" height="13.35" fill="#FCBC6D"/><rect x="263.25" y="276.15" width="13.15" height="13.35" fill="#FCBC6D"/><rect x="276.00" y="276.15" width="13.15" height="13.35" fill="#FCBC6D"/><rect x="288.75" y="276.15" width="13.15" height="13.35" fill="#FDD17F"/><rect x="301.50" y="276.15" width="13.15" height="13.35" fill="#FDD17F"/><rect x="314.25" y="276.15" width="13.15" height="13.35" fill="#FDD17F"/><rect x="327.00" y="276.15" width="13.15" height="13.35" fill="#FDD17F"/><rect x="339.75" y="276.15" width="13.15" height="13.35" fill="#FCBC6D"/><rect x="352.50" y="276.15" width="13.15" height="13.35" fill="#FDD17F"/><rect x="365.25" y="276.15" width="13.15" height="13.35" fill="#FDD17F"/><rect x="378.00" y="276.15" width="13.15" height="13.35" fill="#FEE090"/><rect x="390.75" y="276.15" width="13.15" height="13.35" fill="#FEE090"/><rect x="403.50" y="276.15" width="13.15" height="13.35" fill="#E1F3F3"/><rect x="416.25" y="276.15" width="13.15" height="13.35" fill="#FEE090"/><rect x="429.00" y="276.15" width="13.15" height="13.35" fill="#FDD17F"/><rect x="441.75" y="276.15" width="13.15" height="13.35" fill="#FCBC6D"/><rect x="454.50" y="276.15" width="13.15" height="13.35" fill="#FBA660"/><rect x="467.25" y="276.15" width="13.15" height="13.35" fill="#F99356"/><rect x="480.00" y="276.15" width="13.15" height="13.35" fill="#FBA660"/><rect x="110.25" y="289.10" width="13.15" height="13.35" fill="#FDD17F"/><rect x="123.00" y="289.10" width="13.15" height="13.35" fill="#FCBC6D"/><rect x="135.75" y="289.10" width="13.15" height="13.35" fill="#FEE090"/><rect x="148.50" y="289.10" width="13.15" height="13.35" fill="#FEE090"/><rect x="161.25" y="289.10" width="13.15" height="13.35" fill="#FEE090"/><rect x="174.00" y="289.10" width="13.15" height="13.35" fill="#FEE090"/><rect x="186.75" y="289.10" width="13.15" height="13.35" fill="#FEE090"/><rect x="199.50" y="289.10" width="13.15" height="13.35" fill="#FDD17F"/><rect x="212.25" y="289.10" width="13.15" height="13.35" fill="#FEE090"/><rect x="225.00" y="289.10" width="13.15" height="13.35" fill="#FDD17F"/><rect x="237.75" y="289.10" width="13.15" height="13.35" fill="#FDD17F"/><rect x="250.50" y="289.10" width="13.15" height="13.35" fill="#FCBC6D"/><rect x="263.25" y="289.10" width="13.15" height="13.35" fill="#FCBC6D"/><rect x="276.00" y="289.10" width="13.15" height="13.35" fill="#FCBC6D"/><rect x="288.75" y="289.10" width="13.15" height="13.35" fill="#FCBC6D"/><rect x="301.50" y="289.10" width="13.15" height="13.35" fill="#FDD17F"/><rect x="314.25" y="289.10" width="13.15" height="13.35" fill="#FDD17F"/><rect x="327.00" y="289.10" width="13.15" height="13.35" fill="#FDD17F"/><rect x="339.75" y="289.10" width="13.15" height="13.35" fill="#FDD17F"/><rect x="352.50" y="289.10" width="13.15" height="13.35" fill="#FCBC6D"/><rect x="365.25" y="289.10" width="13.15" height="13.35" fill="#FDD17F"/><rect x="378.00" y="289.10" width="13.15" height="13.35" fill="#FDD17F"/><rect x="390.75" y="289.10" width="13.15" height="13.35" fill="#E1F3F3"/><rect x="403.50" y="289.10" width="13.15" height="13.35" fill="#FEE090"/><rect x="416.25" y="289.10" width="13.15" height="13.35" fill="#FEE090"/><rect x="429.00" y="289.10" width="13.15" height="13.35" fill="#FCBC6D"/><rect x="441.75" y="289.10" width="13.15" height="13.35" fill="#FCBC6D"/><rect x="454.50" y="289.10" width="13.15" height="13.35" fill="#FCBC6D"/><rect x="467.25" y="289.10" width="13.15" height="13.35" fill="#F99356"/><rect x="97.50" y="302.05" width="13.15" height="13.35" fill="#FDD17F"/><rect x="110.25" y="302.05" width="13.15" height="13.35" fill="#FDD17F"/><rect x="123.00" y="302.05" width="13.15" height="13.35" fill="#FDD17F"/><rect x="135.75" y="302.05" width="13.15" height="13.35" fill="#FEE090"/><rect x="148.50" y="302.05" width="13.15" height="13.35" fill="#FEE090"/><rect x="161.25" y="302.05" width="13.15" height="13.35" fill="#FEE090"/><rect x="174.00" y="302.05" width="13.15" height="13.35" fill="#FEE090"/><rect x="186.75" y="302.05" width="13.15" height="13.35" fill="#FDD17F"/><rect x="199.50" y="302.05" width="13.15" height="13.35" fill="#FDD17F"/><rect x="212.25" y="302.05" width="13.15" height="13.35" fill="#FEE090"/><rect x="225.00" y="302.05" width="13.15" height="13.35" fill="#FDD17F"/><rect x="237.75" y="302.05" width="13.15" height="13.35" fill="#FDD17F"/><rect x="250.50" y="302.05" width="13.15" height="13.35" fill="#FCBC6D"/><rect x="263.25" y="302.05" width="13.15" height="13.35" fill="#FBA660"/><rect x="276.00" y="302.05" width="13.15" height="13.35" fill="#FBA660"/><rect x="288.75" y="302.05" width="13.15" height="13.35" fill="#FBA660"/><rect x="301.50" y="302.05" width="13.15" height="13.35" fill="#FCBC6D"/><rect x="314.25" y="302.05" width="13.15" height="13.35" fill="#FCBC6D"/><rect x="327.00" y="302.05" width="13.15" height="13.35" fill="#FDD17F"/><rect x="339.75" y="302.05" width="13.15" height="13.35" fill="#FCBC6D"/><rect x="352.50" y="302.05" width="13.15" height="13.35" fill="#FCBC6D"/><rect x="365.25" y="302.05" width="13.15" height="13.35" fill="#FCBC6D"/><rect x="378.00" y="302.05" width="13.15" height="13.35" fill="#FDD17F"/><rect x="390.75" y="302.05" width="13.15" height="13.35" fill="#FEE090"/><rect x="403.50" y="302.05" width="13.15" height="13.35" fill="#FEE090"/><rect x="416.25" y="302.05" width="13.15" height="13.35" fill="#FEE090"/><rect x="429.00" y="302.05" width="13.15" height="13.35" fill="#FDD17F"/><rect x="441.75" y="302.05" width="13.15" height="13.35" fill="#FDD17F"/><rect x="454.50" y="302.05" width="13.15" height="13.35" fill="#FDD17F"/><rect x="467.25" y="302.05" width="13.15" height="13.35" fill="#FCBC6D"/><rect x="480.00" y="302.05" width="13.15" height="13.35" fill="#FCBC6D"/><rect x="492.75" y="302.05" width="13.15" height="13.35" fill="#FCBC6D"/><rect x="97.50" y="315.00" width="13.15" height="13.35" fill="#F06544"/><rect x="110.25" y="315.00" width="13.15" height="13.35" fill="#FEE090"/><rect x="123.00" y="315.00" width="13.15" height="13.35" fill="#FDD17F"/><rect x="135.75" y="315.00" width="13.15" height="13.35" fill="#FEE090"/><rect x="148.50" y="315.00" width="13.15" height="13.35" fill="#E1F3F3"/><rect x="161.25" y="315.00" width="13.15" height="13.35" fill="#FEE090"/><rect x="174.00" y="315.00" width="13.15" height="13.35" fill="#FEE090"/><rect x="186.75" y="315.00" width="13.15" height="13.35" fill="#FDD17F"/><rect x="199.50" y="315.00" width="13.15" height="13.35" fill="#FDD17F"/><rect x="212.25" y="315.00" width="13.15" height="13.35" fill="#FDD17F"/><rect x="225.00" y="315.00" width="13.15" height="13.35" fill="#FDD17F"/><rect x="237.75" y="315.00" width="13.15" height="13.35" fill="#FDD17F"/><rect x="250.50" y="315.00" width="13.15" height="13.35" fill="#FCBC6D"/><rect x="263.25" y="315.00" width="13.15" height="13.35" fill="#FBA660"/><rect x="276.00" y="315.00" width="13.15" height="13.35" fill="#FBA660"/><rect x="288.75" y="315.00" width="13.15" height="13.35" fill="#FBA660"/><rect x="301.50" y="315.00" width="13.15" height="13.35" fill="#FCBC6D"/><rect x="314.25" y="315.00" width="13.15" height="13.35" fill="#FBA660"/><rect x="327.00" y="315.00" width="13.15" height="13.35" fill="#FBA660"/><rect x="339.75" y="315.00" width="13.15" height="13.35" fill="#FBA660"/><rect x="352.50" y="315.00" width="13.15" height="13.35" fill="#FCBC6D"/><rect x="365.25" y="315.00" width="13.15" height="13.35" fill="#FCBC6D"/><rect x="378.00" y="315.00" width="13.15" height="13.35" fill="#FCBC6D"/><rect x="390.75" y="315.00" width="13.15" height="13.35" fill="#FDD17F"/><rect x="403.50" y="315.00" width="13.15" height="13.35" fill="#FDD17F"/><rect x="416.25" y="315.00" width="13.15" height="13.35" fill="#FDD17F"/><rect x="429.00" y="315.00" width="13.15" height="13.35" fill="#FCBC6D"/><rect x="441.75" y="315.00" width="13.15" height="13.35" fill="#FDD17F"/><rect x="454.50" y="315.00" width="13.15" height="13.35" fill="#FCBC6D"/><rect x="467.25" y="315.00" width="13.15" height="13.35" fill="#FDD17F"/><rect x="480.00" y="315.00" width="13.15" height="13.35" fill="#FCBC6D"/><rect x="492.75" y="315.00" width="13.15" height="13.35" fill="#FBA660"/><rect x="505.50" y="315.00" width="13.15" height="13.35" fill="#FDD17F"/><rect x="123.00" y="327.95" width="13.15" height="13.35" fill="#FDD17F"/><rect x="135.75" y="327.95" width="13.15" height="13.35" fill="#FEE090"/><rect x="148.50" y="327.95" width="13.15" height="13.35" fill="#FEE090"/><rect x="161.25" y="327.95" width="13.15" height="13.35" fill="#E1F3F3"/><rect x="174.00" y="327.95" width="13.15" height="13.35" fill="#FEE090"/><rect x="186.75" y="327.95" width="13.15" height="13.35" fill="#FDD17F"/><rect x="199.50" y="327.95" width="13.15" height="13.35" fill="#FDD17F"/><rect x="212.25" y="327.95" width="13.15" height="13.35" fill="#FDD17F"/><rect x="225.00" y="327.95" width="13.15" height="13.35" fill="#FEE090"/><rect x="237.75" y="327.95" width="13.15" height="13.35" fill="#FEE090"/><rect x="250.50" y="327.95" width="13.15" height="13.35" fill="#FEE090"/><rect x="263.25" y="327.95" width="13.15" height="13.35" fill="#FCBC6D"/><rect x="276.00" y="327.95" width="13.15" height="13.35" fill="#FCBC6D"/><rect x="288.75" y="327.95" width="13.15" height="13.35" fill="#FDD17F"/><rect x="301.50" y="327.95" width="13.15" height="13.35" fill="#FBA660"/><rect x="314.25" y="327.95" width="13.15" height="13.35" fill="#F99356"/><rect x="327.00" y="327.95" width="13.15" height="13.35" fill="#FBA660"/><rect x="339.75" y="327.95" width="13.15" height="13.35" fill="#FBA660"/><rect x="352.50" y="327.95" width="13.15" height="13.35" fill="#FCBC6D"/><rect x="365.25" y="327.95" width="13.15" height="13.35" fill="#FDD17F"/><rect x="378.00" y="327.95" width="13.15" height="13.35" fill="#FDD17F"/><rect x="390.75" y="327.95" width="13.15" height="13.35" fill="#FDD17F"/><rect x="403.50" y="327.95" width="13.15" height="13.35" fill="#FDD17F"/><rect x="416.25" y="327.95" width="13.15" height="13.35" fill="#FCBC6D"/><rect x="429.00" y="327.95" width="13.15" height="13.35" fill="#FCBC6D"/><rect x="441.75" y="327.95" width="13.15" height="13.35" fill="#FDD17F"/><rect x="454.50" y="327.95" width="13.15" height="13.35" fill="#FCBC6D"/><rect x="467.25" y="327.95" width="13.15" height="13.35" fill="#FCBC6D"/><rect x="480.00" y="327.95" width="13.15" height="13.35" fill="#FDD17F"/><rect x="492.75" y="327.95" width="13.15" height="13.35" fill="#FCBC6D"/><rect x="505.50" y="327.95" width="13.15" height="13.35" fill="#FEE090"/><rect x="518.25" y="327.95" width="13.15" height="13.35" fill="#FEE090"/><rect x="123.00" y="340.90" width="13.15" height="13.35" fill="#FCBC6D"/><rect x="135.75" y="340.90" width="13.15" height="13.35" fill="#FCBC6D"/><rect x="148.50" y="340.90" width="13.15" height="13.35" fill="#FCBC6D"/><rect x="161.25" y="340.90" width="13.15" height="13.35" fill="#FDD17F"/><rect x="174.00" y="340.90" width="13.15" height="13.35" fill="#FDD17F"/><rect x="186.75" y="340.90" width="13.15" height="13.35" fill="#FDD17F"/><rect x="199.50" y="340.90" width="13.15" height="13.35" fill="#FDD17F"/><rect x="212.25" y="340.90" width="13.15" height="13.35" fill="#FCBC6D"/><rect x="225.00" y="340.90" width="13.15" height="13.35" fill="#FEE090"/><rect x="237.75" y="340.90" width="13.15" height="13.35" fill="#FEE090"/><rect x="250.50" y="340.90" width="13.15" height="13.35" fill="#FEE090"/><rect x="263.25" y="340.90" width="13.15" height="13.35" fill="#FCBC6D"/><rect x="276.00" y="340.90" width="13.15" height="13.35" fill="#FCBC6D"/><rect x="288.75" y="340.90" width="13.15" height="13.35" fill="#FCBC6D"/><rect x="301.50" y="340.90" width="13.15" height="13.35" fill="#F99356"/><rect x="314.25" y="340.90" width="13.15" height="13.35" fill="#F67C4A"/><rect x="327.00" y="340.90" width="13.15" height="13.35" fill="#F99356"/><rect x="339.75" y="340.90" width="13.15" height="13.35" fill="#F99356"/><rect x="352.50" y="340.90" width="13.15" height="13.35" fill="#F99356"/><rect x="365.25" y="340.90" width="13.15" height="13.35" fill="#FCBC6D"/><rect x="378.00" y="340.90" width="13.15" height="13.35" fill="#FCBC6D"/><rect x="390.75" y="340.90" width="13.15" height="13.35" fill="#FBA660"/><rect x="403.50" y="340.90" width="13.15" height="13.35" fill="#FCBC6D"/><rect x="416.25" y="340.90" width="13.15" height="13.35" fill="#FCBC6D"/><rect x="429.00" y="340.90" width="13.15" height="13.35" fill="#FCBC6D"/><rect x="441.75" y="340.90" width="13.15" height="13.35" fill="#FCBC6D"/><rect x="454.50" y="340.90" width="13.15" height="13.35" fill="#FDD17F"/><rect x="467.25" y="340.90" width="13.15" height="13.35" fill="#FEE090"/><rect x="480.00" y="340.90" width="13.15" height="13.35" fill="#FDD17F"/><rect x="492.75" y="340.90" width="13.15" height="13.35" fill="#FEE090"/><rect x="505.50" y="340.90" width="13.15" height="13.35" fill="#E1F3F3"/><rect x="123.00" y="353.85" width="13.15" height="13.35" fill="#E1F3F3"/><rect x="135.75" y="353.85" width="13.15" height="13.35" fill="#FDD17F"/><rect x="148.50" y="353.85" width="13.15" height="13.35" fill="#FDD17F"/><rect x="161.25" y="353.85" width="13.15" height="13.35" fill="#FDD17F"/><rect x="174.00" y="353.85" width="13.15" height="13.35" fill="#FEE090"/><rect x="186.75" y="353.85" width="13.15" height="13.35" fill="#FDD17F"/><rect x="199.50" y="353.85" width="13.15" height="13.35" fill="#FCBC6D"/><rect x="212.25" y="353.85" width="13.15" height="13.35" fill="#FDD17F"/><rect x="225.00" y="353.85" width="13.15" height="13.35" fill="#FDD17F"/><rect x="237.75" y="353.85" width="13.15" height="13.35" fill="#FDD17F"/><rect x="250.50" y="353.85" width="13.15" height="13.35" fill="#FDD17F"/><rect x="263.25" y="353.85" width="13.15" height="13.35" fill="#FBA660"/><rect x="276.00" y="353.85" width="13.15" height="13.35" fill="#FBA660"/><rect x="288.75" y="353.85" width="13.15" height="13.35" fill="#F99356"/><rect x="301.50" y="353.85" width="13.15" height="13.35" fill="#F99356"/><rect x="314.25" y="353.85" width="13.15" height="13.35" fill="#F99356"/><rect x="327.00" y="353.85" width="13.15" height="13.35" fill="#F99356"/><rect x="339.75" y="353.85" width="13.15" height="13.35" fill="#F99356"/><rect x="352.50" y="353.85" width="13.15" height="13.35" fill="#F99356"/><rect x="365.25" y="353.85" width="13.15" height="13.35" fill="#FBA660"/><rect x="378.00" y="353.85" width="13.15" height="13.35" fill="#FCBC6D"/><rect x="390.75" y="353.85" width="13.15" height="13.35" fill="#FCBC6D"/><rect x="403.50" y="353.85" width="13.15" height="13.35" fill="#FBA660"/><rect x="416.25" y="353.85" width="13.15" height="13.35" fill="#FCBC6D"/><rect x="429.00" y="353.85" width="13.15" height="13.35" fill="#FBA660"/><rect x="441.75" y="353.85" width="13.15" height="13.35" fill="#FCBC6D"/><rect x="454.50" y="353.85" width="13.15" height="13.35" fill="#FEE090"/><rect x="467.25" y="353.85" width="13.15" height="13.35" fill="#FDD17F"/><rect x="480.00" y="353.85" width="13.15" height="13.35" fill="#FDD17F"/><rect x="492.75" y="353.85" width="13.15" height="13.35" fill="#E1F3F3"/><rect x="505.50" y="353.85" width="13.15" height="13.35" fill="#E1F3F3"/><rect x="135.75" y="366.80" width="13.15" height="13.35" fill="#FDD17F"/><rect x="148.50" y="366.80" width="13.15" height="13.35" fill="#FDD17F"/><rect x="161.25" y="366.80" width="13.15" height="13.35" fill="#FEE090"/><rect x="174.00" y="366.80" width="13.15" height="13.35" fill="#FEE090"/><rect x="186.75" y="366.80" width="13.15" height="13.35" fill="#FDD17F"/><rect x="199.50" y="366.80" width="13.15" height="13.35" fill="#FEE090"/><rect x="212.25" y="366.80" width="13.15" height="13.35" fill="#FEE090"/><rect x="225.00" y="366.80" width="13.15" height="13.35" fill="#FEE090"/><rect x="237.75" y="366.80" width="13.15" height="13.35" fill="#FDD17F"/><rect x="250.50" y="366.80" width="13.15" height="13.35" fill="#FBA660"/><rect x="263.25" y="366.80" width="13.15" height="13.35" fill="#F99356"/><rect x="276.00" y="366.80" width="13.15" height="13.35" fill="#FBA660"/><rect x="288.75" y="366.80" width="13.15" height="13.35" fill="#FBA660"/><rect x="301.50" y="366.80" width="13.15" height="13.35" fill="#F99356"/><rect x="314.25" y="366.80" width="13.15" height="13.35" fill="#F99356"/><rect x="327.00" y="366.80" width="13.15" height="13.35" fill="#F67C4A"/><rect x="339.75" y="366.80" width="13.15" height="13.35" fill="#F99356"/><rect x="352.50" y="366.80" width="13.15" height="13.35" fill="#F99356"/><rect x="365.25" y="366.80" width="13.15" height="13.35" fill="#FBA660"/><rect x="378.00" y="366.80" width="13.15" height="13.35" fill="#FBA660"/><rect x="390.75" y="366.80" width="13.15" height="13.35" fill="#F99356"/><rect x="403.50" y="366.80" width="13.15" height="13.35" fill="#F99356"/><rect x="416.25" y="366.80" width="13.15" height="13.35" fill="#F67C4A"/><rect x="429.00" y="366.80" width="13.15" height="13.35" fill="#FBA660"/><rect x="441.75" y="366.80" width="13.15" height="13.35" fill="#FCBC6D"/><rect x="454.50" y="366.80" width="13.15" height="13.35" fill="#FCBC6D"/><rect x="467.25" y="366.80" width="13.15" height="13.35" fill="#FEE090"/><rect x="480.00" y="366.80" width="13.15" height="13.35" fill="#E1F3F3"/><rect x="492.75" y="366.80" width="13.15" height="13.35" fill="#E1F3F3"/><rect x="505.50" y="366.80" width="13.15" height="13.35" fill="#E1F3F3"/><rect x="518.25" y="366.80" width="13.15" height="13.35" fill="#D3EBF8"/><rect x="135.75" y="379.75" width="13.15" height="13.35" fill="#E1F3F3"/><rect x="148.50" y="379.75" width="13.15" height="13.35" fill="#FEE090"/><rect x="161.25" y="379.75" width="13.15" height="13.35" fill="#E1F3F3"/><rect x="174.00" y="379.75" width="13.15" height="13.35" fill="#FEE090"/><rect x="186.75" y="379.75" width="13.15" height="13.35" fill="#FEE090"/><rect x="199.50" y="379.75" width="13.15" height="13.35" fill="#FEE090"/><rect x="212.25" y="379.75" width="13.15" height="13.35" fill="#FDD17F"/><rect x="225.00" y="379.75" width="13.15" height="13.35" fill="#FDD17F"/><rect x="237.75" y="379.75" width="13.15" height="13.35" fill="#FDD17F"/><rect x="250.50" y="379.75" width="13.15" height="13.35" fill="#FBA660"/><rect x="263.25" y="379.75" width="13.15" height="13.35" fill="#FCBC6D"/><rect x="276.00" y="379.75" width="13.15" height="13.35" fill="#FBA660"/><rect x="288.75" y="379.75" width="13.15" height="13.35" fill="#F99356"/><rect x="301.50" y="379.75" width="13.15" height="13.35" fill="#FBA660"/><rect x="314.25" y="379.75" width="13.15" height="13.35" fill="#F99356"/><rect x="327.00" y="379.75" width="13.15" height="13.35" fill="#F67C4A"/><rect x="339.75" y="379.75" width="13.15" height="13.35" fill="#F99356"/><rect x="352.50" y="379.75" width="13.15" height="13.35" fill="#F99356"/><rect x="365.25" y="379.75" width="13.15" height="13.35" fill="#F67C4A"/><rect x="378.00" y="379.75" width="13.15" height="13.35" fill="#F99356"/><rect x="390.75" y="379.75" width="13.15" height="13.35" fill="#F67C4A"/><rect x="403.50" y="379.75" width="13.15" height="13.35" fill="#F67C4A"/><rect x="416.25" y="379.75" width="13.15" height="13.35" fill="#FBA660"/><rect x="429.00" y="379.75" width="13.15" height="13.35" fill="#FBA660"/><rect x="441.75" y="379.75" width="13.15" height="13.35" fill="#FCBC6D"/><rect x="454.50" y="379.75" width="13.15" height="13.35" fill="#FCBC6D"/><rect x="467.25" y="379.75" width="13.15" height="13.35" fill="#FEE090"/><rect x="480.00" y="379.75" width="13.15" height="13.35" fill="#FEE090"/><rect x="492.75" y="379.75" width="13.15" height="13.35" fill="#E1F3F3"/><rect x="505.50" y="379.75" width="13.15" height="13.35" fill="#E1F3F3"/><rect x="518.25" y="379.75" width="13.15" height="13.35" fill="#E1F3F3"/><rect x="148.50" y="392.70" width="13.15" height="13.35" fill="#FEE090"/><rect x="161.25" y="392.70" width="13.15" height="13.35" fill="#FEE090"/><rect x="174.00" y="392.70" width="13.15" height="13.35" fill="#E1F3F3"/><rect x="186.75" y="392.70" width="13.15" height="13.35" fill="#D3EBF8"/><rect x="199.50" y="392.70" width="13.15" height="13.35" fill="#E1F3F3"/><rect x="212.25" y="392.70" width="13.15" height="13.35" fill="#FEE090"/><rect x="225.00" y="392.70" width="13.15" height="13.35" fill="#FEE090"/><rect x="237.75" y="392.70" width="13.15" height="13.35" fill="#E1F3F3"/><rect x="250.50" y="392.70" width="13.15" height="13.35" fill="#FDD17F"/><rect x="263.25" y="392.70" width="13.15" height="13.35" fill="#FDD17F"/><rect x="276.00" y="392.70" width="13.15" height="13.35" fill="#FCBC6D"/><rect x="288.75" y="392.70" width="13.15" height="13.35" fill="#FBA660"/><rect x="301.50" y="392.70" width="13.15" height="13.35" fill="#F99356"/><rect x="314.25" y="392.70" width="13.15" height="13.35" fill="#F99356"/><rect x="327.00" y="392.70" width="13.15" height="13.35" fill="#F67C4A"/><rect x="339.75" y="392.70" width="13.15" height="13.35" fill="#F99356"/><rect x="352.50" y="392.70" width="13.15" height="13.35" fill="#F99356"/><rect x="365.25" y="392.70" width="13.15" height="13.35" fill="#F99356"/><rect x="378.00" y="392.70" width="13.15" height="13.35" fill="#F99356"/><rect x="390.75" y="392.70" width="13.15" height="13.35" fill="#F99356"/><rect x="403.50" y="392.70" width="13.15" height="13.35" fill="#F67C4A"/><rect x="416.25" y="392.70" width="13.15" height="13.35" fill="#FBA660"/><rect x="429.00" y="392.70" width="13.15" height="13.35" fill="#FCBC6D"/><rect x="441.75" y="392.70" width="13.15" height="13.35" fill="#FCBC6D"/><rect x="454.50" y="392.70" width="13.15" height="13.35" fill="#FCBC6D"/><rect x="467.25" y="392.70" width="13.15" height="13.35" fill="#FEE090"/><rect x="480.00" y="392.70" width="13.15" height="13.35" fill="#E1F3F3"/><rect x="492.75" y="392.70" width="13.15" height="13.35" fill="#E1F3F3"/><rect x="505.50" y="392.70" width="13.15" height="13.35" fill="#FEE090"/><rect x="518.25" y="392.70" width="13.15" height="13.35" fill="#E1F3F3"/><rect x="161.25" y="405.65" width="13.15" height="13.35" fill="#E1F3F3"/><rect x="174.00" y="405.65" width="13.15" height="13.35" fill="#E1F3F3"/><rect x="186.75" y="405.65" width="13.15" height="13.35" fill="#D3EBF8"/><rect x="199.50" y="405.65" width="13.15" height="13.35" fill="#E1F3F3"/><rect x="212.25" y="405.65" width="13.15" height="13.35" fill="#D3EBF8"/><rect x="225.00" y="405.65" width="13.15" height="13.35" fill="#E1F3F3"/><rect x="237.75" y="405.65" width="13.15" height="13.35" fill="#E1F3F3"/><rect x="250.50" y="405.65" width="13.15" height="13.35" fill="#FEE090"/><rect x="263.25" y="405.65" width="13.15" height="13.35" fill="#FDD17F"/><rect x="276.00" y="405.65" width="13.15" height="13.35" fill="#FCBC6D"/><rect x="288.75" y="405.65" width="13.15" height="13.35" fill="#FBA660"/><rect x="301.50" y="405.65" width="13.15" height="13.35" fill="#F99356"/><rect x="314.25" y="405.65" width="13.15" height="13.35" fill="#FCBC6D"/><rect x="327.00" y="405.65" width="13.15" height="13.35" fill="#FBA660"/><rect x="339.75" y="405.65" width="13.15" height="13.35" fill="#F67C4A"/><rect x="352.50" y="405.65" width="13.15" height="13.35" fill="#F99356"/><rect x="365.25" y="405.65" width="13.15" height="13.35" fill="#F99356"/><rect x="378.00" y="405.65" width="13.15" height="13.35" fill="#F99356"/><rect x="390.75" y="405.65" width="13.15" height="13.35" fill="#F99356"/><rect x="403.50" y="405.65" width="13.15" height="13.35" fill="#F99356"/><rect x="416.25" y="405.65" width="13.15" height="13.35" fill="#FCBC6D"/><rect x="429.00" y="405.65" width="13.15" height="13.35" fill="#FDD17F"/><rect x="441.75" y="405.65" width="13.15" height="13.35" fill="#FCBC6D"/><rect x="454.50" y="405.65" width="13.15" height="13.35" fill="#FCBC6D"/><rect x="467.25" y="405.65" width="13.15" height="13.35" fill="#FEE090"/><rect x="480.00" y="405.65" width="13.15" height="13.35" fill="#E1F3F3"/><rect x="492.75" y="405.65" width="13.15" height="13.35" fill="#E1F3F3"/><rect x="505.50" y="405.65" width="13.15" height="13.35" fill="#FEE090"/><rect x="518.25" y="405.65" width="13.15" height="13.35" fill="#E1F3F3"/><rect x="161.25" y="418.60" width="13.15" height="13.35" fill="#91C4DE"/><rect x="174.00" y="418.60" width="13.15" height="13.35" fill="#E1F3F3"/><rect x="186.75" y="418.60" width="13.15" height="13.35" fill="#D3EBF8"/><rect x="199.50" y="418.60" width="13.15" height="13.35" fill="#FEE090"/><rect x="212.25" y="418.60" width="13.15" height="13.35" fill="#E1F3F3"/><rect x="225.00" y="418.60" width="13.15" height="13.35" fill="#E1F3F3"/><rect x="237.75" y="418.60" width="13.15" height="13.35" fill="#FEE090"/><rect x="250.50" y="418.60" width="13.15" height="13.35" fill="#FDD17F"/><rect x="263.25" y="418.60" width="13.15" height="13.35" fill="#FDD17F"/><rect x="276.00" y="418.60" width="13.15" height="13.35" fill="#FEE090"/><rect x="288.75" y="418.60" width="13.15" height="13.35" fill="#FDD17F"/><rect x="301.50" y="418.60" width="13.15" height="13.35" fill="#FBA660"/><rect x="314.25" y="418.60" width="13.15" height="13.35" fill="#FBA660"/><rect x="327.00" y="418.60" width="13.15" height="13.35" fill="#FBA660"/><rect x="339.75" y="418.60" width="13.15" height="13.35" fill="#F99356"/><rect x="352.50" y="418.60" width="13.15" height="13.35" fill="#F67C4A"/><rect x="365.25" y="418.60" width="13.15" height="13.35" fill="#FBA660"/><rect x="378.00" y="418.60" width="13.15" height="13.35" fill="#FBA660"/><rect x="390.75" y="418.60" width="13.15" height="13.35" fill="#FBA660"/><rect x="403.50" y="418.60" width="13.15" height="13.35" fill="#FBA660"/><rect x="416.25" y="418.60" width="13.15" height="13.35" fill="#FBA660"/><rect x="429.00" y="418.60" width="13.15" height="13.35" fill="#FCBC6D"/><rect x="441.75" y="418.60" width="13.15" height="13.35" fill="#FCBC6D"/><rect x="454.50" y="418.60" width="13.15" height="13.35" fill="#E1F3F3"/><rect x="467.25" y="418.60" width="13.15" height="13.35" fill="#E1F3F3"/><rect x="480.00" y="418.60" width="13.15" height="13.35" fill="#D3EBF8"/><rect x="492.75" y="418.60" width="13.15" height="13.35" fill="#E1F3F3"/><rect x="505.50" y="418.60" width="13.15" height="13.35" fill="#FEE090"/><rect x="518.25" y="418.60" width="13.15" height="13.35" fill="#FEE090"/><rect x="186.75" y="431.55" width="13.15" height="13.35" fill="#BCE0EF"/><rect x="199.50" y="431.55" width="13.15" height="13.35" fill="#E1F3F3"/><rect x="237.75" y="431.55" width="13.15" height="13.35" fill="#FEE090"/><rect x="250.50" y="431.55" width="13.15" height="13.35" fill="#FDD17F"/><rect x="263.25" y="431.55" width="13.15" height="13.35" fill="#FDD17F"/><rect x="276.00" y="431.55" width="13.15" height="13.35" fill="#FEE090"/><rect x="288.75" y="431.55" width="13.15" height="13.35" fill="#FDD17F"/><rect x="301.50" y="431.55" width="13.15" height="13.35" fill="#FBA660"/><rect x="314.25" y="431.55" width="13.15" height="13.35" fill="#FBA660"/><rect x="327.00" y="431.55" width="13.15" height="13.35" fill="#F99356"/><rect x="339.75" y="431.55" width="13.15" height="13.35" fill="#F99356"/><rect x="352.50" y="431.55" width="13.15" height="13.35" fill="#F99356"/><rect x="416.25" y="431.55" width="13.15" height="13.35" fill="#FDD17F"/><rect x="429.00" y="431.55" width="13.15" height="13.35" fill="#FDD17F"/><rect x="441.75" y="431.55" width="13.15" height="13.35" fill="#FDD17F"/><rect x="454.50" y="431.55" width="13.15" height="13.35" fill="#FDD17F"/><rect x="467.25" y="431.55" width="13.15" height="13.35" fill="#E1F3F3"/><rect x="480.00" y="431.55" width="13.15" height="13.35" fill="#E1F3F3"/><rect x="492.75" y="431.55" width="13.15" height="13.35" fill="#E1F3F3"/><rect x="505.50" y="431.55" width="13.15" height="13.35" fill="#FCBC6D"/><rect x="237.75" y="444.50" width="13.15" height="13.35" fill="#E1F3F3"/><rect x="250.50" y="444.50" width="13.15" height="13.35" fill="#FEE090"/><rect x="263.25" y="444.50" width="13.15" height="13.35" fill="#FDD17F"/><rect x="276.00" y="444.50" width="13.15" height="13.35" fill="#FDD17F"/><rect x="288.75" y="444.50" width="13.15" height="13.35" fill="#FDD17F"/><rect x="301.50" y="444.50" width="13.15" height="13.35" fill="#FBA660"/><rect x="314.25" y="444.50" width="13.15" height="13.35" fill="#FBA660"/><rect x="327.00" y="444.50" width="13.15" height="13.35" fill="#F67C4A"/><rect x="339.75" y="444.50" width="13.15" height="13.35" fill="#F67C4A"/><rect x="352.50" y="444.50" width="13.15" height="13.35" fill="#FBA660"/><rect x="429.00" y="444.50" width="13.15" height="13.35" fill="#FEE090"/><rect x="441.75" y="444.50" width="13.15" height="13.35" fill="#FEE090"/><rect x="454.50" y="444.50" width="13.15" height="13.35" fill="#FDD17F"/><rect x="467.25" y="444.50" width="13.15" height="13.35" fill="#E1F3F3"/><rect x="480.00" y="444.50" width="13.15" height="13.35" fill="#FDD17F"/><rect x="250.50" y="457.45" width="13.15" height="13.35" fill="#E1F3F3"/><rect x="263.25" y="457.45" width="13.15" height="13.35" fill="#FDD17F"/><rect x="276.00" y="457.45" width="13.15" height="13.35" fill="#FCBC6D"/><rect x="288.75" y="457.45" width="13.15" height="13.35" fill="#FCBC6D"/><rect x="301.50" y="457.45" width="13.15" height="13.35" fill="#FBA660"/><rect x="314.25" y="457.45" width="13.15" height="13.35" fill="#FBA660"/><rect x="327.00" y="457.45" width="13.15" height="13.35" fill="#F67C4A"/><rect x="339.75" y="457.45" width="13.15" height="13.35" fill="#F06544"/><rect x="352.50" y="457.45" width="13.15" height="13.35" fill="#FBA660"/><rect x="429.00" y="457.45" width="13.15" height="13.35" fill="#FEE090"/><rect x="441.75" y="457.45" width="13.15" height="13.35" fill="#FDD17F"/><rect x="454.50" y="457.45" width="13.15" height="13.35" fill="#FDD17F"/><rect x="263.25" y="470.40" width="13.15" height="13.35" fill="#D3EBF8"/><rect x="276.00" y="470.40" width="13.15" height="13.35" fill="#E1F3F3"/><rect x="288.75" y="470.40" width="13.15" height="13.35" fill="#FCBC6D"/><rect x="301.50" y="470.40" width="13.15" height="13.35" fill="#FBA660"/><rect x="314.25" y="470.40" width="13.15" height="13.35" fill="#FBA660"/><rect x="327.00" y="470.40" width="13.15" height="13.35" fill="#F67C4A"/><rect x="339.75" y="470.40" width="13.15" height="13.35" fill="#F67C4A"/><rect x="352.50" y="470.40" width="13.15" height="13.35" fill="#FDD17F"/><rect x="263.25" y="483.35" width="13.15" height="13.35" fill="#E1F3F3"/><rect x="276.00" y="483.35" width="13.15" height="13.35" fill="#FEE090"/><rect x="288.75" y="483.35" width="13.15" height="13.35" fill="#FCBC6D"/><rect x="301.50" y="483.35" width="13.15" height="13.35" fill="#FBA660"/><rect x="314.25" y="483.35" width="13.15" height="13.35" fill="#FCBC6D"/><rect x="327.00" y="483.35" width="13.15" height="13.35" fill="#FBA660"/><rect x="288.75" y="496.30" width="13.15" height="13.35" fill="#FCBC6D"/><rect x="301.50" y="496.30" width="13.15" height="13.35" fill="#FCBC6D"/><rect x="314.25" y="496.30" width="13.15" height="13.35" fill="#FCBC6D"/></g>
<path d="M53.0 65.0 53.0 81.5 51.0 87.6 50.5 94.8 48.4 100.5 50.5 106.1 56.1 115.4 60.7 119.5 67.4 123.6 69.5 128.8 75.1 129.3 79.8 132.4 91.6 128.3 99.3 125.7 102.9 121.1 109.1 121.1 114.2 123.1 120.4 124.7 126.6 129.8 132.7 137.0 138.9 144.2 138.9 134.9 144.1 129.8 148.7 123.1 153.8 122.1 154.3 112.3 157.4 106.1 163.1 103.6 168.7 104.6 171.8 100.5 180.1 101.0 188.3 96.4 196.5 91.7 200.6 87.1 204.2 85.6 208.9 87.1 209.9 89.7 207.8 94.3 200.6 96.9 203.7 104.1 205.8 109.2 200.6 118.5 202.7 122.6 203.7 128.8 210.9 126.7 210.9 119.5 206.8 111.3 206.8 104.1 214.7 102.9 222.5 100.0 220.5 91.2 226.3 89.3 228.3 96.1 238.0 97.1 243.8 100.0 247.7 109.7 254.5 110.7 267.1 108.7 274.9 109.7 280.7 113.6 288.5 114.5 295.3 111.6 302.1 107.7 313.8 108.7 319.6 115.5 323.5 119.4 329.3 120.4 339.0 123.3 341.0 129.1 340.0 135.9 348.7 134.9 360.4 140.8 368.2 146.6 371.0 151.5 370.0 156.3 375.8 156.3 383.6 162.1 389.4 168.0 403.0 168.9 414.7 168.0 428.3 170.9 443.8 176.7 455.5 184.5 467.1 194.2 468.1 202.9 473.0 212.7 474.9 220.4 481.1 221.4 480.7 230.1 475.9 236.0 469.1 241.8 464.2 246.7 462.3 251.5 461.3 256.4M313.8 107.7 325.4 107.4M330.3 115.5 331.3 106.8 340.0 106.2 340.0 112.6 334.2 115.9 330.3 115.5M472.0 262.0 473.9 248.6 476.9 245.7 486.6 244.7 499.2 246.7 498.2 259.3 497.3 262.2 502.1 252.5 509.9 250.5 513.6 251.7 523.6 255.9 537.0 260.1 540.4 264.3 545.4 261.7 551.2 272.6 549.6 279.3 557.1 276.0 563.8 273.5 575.5 277.6 582.2 278.5 588.9 281.0 600.6 279.3 607.3 279.3 615.6 285.2 625.7 291.9 635.7 300.2 645.8 306.9 655.8 307.7 665.8 309.4 670.8 323.6 674.2 337.0 673.4 347.1 665.8 360.4 655.8 373.8 647.4 380.5 640.7 388.9 634.0 398.9 629.0 405.6 621.5 411.5 619.8 427.4 621.5 445.8 619.0 465.8 614.0 471.7 612.3 490.9 604.8 499.3 596.4 509.3 594.7 521.0 582.2 528.6 582.2 532.7 567.1 534.4 548.7 533.6 549.6 537.8 542.9 539.4 538.7 544.5 534.5 542.8 522.0 548.6 510.3 558.7 508.6 560.5M34.0 115.4 38.1 119.5 45.3 124.1 50.5 128.8 49.4 135.5 55.6 136.5 59.7 139.6 62.3 137.5 73.1 140.6 78.2 144.7 84.4 144.7 85.4 152.4 91.6 150.9 97.8 147.3 92.1 143.2 91.1 139.1 97.8 136.0 101.9 131.9 104.5 128.8 108.1 128.8 113.2 131.9 117.3 137.0 121.4 137.5 117.8 141.1 120.4 148.3 126.6 154.5 130.7 159.6 129.7 165.8 130.7 176.1 131.2 185.3 129.7 192.5 133.8 196.7 128.6 207.0 126.1 209.0 119.4 209.0 114.7 215.2 115.8 221.3 110.1 222.4 112.2 227.5 112.7 227.1 98.0 234.6 96.6 242.8 91.1 247.6 90.8 253.8 85.7 255.5 87.7 264.8 87.4 271.6 85.7 272.3 91.1 275.7 95.3 281.2 96.3 274.4 102.1 274.7 98.0 285.3 91.1 288.8 80.2 297.0 80.2 303.9 83.6 310.7 87.0 314.8 82.6 319.3 86.3 321.7 92.5 324.4 98.0 329.9 102.1 335.0 103.9 342.6 111.5 348.6 116.1 356.2 120.6 371.4 126.7 380.6 131.3 391.2 138.9 401.8 146.5 417.0 145.0 423.1 155.6 435.3 167.8 442.9 173.8 444.4 183.0 450.5 192.1 455.0 205.8 461.9 210.3 467.2 220.2 474.0 222.5 496.1 224.0 512.8 219.4 532.6 218.7 549.3 218.7 560.5" fill="none" stroke="#7d7d7d" stroke-width="1.9" stroke-linejoin="round"/>
<path d="M119.9 335.0 116.5 329.2 113.1 325.1 108.3 323.1 103.1 320.3 102.8 314.1 101.4 308.7 104.9 301.8 103.5 295.6 105.5 288.8 111.0 283.3 106.2 280.5 107.6 275.7 112.4 270.3 109.7 266.1 109.0 260.7 111.7 255.9 111.0 250.4 115.8 248.3 118.6 244.2 126.1 240.1 125.4 235.3 132.3 232.5 134.3 228.4 139.1 225.0 138.7 219.0 140.7 216.2 144.2 222.4 150.3 217.6 157.2 209.4 162.0 201.1 164.7 203.9 167.5 210.7 168.9 220.3 170.9 221.0 176.4 218.3 180.5 217.6 186.0 214.9 192.9 211.4 206.6 210.7 220.3 212.1 229.9 213.9 240.9 211.4 245.0 207.3 246.3 205.3 253.2 205.3 261.4 208.7 264.8 205.9 273.8 205.3 279.2 210.7 284.1 219.0 288.9 223.1 297.1 219.0 304.0 216.9 309.5 214.2 310.2 212.1 304.7 212.1 297.1 212.1 297.1 208.0 299.9 198.4 300.6 194.3 295.1 192.9 295.1 190.2 298.5 188.8 301.9 191.5 308.8 191.5 314.3 198.4 317.0 192.9 322.5 194.3 324.6 189.5 326.6 186.1 334.9 184.0 340.3 185.4 342.4 180.6 344.5 177.1 351.3 175.8 355.4 177.8 359.5 181.9 359.5 197.7 356.8 200.5 358.2 206.6 359.5 208.0 358.9 216.9 356.8 219.0 360.9 223.8 363.7 225.8 369.1 225.8 372.5 224.0 379.1 205.6 375.5 224.0 377.4 223.8 382.9 223.1 387.0 217.6 391.1 217.6 395.2 218.3 400.0 217.6 402.1 209.7 416.6 209.7 422.5 213.6 436.1 213.6 443.8 220.4 449.7 230.1 453.5 239.9 455.5 248.6 461.3 249.6 460.3 254.4 455.5 258.3 445.8 263.2 457.4 260.3 465.2 256.4 470.1 259.3 471.0 265.1 465.0 264.0 461.3 267.0 463.0 272.0 469.1 273.9 471.0 266.0 478.8 266.1 486.6 264.1 492.4 267.1 488.5 274.8 486.6 286.5 488.5 298.1 494.3 304.0 497.1 304.6 502.9 305.1 508.6 307.4 514.3 309.1 518.3 312.3 521.7 317.1 524.0 321.1 524.6 325.7 526.3 329.1 526.9 331.4 524.6 334.3 525.1 337.1 527.1 342.3 525.7 347.8 518.9 356.1 521.6 360.2 524.3 364.3 527.1 369.8 528.4 375.3 527.1 382.1 528.4 390.3 525.7 394.5 524.3 401.3 525.7 408.2 525.7 415.0 528.4 419.1 529.8 426.0 530.5 430.8 524.3 431.5 518.9 432.9 514.7 439.7 509.2 442.5 502.4 441.8 498.3 443.8 494.2 439.7 491.4 443.8 491.4 447.9 483.2 445.9 476.3 449.3 472.2 453.4 462.6 459.6 453.0 457.5 444.8 462.3 442.1 465.8 442.7 472.6 437.9 473.3 437.3 465.8 435.9 456.2 429.7 450.7 426.3 446.6 427.0 441.1 422.9 438.3 416.0 439.0 410.5 443.8 409.1 439.7 414.6 434.2 418.1 430.1 416.7 423.3 411.9 422.6 403.7 426.0 396.8 426.0 391.3 420.5 384.5 419.1 380.3 421.2 379.0 425.3 372.1 424.6 368.7 426.0 368.7 432.9 363.9 438.3 358.4 441.1 358.4 443.8 361.1 449.3 361.1 457.5 359.8 462.3 366.6 461.6 367.3 469.9 361.1 472.6 352.9 474.0 347.4 471.9 342.6 473.3 339.2 479.5 332.3 487.7 329.6 491.1 331.7 496.6 328.2 502.8 322.7 504.2 317.6 504.8 310.8 508.3 299.8 503.5 295.7 501.4 293.0 491.8 288.9 486.3 275.1 480.8 265.5 487.7 261.4 469.9 257.3 461.6 250.4 458.9 249.1 452.1 246.3 446.6 239.5 443.8 236.7 438.3 235.4 430.1 228.5 424.6 221.7 421.2 214.1 421.9 210.7 428.7 212.7 431.5 213.4 438.3 210.7 437.0 205.2 435.6 202.5 439.0 198.3 438.3 194.2 432.9 186.0 428.7 180.5 425.3 177.8 427.4 170.9 426.0 165.4 417.8 158.6 412.3 157.9 405.4 151.7 404.1 149.0 393.1 142.1 387.6 135.3 380.7 131.1 364.3 124.3 353.3 120.9 343.7 121.5 336.9Z" fill="none" stroke="#000" stroke-width="4.0" stroke-linejoin="round" stroke-linecap="round"/>
<line x1="121.5" y1="338.1" x2="524.0" y2="338.1" stroke="#000" stroke-width="3.2"/>
<g fill="#000"><circle cx="322.1" cy="194.7" r="4"/><circle cx="195.3" cy="220.4" r="4"/><circle cx="220.7" cy="220.4" r="4"/><circle cx="246.0" cy="220.4" r="4"/><circle cx="220.7" cy="246.1" r="4"/><circle cx="246.0" cy="246.1" r="4"/><circle cx="448.8" cy="246.1" r="4"/><circle cx="119.2" cy="271.8" r="4"/><circle cx="220.7" cy="271.8" r="4"/><circle cx="246.0" cy="271.8" r="4"/><circle cx="296.7" cy="271.8" r="4"/><circle cx="322.1" cy="271.8" r="4"/><circle cx="474.1" cy="271.8" r="4"/><circle cx="271.4" cy="297.5" r="4"/><circle cx="296.7" cy="297.5" r="4"/><circle cx="474.1" cy="297.5" r="4"/><circle cx="271.4" cy="323.2" r="4"/><circle cx="296.7" cy="323.2" r="4"/><circle cx="322.1" cy="323.2" r="4"/><circle cx="347.4" cy="323.2" r="4"/><circle cx="372.8" cy="323.2" r="4"/><circle cx="499.5" cy="323.2" r="4"/><circle cx="144.6" cy="348.9" r="4"/><circle cx="220.7" cy="348.9" r="4"/><circle cx="271.4" cy="348.9" r="4"/><circle cx="296.7" cy="348.9" r="4"/><circle cx="322.1" cy="348.9" r="4"/><circle cx="347.4" cy="348.9" r="4"/><circle cx="372.8" cy="348.9" r="4"/><circle cx="398.1" cy="348.9" r="4"/><circle cx="423.5" cy="348.9" r="4"/><circle cx="448.8" cy="348.9" r="4"/><circle cx="144.6" cy="374.6" r="4"/><circle cx="271.4" cy="374.6" r="4"/><circle cx="296.7" cy="374.6" r="4"/><circle cx="322.1" cy="374.6" r="4"/><circle cx="347.4" cy="374.6" r="4"/><circle cx="372.8" cy="374.6" r="4"/><circle cx="398.1" cy="374.6" r="4"/><circle cx="423.5" cy="374.6" r="4"/><circle cx="448.8" cy="374.6" r="4"/><circle cx="296.7" cy="400.3" r="4"/><circle cx="322.1" cy="400.3" r="4"/><circle cx="347.4" cy="400.3" r="4"/><circle cx="372.8" cy="400.3" r="4"/><circle cx="398.1" cy="400.3" r="4"/><circle cx="423.5" cy="400.3" r="4"/><circle cx="448.8" cy="400.3" r="4"/><circle cx="322.1" cy="426.0" r="4"/><circle cx="347.4" cy="426.0" r="4"/><circle cx="372.8" cy="426.0" r="4"/><circle cx="398.1" cy="426.0" r="4"/><circle cx="423.5" cy="426.0" r="4"/><circle cx="448.8" cy="426.0" r="4"/><circle cx="296.7" cy="451.7" r="4"/><circle cx="322.1" cy="451.7" r="4"/><circle cx="347.4" cy="451.7" r="4"/><circle cx="296.7" cy="477.4" r="4"/><circle cx="322.1" cy="477.4" r="4"/><circle cx="347.4" cy="477.4" r="4"/><circle cx="322.1" cy="503.1" r="4"/></g></g></g>
<rect x="34.0" y="1329.4" width="676.0" height="495.0" fill="none" stroke="#1a1a1a" stroke-width="2"/>
<path d="M34.0 1506.9h8M710.0 1506.9h-8M352.5 1329.4v8M352.5 1824.4v-8" stroke="#1a1a1a" stroke-width="2"/>
<g id="sc0"><g fill="#0072BD" fill-opacity="0.6"><circle cx="1328.0" cy="179.4" r="11.1"/><circle cx="1328.0" cy="185.4" r="11.1"/><circle cx="1285.1" cy="241.2" r="11.1"/><circle cx="1296.3" cy="233.4" r="11.1"/><circle cx="1295.4" cy="247.2" r="11.1"/><circle cx="1285.1" cy="277.2" r="11.1"/><circle cx="1296.3" cy="274.6" r="11.1"/><circle cx="1329.7" cy="278.9" r="11.1"/><circle cx="1340.9" cy="273.7" r="11.1"/><circle cx="1368.3" cy="270.3" r="11.1"/><circle cx="1384.6" cy="268.6" r="11.1"/><circle cx="1421.5" cy="123.3" r="11.1"/><circle cx="1421.5" cy="130.0" r="11.1"/><circle cx="1421.3" cy="143.3" r="11.1"/><circle cx="1433.1" cy="153.0" r="11.1"/><circle cx="1410.6" cy="179.9" r="11.1"/><circle cx="1410.6" cy="200.4" r="11.1"/><circle cx="1460.1" cy="115.5" r="11.1"/><circle cx="1488.9" cy="131.0" r="11.1"/><circle cx="1488.9" cy="145.9" r="11.1"/><circle cx="1507.7" cy="145.0" r="11.1"/><circle cx="1534.6" cy="126.1" r="11.1"/><circle cx="1545.4" cy="134.7" r="11.1"/><circle cx="1547.1" cy="144.1" r="11.1"/><circle cx="1534.6" cy="139.9" r="11.1"/><circle cx="1542.0" cy="136.4" r="11.1"/><circle cx="1577.7" cy="106.4" r="11.1"/><circle cx="1603.7" cy="115.0" r="11.1"/><circle cx="1606.3" cy="119.3" r="11.1"/><circle cx="1606.3" cy="130.4" r="11.1"/><circle cx="1577.2" cy="131.3" r="11.1"/><circle cx="1571.2" cy="136.4" r="11.1"/><circle cx="1590.0" cy="129.6" r="11.1"/><circle cx="1581.4" cy="141.6" r="11.1"/><circle cx="1593.4" cy="145.0" r="11.1"/><circle cx="1606.3" cy="150.1" r="11.1"/><circle cx="1569.4" cy="157.9" r="11.1"/><circle cx="1584.9" cy="157.0" r="11.1"/><circle cx="1578.9" cy="169.9" r="11.1"/><circle cx="1692.5" cy="124.1" r="11.1"/><circle cx="1692.5" cy="139.5" r="11.1"/><circle cx="1488.9" cy="178.1" r="11.1"/><circle cx="1524.5" cy="172.1" r="11.1"/><circle cx="1533.1" cy="185.3" r="11.1"/><circle cx="1506.9" cy="198.1" r="11.1"/><circle cx="1578.9" cy="194.4" r="11.1"/><circle cx="1533.4" cy="208.4" r="11.1"/><circle cx="1538.6" cy="206.7" r="11.1"/><circle cx="1457.7" cy="230.7" r="11.1"/><circle cx="1488.9" cy="227.3" r="11.1"/><circle cx="1506.9" cy="224.7" r="11.1"/><circle cx="1524.0" cy="225.6" r="11.1"/><circle cx="1535.1" cy="228.2" r="11.1"/><circle cx="1353.7" cy="286.0" r="11.1"/><circle cx="1298.9" cy="290.3" r="11.1"/><circle cx="1312.6" cy="293.7" r="11.1"/><circle cx="1280.0" cy="298.9" r="11.1"/><circle cx="1353.7" cy="303.1" r="11.1"/><circle cx="1393.2" cy="294.6" r="11.1"/><circle cx="1280.0" cy="310.9" r="11.1"/><circle cx="1297.1" cy="311.7" r="11.1"/><circle cx="1310.9" cy="317.7" r="11.1"/><circle cx="1312.6" cy="323.7" r="11.1"/><circle cx="1266.3" cy="324.6" r="11.1"/><circle cx="1275.7" cy="321.1" r="11.1"/><circle cx="1295.4" cy="332.3" r="11.1"/><circle cx="1305.7" cy="339.1" r="11.1"/><circle cx="1393.2" cy="311.7" r="11.1"/><circle cx="1212.3" cy="311.4" r="11.1"/><circle cx="1232.9" cy="309.1" r="11.1"/><circle cx="1199.4" cy="339.1" r="11.1"/><circle cx="1228.6" cy="336.6" r="11.1"/><circle cx="1212.3" cy="345.1" r="11.1"/><circle cx="1232.0" cy="346.0" r="11.1"/><circle cx="1199.4" cy="346.0" r="11.1"/><circle cx="1173.7" cy="355.4" r="11.1"/><circle cx="1265.4" cy="349.4" r="11.1"/><circle cx="1261.2" cy="357.1" r="11.1"/><circle cx="1279.2" cy="358.9" r="11.1"/><circle cx="1328.9" cy="351.1" r="11.1"/><circle cx="1341.7" cy="363.1" r="11.1"/><circle cx="1307.4" cy="361.4" r="11.1"/><circle cx="1317.7" cy="356.3" r="11.1"/><circle cx="1393.2" cy="362.3" r="11.1"/><circle cx="1218.3" cy="361.4" r="11.1"/><circle cx="1223.4" cy="359.7" r="11.1"/><circle cx="1211.4" cy="368.3" r="11.1"/><circle cx="1233.7" cy="364.0" r="11.1"/><circle cx="1220.0" cy="371.7" r="11.1"/><circle cx="1230.3" cy="374.3" r="11.1"/><circle cx="1242.3" cy="377.7" r="11.1"/><circle cx="1259.4" cy="368.3" r="11.1"/><circle cx="1261.2" cy="377.7" r="11.1"/><circle cx="1278.3" cy="368.3" r="11.1"/><circle cx="1129.1" cy="377.7" r="11.1"/><circle cx="1146.3" cy="380.3" r="11.1"/><circle cx="1163.4" cy="386.3" r="11.1"/><circle cx="1173.7" cy="376.9" r="11.1"/><circle cx="1172.0" cy="385.4" r="11.1"/><circle cx="1370.9" cy="377.7" r="11.1"/><circle cx="1341.7" cy="382.9" r="11.1"/><circle cx="1393.2" cy="385.4" r="11.1"/><circle cx="1129.1" cy="395.7" r="11.1"/><circle cx="1146.3" cy="400.0" r="11.1"/><circle cx="1197.7" cy="390.6" r="11.1"/><circle cx="1196.0" cy="399.2" r="11.1"/><circle cx="1172.0" cy="397.4" r="11.1"/><circle cx="1171.1" cy="406.0" r="11.1"/><circle cx="1221.7" cy="392.3" r="11.1"/><circle cx="1257.7" cy="387.1" r="11.1"/><circle cx="1271.4" cy="385.4" r="11.1"/><circle cx="1281.7" cy="390.6" r="11.1"/><circle cx="1298.9" cy="390.6" r="11.1"/><circle cx="1280.0" cy="400.9" r="11.1"/><circle cx="1278.3" cy="406.9" r="11.1"/><circle cx="1317.7" cy="399.2" r="11.1"/><circle cx="1129.1" cy="414.6" r="11.1"/><circle cx="1129.1" cy="418.9" r="11.1"/><circle cx="1146.3" cy="421.4" r="11.1"/><circle cx="1197.7" cy="405.1" r="11.1"/><circle cx="1195.1" cy="412.9" r="11.1"/><circle cx="1220.0" cy="409.4" r="11.1"/><circle cx="1341.7" cy="418.0" r="11.1"/><circle cx="1370.9" cy="426.6" r="11.1"/><circle cx="1341.7" cy="430.0" r="11.1"/><circle cx="1341.7" cy="436.9" r="11.1"/><circle cx="1171.1" cy="435.1" r="11.1"/><circle cx="1194.3" cy="436.9" r="11.1"/><circle cx="1197.7" cy="444.6" r="11.1"/><circle cx="1221.7" cy="426.6" r="11.1"/><circle cx="1244.0" cy="428.3" r="11.1"/><circle cx="1254.3" cy="418.0" r="11.1"/><circle cx="1250.9" cy="435.1" r="11.1"/><circle cx="1278.3" cy="423.1" r="11.1"/><circle cx="1278.3" cy="432.6" r="11.1"/><circle cx="1294.6" cy="446.3" r="11.1"/><circle cx="1316.9" cy="447.2" r="11.1"/><circle cx="1398.3" cy="440.3" r="11.1"/><circle cx="1298.0" cy="395.9" r="11.1"/><circle cx="1317.7" cy="401.9" r="11.1"/><circle cx="1194.3" cy="451.6" r="11.1"/><circle cx="1148.0" cy="461.9" r="11.1"/><circle cx="1164.3" cy="469.6" r="11.1"/><circle cx="1254.3" cy="441.3" r="11.1"/><circle cx="1257.7" cy="444.7" r="11.1"/><circle cx="1268.9" cy="455.9" r="11.1"/><circle cx="1242.3" cy="461.9" r="11.1"/><circle cx="1244.0" cy="460.5" r="11.1"/><circle cx="1341.7" cy="446.4" r="11.1"/><circle cx="1341.7" cy="454.1" r="11.1"/><circle cx="1354.6" cy="458.4" r="11.1"/><circle cx="1370.9" cy="457.6" r="11.1"/><circle cx="1370.9" cy="461.0" r="11.1"/><circle cx="1398.3" cy="458.4" r="11.1"/><circle cx="1219.1" cy="479.9" r="11.1"/><circle cx="1250.9" cy="491.9" r="11.1"/><circle cx="1147.1" cy="497.9" r="11.1"/><circle cx="1171.1" cy="498.7" r="11.1"/><circle cx="1311.7" cy="479.0" r="11.1"/><circle cx="1311.7" cy="496.1" r="11.1"/><circle cx="1311.7" cy="507.3" r="11.1"/><circle cx="1311.7" cy="519.3" r="11.1"/><circle cx="1278.3" cy="515.9" r="11.1"/><circle cx="1336.6" cy="494.4" r="11.1"/><circle cx="1341.7" cy="484.1" r="11.1"/><circle cx="1354.6" cy="497.0" r="11.1"/><circle cx="1370.9" cy="484.1" r="11.1"/><circle cx="1370.9" cy="496.1" r="11.1"/><circle cx="1388.0" cy="480.7" r="11.1"/><circle cx="1389.7" cy="491.0" r="11.1"/><circle cx="1399.2" cy="487.6" r="11.1"/><circle cx="1507.2" cy="240.1" r="11.1"/><circle cx="1524.0" cy="233.9" r="11.1"/><circle cx="1477.1" cy="254.2" r="11.1"/><circle cx="1525.8" cy="260.4" r="11.1"/><circle cx="1577.1" cy="246.3" r="11.1"/><circle cx="1443.9" cy="285.2" r="11.1"/><circle cx="1507.2" cy="287.0" r="11.1"/><circle cx="1508.0" cy="294.1" r="11.1"/><circle cx="1516.9" cy="290.5" r="11.1"/><circle cx="1524.9" cy="289.7" r="11.1"/><circle cx="1539.1" cy="301.2" r="11.1"/><circle cx="1485.9" cy="307.9" r="11.1"/><circle cx="1457.6" cy="318.0" r="11.1"/><circle cx="1507.2" cy="327.7" r="11.1"/><circle cx="1513.4" cy="343.3" r="11.1"/><circle cx="1443.9" cy="344.0" r="11.1"/><circle cx="1492.1" cy="349.9" r="11.1"/><circle cx="1492.1" cy="363.2" r="11.1"/><circle cx="1485.9" cy="372.0" r="11.1"/><circle cx="1447.5" cy="369.9" r="11.1"/><circle cx="1513.4" cy="375.6" r="11.1"/><circle cx="1476.2" cy="379.1" r="11.1"/><circle cx="1492.5" cy="391.8" r="11.1"/><circle cx="1459.7" cy="394.1" r="11.1"/><circle cx="1447.3" cy="399.8" r="11.1"/><circle cx="1420.4" cy="407.8" r="11.1"/><circle cx="1428.7" cy="406.0" r="11.1"/><circle cx="1425.7" cy="416.6" r="11.1"/><circle cx="1447.3" cy="417.2" r="11.1"/><circle cx="1466.8" cy="419.3" r="11.1"/><circle cx="1483.6" cy="405.1" r="11.1"/><circle cx="1492.5" cy="421.9" r="11.1"/><circle cx="1406.6" cy="440.5" r="11.1"/><circle cx="1426.4" cy="434.3" r="11.1"/><circle cx="1426.9" cy="446.7" r="11.1"/><circle cx="1466.8" cy="435.2" r="11.1"/><circle cx="1468.6" cy="448.0" r="11.1"/><circle cx="1447.0" cy="449.4" r="11.1"/><circle cx="1404.8" cy="457.4" r="11.1"/><circle cx="1428.7" cy="464.5" r="11.1"/><circle cx="1468.6" cy="476.0" r="11.1"/><circle cx="1405.7" cy="476.9" r="11.1"/><circle cx="1390.6" cy="488.4" r="11.1"/><circle cx="1403.0" cy="492.8" r="11.1"/><circle cx="1424.3" cy="478.6" r="11.1"/><circle cx="1428.7" cy="486.6" r="11.1"/><circle cx="1441.1" cy="499.9" r="11.1"/><circle cx="1540.0" cy="132.0" r="11.1"/><circle cx="1545.0" cy="140.0" r="11.1"/><circle cx="1538.0" cy="137.0" r="11.1"/><circle cx="1586.0" cy="134.0" r="11.1"/><circle cx="1592.0" cy="140.0" r="11.1"/><circle cx="1583.0" cy="138.0" r="11.1"/><circle cx="1604.0" cy="120.0" r="11.1"/><circle cx="1422.0" cy="142.0" r="11.1"/><circle cx="1432.0" cy="152.0" r="11.1"/><circle cx="1316.0" cy="448.0" r="11.1"/><circle cx="1218.0" cy="362.0" r="11.1"/><circle cx="1222.0" cy="366.0" r="11.1"/><circle cx="1262.0" cy="358.0" r="11.1"/><circle cx="1266.0" cy="362.0" r="11.1"/><circle cx="1194.0" cy="402.0" r="11.1"/><circle cx="1146.0" cy="380.0" r="11.1"/><circle cx="1170.0" cy="382.0" r="11.1"/><circle cx="1296.0" cy="238.0" r="11.1"/><circle cx="1306.0" cy="322.0" r="11.1"/><circle cx="1342.0" cy="430.0" r="11.1"/><circle cx="1278.0" cy="398.0" r="11.1"/></g>
<polygon points="1128.3,440.9 1142.4,434.1 1156.5,427.3 1170.6,420.4 1184.8,413.5 1198.9,406.6 1213.0,399.7 1227.1,392.7 1241.2,385.7 1255.3,378.6 1269.5,371.5 1283.6,364.3 1297.7,357.0 1311.8,349.7 1325.9,342.3 1340.0,334.8 1354.1,327.2 1368.3,319.6 1382.4,311.8 1396.5,304.0 1410.6,296.1 1424.7,288.1 1438.8,280.1 1452.9,272.0 1467.1,263.8 1481.2,255.6 1495.3,247.3 1509.4,239.0 1523.5,230.6 1537.6,222.2 1551.8,213.8 1565.9,205.3 1580.0,196.9 1594.1,188.4 1608.2,179.9 1622.3,171.3 1636.4,162.8 1650.6,154.2 1664.7,145.6 1678.8,137.0 1692.9,128.4 1692.9,187.0 1678.8,193.7 1664.7,200.4 1650.6,207.1 1636.4,213.8 1622.3,220.6 1608.2,227.3 1594.1,234.1 1580.0,240.9 1565.9,247.7 1551.8,254.5 1537.6,261.4 1523.5,268.3 1509.4,275.3 1495.3,282.2 1481.2,289.3 1467.1,296.3 1452.9,303.4 1438.8,310.6 1424.7,317.9 1410.6,325.2 1396.5,332.6 1382.4,340.1 1368.3,347.6 1354.1,355.2 1340.0,363.0 1325.9,370.8 1311.8,378.7 1297.7,386.6 1283.6,394.7 1269.5,402.8 1255.3,410.9 1241.2,419.2 1227.1,427.4 1213.0,435.7 1198.9,444.1 1184.8,452.5 1170.6,460.9 1156.5,469.3 1142.4,477.8 1128.3,486.3" fill="#FF0000" fill-opacity="0.2"/>
<line x1="1128.3" y1="463.6" x2="1692.9" y2="157.7" stroke="#545454" stroke-width="5"/></g>
<rect x="1073.0" y="65.2" width="676.0" height="495.2" fill="none" stroke="#262626" stroke-width="2"/>
<text x="1150.7" y="600.9" font-size="29" text-anchor="middle" fill="#262626">-10</text>
<text x="1236.7" y="600.9" font-size="29" text-anchor="middle" fill="#262626">-8</text>
<text x="1322.7" y="600.9" font-size="29" text-anchor="middle" fill="#262626">-6</text>
<text x="1408.7" y="600.9" font-size="29" text-anchor="middle" fill="#262626">-4</text>
<text x="1494.7" y="600.9" font-size="29" text-anchor="middle" fill="#262626">-2</text>
<text x="1580.7" y="600.9" font-size="29" text-anchor="middle" fill="#262626">0</text>
<text x="1666.7" y="600.9" font-size="29" text-anchor="middle" fill="#262626">2</text>
<text x="1061.5" y="133.0" font-size="29" text-anchor="end" fill="#262626">0</text>
<text x="1061.5" y="257.2" font-size="29" text-anchor="end" fill="#262626">-100</text>
<text x="1061.5" y="381.3" font-size="29" text-anchor="end" fill="#262626">-200</text>
<text x="1061.5" y="505.5" font-size="29" text-anchor="end" fill="#262626">-300</text>
<path d="M1152.0 560.4v-8M1152.0 65.2v8M1238.0 560.4v-8M1238.0 65.2v8M1324.0 560.4v-8M1324.0 65.2v8M1410.0 560.4v-8M1410.0 65.2v8M1496.0 560.4v-8M1496.0 65.2v8M1582.0 560.4v-8M1582.0 65.2v8M1668.0 560.4v-8M1668.0 65.2v8M1073.0 122.7h8M1749.0 122.7h-8M1073.0 246.9h8M1749.0 246.9h-8M1073.0 371.0h8M1749.0 371.0h-8M1073.0 495.2h8M1749.0 495.2h-8" stroke="#262626" stroke-width="2"/>
<text x="1411.0" y="641.7" font-size="31.2" text-anchor="middle" fill="#262626">Change in FC_w (percentage point)</text>
<text transform="translate(985 314.3) rotate(-90)" x="0" y="0" font-size="31.2" text-anchor="middle" fill="#262626">Change in CAPE (J kg<tspan font-size="22.5" dy="-14" dx="1">-1</tspan><tspan dy="14" dx="0.5">)</tspan></text>
<g id="sc1"><g fill="#0072BD" fill-opacity="0.6"><circle cx="1161.4" cy="762.5" r="11.1"/><circle cx="1174.6" cy="758.6" r="11.1"/><circle cx="1184.0" cy="757.7" r="11.1"/><circle cx="1188.3" cy="766.3" r="11.1"/><circle cx="1180.6" cy="771.4" r="11.1"/><circle cx="1179.7" cy="778.3" r="11.1"/><circle cx="1199.4" cy="780.0" r="11.1"/><circle cx="1174.6" cy="791.1" r="11.1"/><circle cx="1180.6" cy="797.1" r="11.1"/><circle cx="1186.6" cy="807.4" r="11.1"/><circle cx="1212.3" cy="748.3" r="11.1"/><circle cx="1216.6" cy="759.4" r="11.1"/><circle cx="1233.7" cy="755.1" r="11.1"/><circle cx="1242.3" cy="761.1" r="11.1"/><circle cx="1228.6" cy="766.3" r="11.1"/><circle cx="1220.0" cy="773.1" r="11.1"/><circle cx="1226.9" cy="774.9" r="11.1"/><circle cx="1232.0" cy="778.3" r="11.1"/><circle cx="1240.6" cy="776.6" r="11.1"/><circle cx="1228.6" cy="785.1" r="11.1"/><circle cx="1230.0" cy="770.0" r="11.1"/><circle cx="1236.0" cy="772.0" r="11.1"/><circle cx="1254.3" cy="763.7" r="11.1"/><circle cx="1263.7" cy="762.0" r="11.1"/><circle cx="1302.3" cy="764.6" r="11.1"/><circle cx="1316.9" cy="774.9" r="11.1"/><circle cx="1333.2" cy="780.0" r="11.1"/><circle cx="1356.3" cy="789.4" r="11.1"/><circle cx="1277.4" cy="781.7" r="11.1"/><circle cx="1274.0" cy="787.7" r="11.1"/><circle cx="1279.2" cy="788.6" r="11.1"/><circle cx="1302.3" cy="782.6" r="11.1"/><circle cx="1304.0" cy="788.6" r="11.1"/><circle cx="1293.7" cy="793.7" r="11.1"/><circle cx="1298.9" cy="800.6" r="11.1"/><circle cx="1292.0" cy="805.7" r="11.1"/><circle cx="1301.4" cy="807.4" r="11.1"/><circle cx="1300.0" cy="796.0" r="11.1"/><circle cx="1324.6" cy="798.9" r="11.1"/><circle cx="1333.2" cy="793.7" r="11.1"/><circle cx="1343.4" cy="795.4" r="11.1"/><circle cx="1336.6" cy="805.7" r="11.1"/><circle cx="1346.9" cy="809.1" r="11.1"/><circle cx="1326.3" cy="810.9" r="11.1"/><circle cx="1336.6" cy="816.0" r="11.1"/><circle cx="1338.0" cy="800.0" r="11.1"/><circle cx="1340.0" cy="810.0" r="11.1"/><circle cx="1268.0" cy="807.4" r="11.1"/><circle cx="1266.3" cy="817.7" r="11.1"/><circle cx="1299.7" cy="820.3" r="11.1"/><circle cx="1357.1" cy="815.1" r="11.1"/><circle cx="1365.7" cy="823.7" r="11.1"/><circle cx="1362.3" cy="828.0" r="11.1"/><circle cx="1148.0" cy="816.0" r="11.1"/><circle cx="1166.9" cy="816.0" r="11.1"/><circle cx="1185.7" cy="817.7" r="11.1"/><circle cx="1161.7" cy="831.4" r="11.1"/><circle cx="1249.1" cy="830.6" r="11.1"/><circle cx="1228.6" cy="837.4" r="11.1"/><circle cx="1298.0" cy="837.4" r="11.1"/><circle cx="1307.4" cy="840.0" r="11.1"/><circle cx="1326.3" cy="829.7" r="11.1"/><circle cx="1340.0" cy="838.3" r="11.1"/><circle cx="1364.9" cy="843.4" r="11.1"/><circle cx="1322.9" cy="850.3" r="11.1"/><circle cx="1338.3" cy="852.0" r="11.1"/><circle cx="1298.9" cy="859.7" r="11.1"/><circle cx="1310.9" cy="863.1" r="11.1"/><circle cx="1346.9" cy="860.6" r="11.1"/><circle cx="1374.3" cy="853.7" r="11.1"/><circle cx="1391.4" cy="852.0" r="11.1"/><circle cx="1394.9" cy="862.3" r="11.1"/><circle cx="1129.1" cy="863.1" r="11.1"/><circle cx="1178.9" cy="859.7" r="11.1"/><circle cx="1223.4" cy="859.7" r="11.1"/><circle cx="1194.3" cy="879.9" r="11.1"/><circle cx="1240.2" cy="884.1" r="11.1"/><circle cx="1274.0" cy="899.2" r="11.1"/><circle cx="1256.9" cy="908.1" r="11.1"/><circle cx="1336.6" cy="878.1" r="11.1"/><circle cx="1302.3" cy="889.3" r="11.1"/><circle cx="1312.6" cy="899.6" r="11.1"/><circle cx="1311.7" cy="906.4" r="11.1"/><circle cx="1297.1" cy="913.3" r="11.1"/><circle cx="1309.2" cy="914.1" r="11.1"/><circle cx="1328.0" cy="904.7" r="11.1"/><circle cx="1343.4" cy="906.4" r="11.1"/><circle cx="1357.1" cy="908.1" r="11.1"/><circle cx="1370.0" cy="896.1" r="11.1"/><circle cx="1384.6" cy="904.7" r="11.1"/><circle cx="1389.7" cy="891.0" r="11.1"/><circle cx="1340.0" cy="923.6" r="11.1"/><circle cx="1343.4" cy="927.0" r="11.1"/><circle cx="1336.6" cy="928.7" r="11.1"/><circle cx="1352.0" cy="923.6" r="11.1"/><circle cx="1370.0" cy="928.7" r="11.1"/><circle cx="1394.9" cy="932.1" r="11.1"/><circle cx="1396.6" cy="872.1" r="11.1"/><circle cx="1397.0" cy="880.0" r="11.1"/><circle cx="1287.7" cy="952.7" r="11.1"/><circle cx="1306.6" cy="942.4" r="11.1"/><circle cx="1310.9" cy="948.4" r="11.1"/><circle cx="1307.4" cy="953.6" r="11.1"/><circle cx="1323.7" cy="945.0" r="11.1"/><circle cx="1328.0" cy="961.3" r="11.1"/><circle cx="1327.2" cy="971.6" r="11.1"/><circle cx="1326.3" cy="976.7" r="11.1"/><circle cx="1346.0" cy="972.4" r="11.1"/><circle cx="1349.4" cy="978.4" r="11.1"/><circle cx="1354.6" cy="946.7" r="11.1"/><circle cx="1382.0" cy="953.6" r="11.1"/><circle cx="1380.3" cy="963.9" r="11.1"/><circle cx="1381.2" cy="981.0" r="11.1"/><circle cx="1286.0" cy="987.0" r="11.1"/><circle cx="1280.0" cy="1002.4" r="11.1"/><circle cx="1338.3" cy="1000.7" r="11.1"/><circle cx="1389.7" cy="1000.7" r="11.1"/><circle cx="1459.1" cy="836.2" r="11.1"/><circle cx="1512.6" cy="836.2" r="11.1"/><circle cx="1471.1" cy="859.6" r="11.1"/><circle cx="1471.8" cy="879.0" r="11.1"/><circle cx="1489.2" cy="887.9" r="11.1"/><circle cx="1499.8" cy="892.0" r="11.1"/><circle cx="1530.3" cy="886.1" r="11.1"/><circle cx="1545.9" cy="896.4" r="11.1"/><circle cx="1610.0" cy="890.7" r="11.1"/><circle cx="1608.8" cy="909.7" r="11.1"/><circle cx="1403.3" cy="868.0" r="11.1"/><circle cx="1400.6" cy="873.4" r="11.1"/><circle cx="1405.9" cy="882.2" r="11.1"/><circle cx="1404.2" cy="887.5" r="11.1"/><circle cx="1413.0" cy="894.6" r="11.1"/><circle cx="1390.0" cy="894.6" r="11.1"/><circle cx="1435.2" cy="894.6" r="11.1"/><circle cx="1432.5" cy="900.0" r="11.1"/><circle cx="1434.3" cy="903.5" r="11.1"/><circle cx="1425.4" cy="901.7" r="11.1"/><circle cx="1450.2" cy="912.3" r="11.1"/><circle cx="1409.5" cy="912.3" r="11.1"/><circle cx="1464.4" cy="915.0" r="11.1"/><circle cx="1412.9" cy="915.1" r="11.1"/><circle cx="1450.4" cy="916.0" r="11.1"/><circle cx="1465.0" cy="925.2" r="11.1"/><circle cx="1469.6" cy="935.2" r="11.1"/><circle cx="1447.7" cy="928.8" r="11.1"/><circle cx="1449.5" cy="924.3" r="11.1"/><circle cx="1425.7" cy="927.0" r="11.1"/><circle cx="1395.5" cy="931.6" r="11.1"/><circle cx="1410.2" cy="942.5" r="11.1"/><circle cx="1426.6" cy="941.6" r="11.1"/><circle cx="1444.9" cy="948.0" r="11.1"/><circle cx="1385.5" cy="955.3" r="11.1"/><circle cx="1383.7" cy="961.7" r="11.1"/><circle cx="1416.6" cy="963.6" r="11.1"/><circle cx="1419.3" cy="972.7" r="11.1"/><circle cx="1451.3" cy="975.5" r="11.1"/><circle cx="1450.4" cy="980.0" r="11.1"/><circle cx="1385.5" cy="980.0" r="11.1"/><circle cx="1469.6" cy="957.2" r="11.1"/><circle cx="1480.6" cy="960.8" r="11.1"/><circle cx="1489.7" cy="957.2" r="11.1"/><circle cx="1483.3" cy="982.8" r="11.1"/><circle cx="1501.6" cy="927.9" r="11.1"/><circle cx="1508.0" cy="948.0" r="11.1"/><circle cx="1504.3" cy="951.7" r="11.1"/><circle cx="1519.9" cy="965.4" r="11.1"/><circle cx="1508.0" cy="970.0" r="11.1"/><circle cx="1504.3" cy="976.4" r="11.1"/><circle cx="1506.2" cy="979.1" r="11.1"/><circle cx="1562.8" cy="940.7" r="11.1"/><circle cx="1551.0" cy="948.6" r="11.1"/><circle cx="1671.6" cy="934.3" r="11.1"/><circle cx="1691.8" cy="953.1" r="11.1"/><circle cx="1628.7" cy="956.6" r="11.1"/><circle cx="1604.9" cy="962.7" r="11.1"/><circle cx="1603.1" cy="969.1" r="11.1"/><circle cx="1584.8" cy="980.9" r="11.1"/><circle cx="1658.8" cy="995.6" r="11.1"/><circle cx="1658.8" cy="1038.5" r="11.1"/><circle cx="1610.4" cy="1030.3" r="11.1"/><circle cx="1590.3" cy="1037.6" r="11.1"/><circle cx="1594.8" cy="1039.4" r="11.1"/><circle cx="1390.1" cy="1001.0" r="11.1"/><circle cx="1419.3" cy="999.2" r="11.1"/><circle cx="1414.7" cy="1010.2" r="11.1"/><circle cx="1402.9" cy="1012.9" r="11.1"/><circle cx="1441.3" cy="1000.7" r="11.1"/><circle cx="1392.8" cy="1034.9" r="11.1"/><circle cx="1434.9" cy="1037.6" r="11.1"/><circle cx="1453.1" cy="1036.7" r="11.1"/><circle cx="1455.0" cy="1039.4" r="11.1"/><circle cx="1425.7" cy="1048.6" r="11.1"/><circle cx="1533.6" cy="1002.9" r="11.1"/><circle cx="1545.5" cy="1000.1" r="11.1"/><circle cx="1506.2" cy="1006.5" r="11.1"/><circle cx="1515.3" cy="1015.7" r="11.1"/><circle cx="1513.5" cy="1023.0" r="11.1"/><circle cx="1540.9" cy="1019.3" r="11.1"/><circle cx="1548.2" cy="1023.0" r="11.1"/><circle cx="1522.6" cy="1030.3" r="11.1"/><circle cx="1538.2" cy="1037.6" r="11.1"/><circle cx="1544.6" cy="1039.4" r="11.1"/><circle cx="1562.8" cy="1037.6" r="11.1"/><circle cx="1588.5" cy="1052.3" r="11.1"/><circle cx="1555.5" cy="1054.1" r="11.1"/><circle cx="1647.0" cy="1055.0" r="11.1"/><circle cx="1366.6" cy="1026.9" r="11.1"/><circle cx="1366.0" cy="1025.0" r="11.1"/><circle cx="1346.9" cy="1036.6" r="11.1"/><circle cx="1327.2" cy="1052.1" r="11.1"/><circle cx="1370.9" cy="1054.8" r="11.1"/><circle cx="1319.4" cy="1091.5" r="11.1"/><circle cx="1398.3" cy="1074.0" r="11.1"/><circle cx="1394.9" cy="1091.1" r="11.1"/><circle cx="1398.3" cy="1092.9" r="11.1"/><circle cx="1399.2" cy="1123.7" r="11.1"/><circle cx="1436.7" cy="1059.3" r="11.1"/><circle cx="1423.9" cy="1068.4" r="11.1"/><circle cx="1429.4" cy="1066.6" r="11.1"/><circle cx="1403.8" cy="1073.9" r="11.1"/><circle cx="1406.5" cy="1075.7" r="11.1"/><circle cx="1426.6" cy="1078.5" r="11.1"/><circle cx="1450.4" cy="1071.1" r="11.1"/><circle cx="1467.8" cy="1072.4" r="11.1"/><circle cx="1397.4" cy="1090.3" r="11.1"/><circle cx="1406.5" cy="1094.9" r="11.1"/><circle cx="1440.3" cy="1091.3" r="11.1"/><circle cx="1436.7" cy="1098.6" r="11.1"/><circle cx="1457.7" cy="1088.5" r="11.1"/><circle cx="1418.4" cy="1109.5" r="11.1"/><circle cx="1407.4" cy="1124.7" r="11.1"/><circle cx="1476.5" cy="1136.1" r="11.1"/><circle cx="1539.1" cy="1037.3" r="11.1"/><circle cx="1551.9" cy="1042.8" r="11.1"/><circle cx="1564.7" cy="1039.1" r="11.1"/><circle cx="1556.4" cy="1062.9" r="11.1"/><circle cx="1570.2" cy="1078.5" r="11.1"/><circle cx="1575.6" cy="1079.4" r="11.1"/><circle cx="1572.9" cy="1084.9" r="11.1"/><circle cx="1586.6" cy="1055.6" r="11.1"/><circle cx="1593.0" cy="1039.1" r="11.1"/><circle cx="1583.0" cy="1105.0" r="11.1"/><circle cx="1602.2" cy="1098.6" r="11.1"/><circle cx="1625.9" cy="1094.9" r="11.1"/><circle cx="1614.0" cy="1105.9" r="11.1"/><circle cx="1599.4" cy="1114.1" r="11.1"/><circle cx="1602.2" cy="1117.8" r="11.1"/><circle cx="1598.5" cy="1126.9" r="11.1"/><circle cx="1617.7" cy="1123.3" r="11.1"/><circle cx="1632.3" cy="1126.9" r="11.1"/><circle cx="1636.9" cy="1123.3" r="11.1"/><circle cx="1611.3" cy="1139.7" r="11.1"/><circle cx="1612.2" cy="1150.7" r="11.1"/><circle cx="1647.0" cy="1063.8" r="11.1"/><circle cx="1663.4" cy="1090.3" r="11.1"/></g>
<polygon points="1129.1,746.5 1143.2,755.8 1157.2,765.1 1171.3,774.4 1185.4,783.7 1199.4,793.0 1213.5,802.2 1227.6,811.5 1241.6,820.7 1255.7,829.8 1269.8,839.0 1283.8,848.1 1297.9,857.2 1312.0,866.2 1326.0,875.1 1340.1,884.1 1354.2,892.9 1368.2,901.7 1382.3,910.4 1396.4,919.0 1410.4,927.5 1424.5,936.0 1438.6,944.4 1452.7,952.7 1466.7,960.9 1480.8,969.1 1494.9,977.2 1508.9,985.2 1523.0,993.2 1537.1,1001.1 1551.1,1009.0 1565.2,1016.9 1579.3,1024.7 1593.3,1032.5 1607.4,1040.3 1621.5,1048.0 1635.5,1055.7 1649.6,1063.5 1663.7,1071.2 1677.7,1078.9 1691.8,1086.5 1691.8,1130.7 1677.7,1121.3 1663.7,1112.0 1649.6,1102.7 1635.5,1093.4 1621.5,1084.2 1607.4,1074.9 1593.3,1065.7 1579.3,1056.5 1565.2,1047.3 1551.1,1038.2 1537.1,1029.0 1523.0,1020.0 1508.9,1011.0 1494.9,1002.0 1480.8,993.1 1466.7,984.2 1452.7,975.4 1438.6,966.7 1424.5,958.1 1410.4,949.6 1396.4,941.1 1382.3,932.7 1368.2,924.4 1354.2,916.2 1340.1,908.0 1326.0,899.9 1312.0,891.9 1297.9,883.9 1283.8,876.0 1269.8,868.1 1255.7,860.2 1241.6,852.4 1227.6,844.6 1213.5,836.8 1199.4,829.0 1185.4,821.3 1171.3,813.6 1157.2,805.9 1143.2,798.2 1129.1,790.5" fill="#FF0000" fill-opacity="0.2"/>
<line x1="1129.1" y1="768.5" x2="1691.8" y2="1108.6" stroke="#545454" stroke-width="5"/></g>
<rect x="1073.0" y="696.5" width="676.0" height="496.5" fill="none" stroke="#262626" stroke-width="2"/>
<text x="1156.5" y="1233.5" font-size="29" text-anchor="middle" fill="#262626">-12</text>
<text x="1246.0" y="1233.5" font-size="29" text-anchor="middle" fill="#262626">-10</text>
<text x="1335.5" y="1233.5" font-size="29" text-anchor="middle" fill="#262626">-8</text>
<text x="1425.0" y="1233.5" font-size="29" text-anchor="middle" fill="#262626">-6</text>
<text x="1514.5" y="1233.5" font-size="29" text-anchor="middle" fill="#262626">-4</text>
<text x="1604.0" y="1233.5" font-size="29" text-anchor="middle" fill="#262626">-2</text>
<text x="1693.5" y="1233.5" font-size="29" text-anchor="middle" fill="#262626">0</text>
<text x="1061.5" y="707.3" font-size="29" text-anchor="end" fill="#262626">200</text>
<text x="1061.5" y="872.5" font-size="29" text-anchor="end" fill="#262626">100</text>
<text x="1061.5" y="1037.7" font-size="29" text-anchor="end" fill="#262626">0</text>
<text x="1061.5" y="1202.9" font-size="29" text-anchor="end" fill="#262626">-100</text>
<path d="M1157.8 1193.0v-8M1157.8 696.5v8M1247.3 1193.0v-8M1247.3 696.5v8M1336.8 1193.0v-8M1336.8 696.5v8M1426.3 1193.0v-8M1426.3 696.5v8M1515.8 1193.0v-8M1515.8 696.5v8M1605.3 1193.0v-8M1605.3 696.5v8M1694.8 1193.0v-8M1694.8 696.5v8M1073.0 697.0h8M1749.0 697.0h-8M1073.0 862.2h8M1749.0 862.2h-8M1073.0 1027.4h8M1749.0 1027.4h-8M1073.0 1192.6h8M1749.0 1192.6h-8" stroke="#262626" stroke-width="2"/>
<text x="1411.0" y="1274.3" font-size="31.2" text-anchor="middle" fill="#262626">Change in FC_dw (percentage point)</text>
<text transform="translate(985 944.8) rotate(-90)" x="0" y="0" font-size="31.2" text-anchor="middle" fill="#262626">Change in distance (km)</text>
<g id="sc2"><g fill="#0072BD" fill-opacity="0.6"><circle cx="1436.0" cy="1389.1" r="11.1"/><circle cx="1457.4" cy="1420.6" r="11.1"/><circle cx="1411.1" cy="1437.4" r="11.1"/><circle cx="1418.0" cy="1440.0" r="11.1"/><circle cx="1425.7" cy="1446.0" r="11.1"/><circle cx="1499.1" cy="1399.7" r="11.1"/><circle cx="1496.0" cy="1416.0" r="11.1"/><circle cx="1507.2" cy="1414.3" r="11.1"/><circle cx="1489.1" cy="1427.1" r="11.1"/><circle cx="1499.4" cy="1425.4" r="11.1"/><circle cx="1507.2" cy="1428.9" r="11.1"/><circle cx="1486.6" cy="1440.9" r="11.1"/><circle cx="1484.0" cy="1452.9" r="11.1"/><circle cx="1489.1" cy="1454.6" r="11.1"/><circle cx="1493.4" cy="1458.9" r="11.1"/><circle cx="1490.9" cy="1470.9" r="11.1"/><circle cx="1485.7" cy="1483.7" r="11.1"/><circle cx="1527.7" cy="1414.3" r="11.1"/><circle cx="1532.0" cy="1420.3" r="11.1"/><circle cx="1537.1" cy="1404.9" r="11.1"/><circle cx="1531.1" cy="1434.9" r="11.1"/><circle cx="1537.1" cy="1437.4" r="11.1"/><circle cx="1537.1" cy="1432.3" r="11.1"/><circle cx="1522.6" cy="1452.0" r="11.1"/><circle cx="1524.0" cy="1455.0" r="11.1"/><circle cx="1533.7" cy="1464.0" r="11.1"/><circle cx="1583.4" cy="1403.1" r="11.1"/><circle cx="1590.3" cy="1397.1" r="11.1"/><circle cx="1585.0" cy="1405.0" r="11.1"/><circle cx="1602.3" cy="1389.1" r="11.1"/><circle cx="1668.3" cy="1370.6" r="11.1"/><circle cx="1655.4" cy="1377.4" r="11.1"/><circle cx="1645.2" cy="1388.6" r="11.1"/><circle cx="1637.4" cy="1405.7" r="11.1"/><circle cx="1626.3" cy="1419.4" r="11.1"/><circle cx="1648.6" cy="1422.0" r="11.1"/><circle cx="1658.0" cy="1428.0" r="11.1"/><circle cx="1569.7" cy="1432.3" r="11.1"/><circle cx="1578.3" cy="1435.7" r="11.1"/><circle cx="1591.2" cy="1427.1" r="11.1"/><circle cx="1604.0" cy="1428.9" r="11.1"/><circle cx="1615.2" cy="1438.3" r="11.1"/><circle cx="1616.0" cy="1440.0" r="11.1"/><circle cx="1562.9" cy="1446.0" r="11.1"/><circle cx="1571.4" cy="1459.7" r="11.1"/><circle cx="1573.2" cy="1461.4" r="11.1"/><circle cx="1590.3" cy="1455.4" r="11.1"/><circle cx="1590.3" cy="1459.7" r="11.1"/><circle cx="1608.3" cy="1462.3" r="11.1"/><circle cx="1629.7" cy="1461.4" r="11.1"/><circle cx="1645.2" cy="1449.4" r="11.1"/><circle cx="1654.6" cy="1446.0" r="11.1"/><circle cx="1664.0" cy="1463.1" r="11.1"/><circle cx="1646.9" cy="1473.4" r="11.1"/><circle cx="1551.7" cy="1463.1" r="11.1"/><circle cx="1561.2" cy="1478.6" r="11.1"/><circle cx="1562.9" cy="1476.9" r="11.1"/><circle cx="1544.0" cy="1485.4" r="11.1"/><circle cx="1602.3" cy="1476.9" r="11.1"/><circle cx="1603.1" cy="1473.4" r="11.1"/><circle cx="1614.3" cy="1482.0" r="11.1"/><circle cx="1615.2" cy="1492.3" r="11.1"/><circle cx="1636.6" cy="1482.0" r="11.1"/><circle cx="1639.2" cy="1488.9" r="11.1"/><circle cx="1580.0" cy="1488.9" r="11.1"/><circle cx="1585.2" cy="1492.3" r="11.1"/><circle cx="1595.4" cy="1492.3" r="11.1"/><circle cx="1527.7" cy="1499.1" r="11.1"/><circle cx="1422.3" cy="1510.9" r="11.1"/><circle cx="1430.9" cy="1511.7" r="11.1"/><circle cx="1424.0" cy="1518.6" r="11.1"/><circle cx="1483.1" cy="1523.7" r="11.1"/><circle cx="1436.0" cy="1540.9" r="11.1"/><circle cx="1466.0" cy="1544.3" r="11.1"/><circle cx="1487.4" cy="1540.9" r="11.1"/><circle cx="1426.6" cy="1562.3" r="11.1"/><circle cx="1527.7" cy="1504.9" r="11.1"/><circle cx="1538.9" cy="1506.6" r="11.1"/><circle cx="1547.4" cy="1505.7" r="11.1"/><circle cx="1554.3" cy="1507.4" r="11.1"/><circle cx="1550.9" cy="1514.3" r="11.1"/><circle cx="1545.7" cy="1521.1" r="11.1"/><circle cx="1554.3" cy="1524.6" r="11.1"/><circle cx="1559.4" cy="1502.3" r="11.1"/><circle cx="1560.3" cy="1517.7" r="11.1"/><circle cx="1580.0" cy="1492.0" r="11.1"/><circle cx="1586.9" cy="1495.4" r="11.1"/><circle cx="1593.7" cy="1490.3" r="11.1"/><circle cx="1598.9" cy="1497.1" r="11.1"/><circle cx="1592.0" cy="1505.7" r="11.1"/><circle cx="1598.9" cy="1512.6" r="11.1"/><circle cx="1585.2" cy="1512.6" r="11.1"/><circle cx="1578.3" cy="1510.9" r="11.1"/><circle cx="1626.3" cy="1516.9" r="11.1"/><circle cx="1645.2" cy="1525.4" r="11.1"/><circle cx="1672.6" cy="1505.7" r="11.1"/><circle cx="1616.0" cy="1540.0" r="11.1"/><circle cx="1630.6" cy="1539.1" r="11.1"/><circle cx="1669.2" cy="1543.4" r="11.1"/><circle cx="1669.2" cy="1546.0" r="11.1"/><circle cx="1644.3" cy="1553.7" r="11.1"/><circle cx="1692.3" cy="1552.9" r="11.1"/><circle cx="1545.7" cy="1534.9" r="11.1"/><circle cx="1550.9" cy="1543.4" r="11.1"/><circle cx="1564.6" cy="1536.6" r="11.1"/><circle cx="1571.4" cy="1545.1" r="11.1"/><circle cx="1578.3" cy="1536.6" r="11.1"/><circle cx="1588.6" cy="1531.4" r="11.1"/><circle cx="1595.4" cy="1540.0" r="11.1"/><circle cx="1545.7" cy="1548.6" r="11.1"/><circle cx="1557.7" cy="1552.0" r="11.1"/><circle cx="1568.0" cy="1553.7" r="11.1"/><circle cx="1528.6" cy="1552.0" r="11.1"/><circle cx="1578.3" cy="1557.1" r="11.1"/><circle cx="1588.6" cy="1560.6" r="11.1"/><circle cx="1597.1" cy="1555.4" r="11.1"/><circle cx="1598.9" cy="1565.7" r="11.1"/><circle cx="1578.3" cy="1569.1" r="11.1"/><circle cx="1557.7" cy="1567.4" r="11.1"/><circle cx="1564.6" cy="1576.0" r="11.1"/><circle cx="1569.7" cy="1581.1" r="11.1"/><circle cx="1561.2" cy="1582.9" r="11.1"/><circle cx="1598.0" cy="1582.9" r="11.1"/><circle cx="1634.9" cy="1577.7" r="11.1"/><circle cx="1647.7" cy="1583.7" r="11.1"/><circle cx="1488.3" cy="1570.0" r="11.1"/><circle cx="1494.3" cy="1582.0" r="11.1"/><circle cx="1501.1" cy="1586.3" r="11.1"/><circle cx="1504.6" cy="1591.4" r="11.1"/><circle cx="1511.4" cy="1600.0" r="11.1"/><circle cx="1532.0" cy="1585.4" r="11.1"/><circle cx="1542.3" cy="1579.4" r="11.1"/><circle cx="1544.0" cy="1594.0" r="11.1"/><circle cx="1554.3" cy="1589.7" r="11.1"/><circle cx="1581.7" cy="1591.4" r="11.1"/><circle cx="1578.3" cy="1600.0" r="11.1"/><circle cx="1585.2" cy="1603.4" r="11.1"/><circle cx="1593.7" cy="1603.4" r="11.1"/><circle cx="1600.6" cy="1600.0" r="11.1"/><circle cx="1602.3" cy="1610.3" r="11.1"/><circle cx="1607.4" cy="1605.1" r="11.1"/><circle cx="1624.6" cy="1602.6" r="11.1"/><circle cx="1616.0" cy="1618.9" r="11.1"/><circle cx="1407.7" cy="1595.7" r="11.1"/><circle cx="1420.6" cy="1610.3" r="11.1"/><circle cx="1440.3" cy="1612.0" r="11.1"/><circle cx="1460.0" cy="1596.6" r="11.1"/><circle cx="1476.3" cy="1600.0" r="11.1"/><circle cx="1425.7" cy="1622.3" r="11.1"/><circle cx="1408.6" cy="1627.4" r="11.1"/><circle cx="1480.6" cy="1622.3" r="11.1"/><circle cx="1490.0" cy="1618.9" r="11.1"/><circle cx="1511.4" cy="1618.9" r="11.1"/><circle cx="1526.9" cy="1610.3" r="11.1"/><circle cx="1535.4" cy="1613.7" r="11.1"/><circle cx="1547.4" cy="1606.9" r="11.1"/><circle cx="1552.6" cy="1610.3" r="11.1"/><circle cx="1559.4" cy="1615.4" r="11.1"/><circle cx="1567.2" cy="1613.7" r="11.1"/><circle cx="1571.4" cy="1601.7" r="11.1"/><circle cx="1574.9" cy="1596.6" r="11.1"/><circle cx="1595.4" cy="1617.1" r="11.1"/><circle cx="1604.0" cy="1620.6" r="11.1"/><circle cx="1593.7" cy="1627.4" r="11.1"/><circle cx="1410.3" cy="1632.1" r="11.1"/><circle cx="1480.6" cy="1632.1" r="11.1"/><circle cx="1480.6" cy="1639.0" r="11.1"/><circle cx="1485.7" cy="1642.4" r="11.1"/><circle cx="1497.7" cy="1645.9" r="11.1"/><circle cx="1508.0" cy="1643.3" r="11.1"/><circle cx="1513.1" cy="1623.6" r="11.1"/><circle cx="1523.4" cy="1642.4" r="11.1"/><circle cx="1530.3" cy="1633.9" r="11.1"/><circle cx="1540.6" cy="1634.7" r="11.1"/><circle cx="1562.9" cy="1647.6" r="11.1"/><circle cx="1559.4" cy="1656.1" r="11.1"/><circle cx="1571.4" cy="1661.3" r="11.1"/><circle cx="1554.3" cy="1659.6" r="11.1"/><circle cx="1538.9" cy="1663.0" r="11.1"/><circle cx="1542.3" cy="1656.1" r="11.1"/><circle cx="1588.6" cy="1638.1" r="11.1"/><circle cx="1592.9" cy="1632.1" r="11.1"/><circle cx="1605.7" cy="1630.4" r="11.1"/><circle cx="1616.0" cy="1653.6" r="11.1"/><circle cx="1605.7" cy="1666.4" r="11.1"/><circle cx="1416.3" cy="1662.1" r="11.1"/><circle cx="1417.1" cy="1669.0" r="11.1"/><circle cx="1403.4" cy="1668.1" r="11.1"/><circle cx="1438.6" cy="1674.1" r="11.1"/><circle cx="1403.4" cy="1688.7" r="11.1"/><circle cx="1442.9" cy="1687.9" r="11.1"/><circle cx="1459.1" cy="1685.3" r="11.1"/><circle cx="1475.4" cy="1664.7" r="11.1"/><circle cx="1493.4" cy="1673.3" r="11.1"/><circle cx="1512.3" cy="1672.4" r="11.1"/><circle cx="1529.4" cy="1677.6" r="11.1"/><circle cx="1549.1" cy="1681.0" r="11.1"/><circle cx="1557.7" cy="1682.7" r="11.1"/><circle cx="1565.4" cy="1687.0" r="11.1"/><circle cx="1484.0" cy="1690.4" r="11.1"/><circle cx="1488.3" cy="1689.6" r="11.1"/><circle cx="1504.6" cy="1693.9" r="11.1"/><circle cx="1509.7" cy="1698.1" r="11.1"/><circle cx="1533.7" cy="1699.0" r="11.1"/><circle cx="1568.0" cy="1693.9" r="11.1"/><circle cx="1586.0" cy="1690.4" r="11.1"/><circle cx="1607.4" cy="1698.1" r="11.1"/><circle cx="1427.4" cy="1713.6" r="11.1"/><circle cx="1440.3" cy="1711.9" r="11.1"/><circle cx="1484.9" cy="1719.6" r="11.1"/><circle cx="1498.6" cy="1732.4" r="11.1"/><circle cx="1565.4" cy="1717.9" r="11.1"/><circle cx="1568.9" cy="1746.7" r="11.1"/><circle cx="1479.7" cy="1782.1" r="11.1"/><circle cx="1311.4" cy="1442.0" r="11.1"/><circle cx="1333.7" cy="1469.4" r="11.1"/><circle cx="1346.2" cy="1479.2" r="11.1"/><circle cx="1221.8" cy="1494.6" r="11.1"/><circle cx="1251.4" cy="1511.4" r="11.1"/><circle cx="1292.2" cy="1494.3" r="11.1"/><circle cx="1310.2" cy="1507.5" r="11.1"/><circle cx="1338.0" cy="1524.8" r="11.1"/><circle cx="1377.8" cy="1541.4" r="11.1"/><circle cx="1382.9" cy="1559.4" r="11.1"/><circle cx="1260.0" cy="1578.3" r="11.1"/><circle cx="1310.2" cy="1572.3" r="11.1"/><circle cx="1129.2" cy="1642.0" r="11.1"/><circle cx="1134.0" cy="1730.6" r="11.1"/><circle cx="1142.2" cy="1752.9" r="11.1"/><circle cx="1268.6" cy="1590.0" r="11.1"/><circle cx="1325.7" cy="1603.2" r="11.1"/><circle cx="1214.6" cy="1670.6" r="11.1"/><circle cx="1223.2" cy="1674.0" r="11.1"/><circle cx="1217.7" cy="1703.7" r="11.1"/><circle cx="1249.7" cy="1698.5" r="11.1"/><circle cx="1249.7" cy="1728.9" r="11.1"/><circle cx="1280.2" cy="1698.0" r="11.1"/><circle cx="1289.7" cy="1711.7" r="11.1"/><circle cx="1302.0" cy="1717.7" r="11.1"/><circle cx="1274.2" cy="1726.0" r="11.1"/><circle cx="1303.4" cy="1686.0" r="11.1"/><circle cx="1317.4" cy="1664.9" r="11.1"/><circle cx="1328.1" cy="1716.4" r="11.1"/><circle cx="1332.9" cy="1752.0" r="11.1"/><circle cx="1372.0" cy="1641.4" r="11.1"/><circle cx="1374.0" cy="1677.4" r="11.1"/><circle cx="1356.4" cy="1688.9" r="11.1"/><circle cx="1375.7" cy="1705.4" r="11.1"/></g>
<polygon points="1128.9,1646.0 1143.0,1642.8 1157.1,1639.5 1171.2,1636.3 1185.2,1633.0 1199.3,1629.7 1213.4,1626.5 1227.5,1623.2 1241.6,1619.9 1255.7,1616.6 1269.8,1613.3 1283.8,1610.0 1297.9,1606.6 1312.0,1603.3 1326.1,1599.9 1340.2,1596.5 1354.3,1593.1 1368.3,1589.6 1382.4,1586.1 1396.5,1582.5 1410.6,1578.9 1424.7,1575.3 1438.8,1571.5 1452.9,1567.7 1466.9,1563.7 1481.0,1559.7 1495.1,1555.5 1509.2,1551.1 1523.3,1546.6 1537.4,1541.9 1551.5,1537.1 1565.5,1532.2 1579.6,1527.1 1593.7,1521.9 1607.8,1516.6 1621.9,1511.2 1636.0,1505.7 1650.0,1500.2 1664.1,1494.6 1678.2,1489.0 1692.3,1483.3 1692.3,1524.7 1678.2,1528.1 1664.1,1531.6 1650.0,1535.1 1636.0,1538.7 1621.9,1542.3 1607.8,1546.0 1593.7,1549.8 1579.6,1553.7 1565.5,1557.7 1551.5,1561.9 1537.4,1566.2 1523.3,1570.6 1509.2,1575.2 1495.1,1579.9 1481.0,1584.8 1466.9,1589.9 1452.9,1595.0 1438.8,1600.3 1424.7,1605.6 1410.6,1611.1 1396.5,1616.6 1382.4,1622.1 1368.3,1627.7 1354.3,1633.3 1340.2,1639.0 1326.1,1644.7 1312.0,1650.4 1297.9,1656.2 1283.8,1661.9 1269.8,1667.7 1255.7,1673.5 1241.6,1679.3 1227.5,1685.1 1213.4,1690.9 1199.3,1696.8 1185.2,1702.6 1171.2,1708.4 1157.1,1714.3 1143.0,1720.1 1128.9,1726.0" fill="#FF0000" fill-opacity="0.2"/>
<line x1="1128.9" y1="1686.0" x2="1692.3" y2="1504.0" stroke="#545454" stroke-width="5"/></g>
<rect x="1073.0" y="1329.4" width="676.0" height="495.0" fill="none" stroke="#262626" stroke-width="2"/>
<text x="1153.5" y="1864.9" font-size="29" text-anchor="middle" fill="#262626">-40</text>
<text x="1263.2" y="1864.9" font-size="29" text-anchor="middle" fill="#262626">-30</text>
<text x="1372.9" y="1864.9" font-size="29" text-anchor="middle" fill="#262626">-20</text>
<text x="1482.6" y="1864.9" font-size="29" text-anchor="middle" fill="#262626">-10</text>
<text x="1592.3" y="1864.9" font-size="29" text-anchor="middle" fill="#262626">0</text>
<text x="1702.0" y="1864.9" font-size="29" text-anchor="middle" fill="#262626">10</text>
<text x="1061.5" y="1359.1" font-size="29" text-anchor="end" fill="#262626">0.2</text>
<text x="1061.5" y="1460.3" font-size="29" text-anchor="end" fill="#262626">0</text>
<text x="1061.5" y="1561.5" font-size="29" text-anchor="end" fill="#262626">-0.2</text>
<text x="1061.5" y="1662.7" font-size="29" text-anchor="end" fill="#262626">-0.4</text>
<text x="1061.5" y="1763.9" font-size="29" text-anchor="end" fill="#262626">-0.6</text>
<path d="M1154.8 1824.4v-8M1154.8 1329.4v8M1264.5 1824.4v-8M1264.5 1329.4v8M1374.2 1824.4v-8M1374.2 1329.4v8M1483.9 1824.4v-8M1483.9 1329.4v8M1593.6 1824.4v-8M1593.6 1329.4v8M1703.3 1824.4v-8M1703.3 1329.4v8M1073.0 1348.8h8M1749.0 1348.8h-8M1073.0 1450.0h8M1749.0 1450.0h-8M1073.0 1551.2h8M1749.0 1551.2h-8M1073.0 1652.4h8M1749.0 1652.4h-8M1073.0 1753.6h8M1749.0 1753.6h-8" stroke="#262626" stroke-width="2"/>
<text x="1411.0" y="1905.7" font-size="31.2" text-anchor="middle" fill="#262626">Change in forest cover (percentage point)</text>
<text transform="translate(985 1576.9) rotate(-90)" x="0" y="0" font-size="31.2" text-anchor="middle" fill="#262626">Change in ET fraction (-)</text>
<text x="1142" y="135.6" font-size="30" fill="#000"><tspan font-style="italic">R</tspan><tspan font-size="23" dy="-14" dx="1">2</tspan><tspan dy="14" dx="0.8"> = 0.40</tspan></text>
<text x="1142" y="178.8" font-size="29.5" fill="#000"><tspan font-style="italic">p</tspan><tspan dx="1"> &lt;</tspan><tspan dx="1.5" font-size="29"> 0.001</tspan></text>
<text x="1142" y="1088.6" font-size="30" fill="#000"><tspan font-style="italic">R</tspan><tspan font-size="23" dy="-14" dx="1">2</tspan><tspan dy="14" dx="0.8"> = 0.51</tspan></text>
<text x="1142" y="1131.8" font-size="29.5" fill="#000"><tspan font-style="italic">p</tspan><tspan dx="1"> &lt;</tspan><tspan dx="1.5" font-size="29"> 0.001</tspan></text>
<text x="1142" y="1399.7" font-size="30" fill="#000"><tspan font-style="italic">R</tspan><tspan font-size="23" dy="-14" dx="1">2</tspan><tspan dy="14" dx="0.8"> = 0.14</tspan></text>
<text x="1142" y="1442.9" font-size="29.5" fill="#000"><tspan font-style="italic">p</tspan><tspan dx="1"> &lt;</tspan><tspan dx="1.5" font-size="29"> 0.001</tspan></text>
</svg>
</body></html>
